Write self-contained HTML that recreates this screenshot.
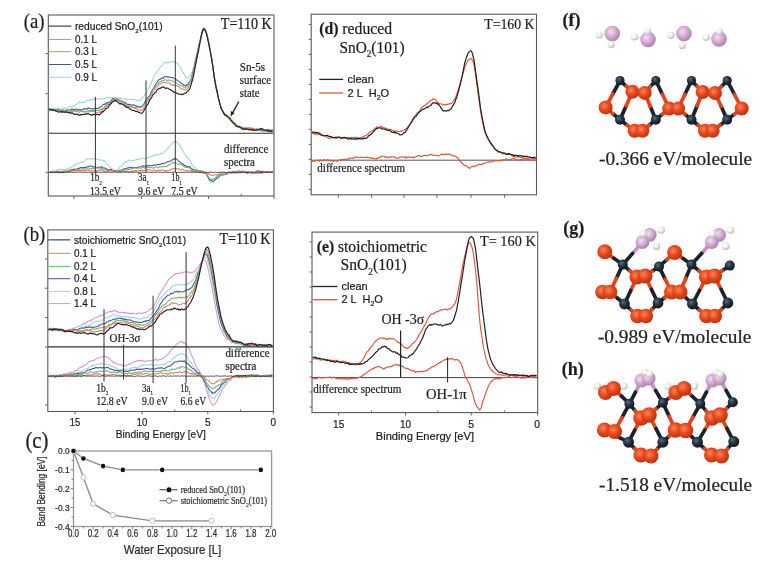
<!DOCTYPE html>
<html><head><meta charset="utf-8"><style>
html,body{margin:0;padding:0;background:#fff;}
svg{display:block;}
text{stroke:#1e1e1e;stroke-width:0.22px;}
</style></head><body>
<svg width="762" height="567" viewBox="0 0 762 567">
<defs>
<radialGradient id="gR" cx="40%" cy="38%" r="65%"><stop offset="0" stop-color="#f7865a"/><stop offset="0.5" stop-color="#e8471c"/><stop offset="1" stop-color="#b8320e"/></radialGradient>
<radialGradient id="gD" cx="38%" cy="35%" r="65%"><stop offset="0" stop-color="#5d6b78"/><stop offset="0.5" stop-color="#243242"/><stop offset="1" stop-color="#131a22"/></radialGradient>
<radialGradient id="gP" cx="40%" cy="38%" r="65%"><stop offset="0" stop-color="#f2e0f0"/><stop offset="0.5" stop-color="#d6aad5"/><stop offset="1" stop-color="#a880a8"/></radialGradient>
<radialGradient id="gH" cx="38%" cy="35%" r="65%"><stop offset="0" stop-color="#ffffff"/><stop offset="0.5" stop-color="#f0f0ea"/><stop offset="1" stop-color="#bdbdb5"/></radialGradient>
<filter id="bl" x="0" y="0" width="100%" height="100%"><feGaussianBlur stdDeviation="0.3"/></filter>
</defs>
<rect width="762" height="567" fill="#fff"/>
<g filter="url(#bl)">
<path d="M48.8,109.0 L49.6,108.8 L50.4,108.5 L51.2,108.8 L52.0,108.9 L52.8,109.0 L53.6,108.5 L54.4,108.9 L55.2,108.6 L56.0,108.0 L56.8,108.7 L57.6,108.4 L58.4,108.6 L59.2,109.1 L60.0,109.2 L60.8,109.3 L61.6,108.8 L62.4,108.7 L63.2,108.5 L64.0,108.2 L64.8,108.0 L65.6,108.0 L66.4,107.7 L67.2,108.3 L68.0,108.0 L68.8,106.9 L69.6,106.2 L70.4,106.6 L71.2,107.1 L72.0,106.8 L72.8,106.7 L73.6,106.1 L74.4,105.7 L75.2,105.3 L76.0,104.0 L76.8,104.4 L77.6,103.7 L78.4,102.4 L79.2,101.9 L80.0,102.6 L80.8,102.2 L81.6,102.7 L82.4,102.3 L83.2,102.6 L84.0,102.3 L84.8,102.3 L85.6,101.8 L86.4,100.9 L87.2,100.6 L88.0,100.4 L88.8,100.3 L89.6,100.4 L90.4,99.6 L91.2,99.6 L92.0,99.6 L92.8,99.7 L93.6,99.2 L94.4,98.7 L95.2,99.8 L96.0,99.3 L96.8,98.6 L97.6,99.2 L98.4,99.0 L99.2,98.9 L100.0,98.6 L100.8,98.7 L101.6,98.7 L102.4,99.3 L103.2,98.5 L104.0,98.3 L104.8,98.4 L105.6,98.5 L106.4,97.3 L107.2,97.3 L108.0,97.6 L108.8,97.3 L109.6,98.2 L110.4,97.8 L111.2,97.8 L112.0,97.9 L112.8,97.5 L113.6,97.1 L114.4,97.4 L115.2,98.0 L116.0,97.8 L116.8,98.1 L117.6,98.3 L118.4,97.7 L119.2,97.5 L120.0,97.7 L120.8,98.2 L121.6,98.5 L122.4,99.1 L123.2,99.0 L124.0,98.8 L124.8,98.7 L125.6,99.0 L126.4,99.4 L127.2,99.4 L128.0,99.2 L128.8,99.7 L129.6,99.8 L130.4,99.3 L131.2,99.4 L132.0,99.3 L132.8,99.5 L133.6,99.1 L134.4,99.3 L135.2,100.0 L136.0,100.1 L136.8,100.5 L137.6,100.7 L138.4,99.8 L139.2,99.9 L140.0,100.4 L140.8,100.1 L141.6,98.9 L142.4,97.9 L143.2,96.8 L144.0,96.2 L144.8,94.7 L145.6,94.4 L146.4,92.6 L147.2,91.7 L148.0,89.2 L148.8,88.2 L149.6,86.4 L150.4,84.5 L151.2,83.3 L152.0,81.5 L152.8,79.5 L153.6,77.4 L154.4,75.1 L155.2,74.0 L156.0,73.2 L156.8,72.3 L157.6,71.1 L158.4,69.7 L159.2,68.6 L160.0,67.6 L160.8,66.3 L161.6,66.2 L162.4,65.5 L163.2,63.9 L164.0,63.3 L164.8,62.3 L165.6,62.4 L166.4,62.5 L167.2,63.0 L168.0,62.8 L168.8,62.5 L169.6,62.2 L170.4,62.4 L171.2,61.9 L172.0,61.5 L172.8,61.6 L173.6,61.6 L174.4,61.9 L175.2,62.5 L176.0,62.7 L176.8,62.9 L177.6,63.8 L178.4,64.3 L179.2,66.0 L180.0,67.0 L180.8,67.7 L181.6,69.9 L182.4,71.5 L183.2,72.7 L184.0,74.0 L184.8,75.7 L185.6,77.1 L186.4,77.4 L187.2,77.2 L188.0,77.6 L188.8,77.3 L189.6,76.2 L190.4,75.6 L191.2,73.3 L192.0,71.9 L192.8,69.5 L193.6,66.8 L194.4,63.7 L195.2,60.3 L196.0,56.9 L196.8,53.3 L197.6,49.8 L198.4,46.1 L199.2,43.2 L200.0,39.7 L200.8,36.8 L201.6,33.4 L202.4,31.0 L203.2,28.6 L204.0,27.4 L204.8,28.3 L205.6,29.1 L206.4,32.1 L207.2,34.5 L208.0,38.5 L208.8,43.2 L209.6,47.5 L210.4,52.9 L211.2,57.5 L212.0,61.9 L212.8,67.7 L213.6,73.4 L214.4,79.5 L215.2,83.9 L216.0,88.2 L216.8,91.1 L217.6,95.3 L218.4,98.2 L219.2,101.7 L220.0,104.6 L220.8,107.4 L221.6,109.6 L222.4,111.3 L223.2,112.8 L224.0,113.7 L224.8,114.4 L225.6,114.6 L226.4,116.0 L227.2,116.7 L228.0,118.2 L228.8,118.7 L229.6,118.9 L230.4,119.3 L231.2,119.8 L232.0,120.8 L232.8,121.1 L233.6,121.9 L234.4,122.6 L235.2,123.8 L236.0,125.3 L236.8,126.4 L237.6,126.4 L238.4,126.2 L239.2,127.1 L240.0,127.0 L240.8,127.5 L241.6,127.3 L242.4,128.2 L243.2,128.1 L244.0,128.4 L244.8,127.6 L245.6,127.6 L246.4,127.9 L247.2,127.8 L248.0,128.0 L248.8,128.4 L249.6,128.0 L250.4,128.9 L251.2,129.2 L252.0,129.1 L252.8,128.9 L253.6,129.2 L254.4,129.0 L255.2,129.7 L256.0,129.9 L256.8,130.3 L257.6,129.3 L258.4,129.6 L259.2,130.8 L260.0,131.2 L260.8,130.8 L261.6,131.4 L262.4,130.8 L263.2,130.7 L264.0,131.0 L264.8,131.6 L265.6,131.3 L266.4,131.3 L267.2,131.8 L268.0,132.2 L268.8,131.5 L269.6,132.4 L270.4,131.5 L271.2,131.6 L272.0,131.5 L272.8,131.0" fill="none" stroke="#9dd6d8" stroke-width="1.05" stroke-linejoin="round" />
<path d="M48.8,109.1 L49.6,109.8 L50.4,110.6 L51.2,110.2 L52.0,110.2 L52.8,110.1 L53.6,110.7 L54.4,110.2 L55.2,109.5 L56.0,109.8 L56.8,109.7 L57.6,109.7 L58.4,109.2 L59.2,109.9 L60.0,109.9 L60.8,110.3 L61.6,110.5 L62.4,110.5 L63.2,110.2 L64.0,110.2 L64.8,110.9 L65.6,110.6 L66.4,110.7 L67.2,109.9 L68.0,109.9 L68.8,109.9 L69.6,110.0 L70.4,109.7 L71.2,109.2 L72.0,108.9 L72.8,109.3 L73.6,110.0 L74.4,109.5 L75.2,109.5 L76.0,109.0 L76.8,109.1 L77.6,109.4 L78.4,110.3 L79.2,109.3 L80.0,110.2 L80.8,109.8 L81.6,109.5 L82.4,109.7 L83.2,109.8 L84.0,108.4 L84.8,108.7 L85.6,108.8 L86.4,109.1 L87.2,108.8 L88.0,107.7 L88.8,108.4 L89.6,108.3 L90.4,108.7 L91.2,108.9 L92.0,109.0 L92.8,108.7 L93.6,108.7 L94.4,108.4 L95.2,108.1 L96.0,108.6 L96.8,108.6 L97.6,108.4 L98.4,107.8 L99.2,108.1 L100.0,107.3 L100.8,106.7 L101.6,106.3 L102.4,105.5 L103.2,104.3 L104.0,104.4 L104.8,104.1 L105.6,104.1 L106.4,102.9 L107.2,103.3 L108.0,102.4 L108.8,102.1 L109.6,102.7 L110.4,101.3 L111.2,100.8 L112.0,99.6 L112.8,98.6 L113.6,98.4 L114.4,99.1 L115.2,99.8 L116.0,99.9 L116.8,100.0 L117.6,98.7 L118.4,99.8 L119.2,100.3 L120.0,100.6 L120.8,100.6 L121.6,101.0 L122.4,101.4 L123.2,102.3 L124.0,102.1 L124.8,102.4 L125.6,103.0 L126.4,103.6 L127.2,104.3 L128.0,104.5 L128.8,104.3 L129.6,104.4 L130.4,104.5 L131.2,105.4 L132.0,105.0 L132.8,105.2 L133.6,104.6 L134.4,105.4 L135.2,105.8 L136.0,105.3 L136.8,106.3 L137.6,107.0 L138.4,106.1 L139.2,106.8 L140.0,107.1 L140.8,106.4 L141.6,106.3 L142.4,106.0 L143.2,104.8 L144.0,103.9 L144.8,102.0 L145.6,100.9 L146.4,99.4 L147.2,98.3 L148.0,97.4 L148.8,96.5 L149.6,95.5 L150.4,94.2 L151.2,91.7 L152.0,90.9 L152.8,89.3 L153.6,88.0 L154.4,86.9 L155.2,85.6 L156.0,83.3 L156.8,82.7 L157.6,81.3 L158.4,80.4 L159.2,79.4 L160.0,79.4 L160.8,79.1 L161.6,77.9 L162.4,78.0 L163.2,78.4 L164.0,76.9 L164.8,76.7 L165.6,76.8 L166.4,76.5 L167.2,76.5 L168.0,77.5 L168.8,76.9 L169.6,77.1 L170.4,77.3 L171.2,77.5 L172.0,77.6 L172.8,77.5 L173.6,78.1 L174.4,78.6 L175.2,79.0 L176.0,79.9 L176.8,79.8 L177.6,80.5 L178.4,81.1 L179.2,81.6 L180.0,82.4 L180.8,82.7 L181.6,83.6 L182.4,83.7 L183.2,84.9 L184.0,84.8 L184.8,85.5 L185.6,86.3 L186.4,85.0 L187.2,84.4 L188.0,84.2 L188.8,82.5 L189.6,82.1 L190.4,79.8 L191.2,78.5 L192.0,75.6 L192.8,73.0 L193.6,69.5 L194.4,66.5 L195.2,62.0 L196.0,58.5 L196.8,55.1 L197.6,50.8 L198.4,48.4 L199.2,44.1 L200.0,41.4 L200.8,37.4 L201.6,34.3 L202.4,31.0 L203.2,28.8 L204.0,28.2 L204.8,28.9 L205.6,30.3 L206.4,33.0 L207.2,36.4 L208.0,40.2 L208.8,43.5 L209.6,48.0 L210.4,52.0 L211.2,56.2 L212.0,61.0 L212.8,66.2 L213.6,72.3 L214.4,78.3 L215.2,82.9 L216.0,87.2 L216.8,90.3 L217.6,93.9 L218.4,97.8 L219.2,101.5 L220.0,104.3 L220.8,107.3 L221.6,109.5 L222.4,111.0 L223.2,112.5 L224.0,114.2 L224.8,115.2 L225.6,115.4 L226.4,116.1 L227.2,116.0 L228.0,116.4 L228.8,117.4 L229.6,117.6 L230.4,119.0 L231.2,119.4 L232.0,120.7 L232.8,121.8 L233.6,122.6 L234.4,123.6 L235.2,124.5 L236.0,125.8 L236.8,125.5 L237.6,125.9 L238.4,126.7 L239.2,127.2 L240.0,128.0 L240.8,128.1 L241.6,129.0 L242.4,129.5 L243.2,129.9 L244.0,129.2 L244.8,128.7 L245.6,129.0 L246.4,129.5 L247.2,128.9 L248.0,128.6 L248.8,128.1 L249.6,127.9 L250.4,128.3 L251.2,128.5 L252.0,128.8 L252.8,129.0 L253.6,128.9 L254.4,129.4 L255.2,129.6 L256.0,129.9 L256.8,130.1 L257.6,129.8 L258.4,130.1 L259.2,129.6 L260.0,130.2 L260.8,130.5 L261.6,130.0 L262.4,130.7 L263.2,130.6 L264.0,130.7 L264.8,130.3 L265.6,130.0 L266.4,131.1 L267.2,130.5 L268.0,131.2 L268.8,131.7 L269.6,131.1 L270.4,131.4 L271.2,131.9 L272.0,131.6 L272.8,131.3" fill="none" stroke="#44549a" stroke-width="1.05" stroke-linejoin="round" />
<path d="M48.8,110.0 L49.6,110.2 L50.4,110.8 L51.2,110.5 L52.0,110.2 L52.8,109.8 L53.6,110.0 L54.4,110.5 L55.2,110.3 L56.0,109.5 L56.8,109.8 L57.6,109.7 L58.4,110.3 L59.2,110.4 L60.0,110.6 L60.8,110.6 L61.6,111.0 L62.4,109.9 L63.2,110.3 L64.0,110.7 L64.8,110.3 L65.6,110.3 L66.4,109.7 L67.2,110.2 L68.0,109.7 L68.8,110.0 L69.6,110.1 L70.4,111.2 L71.2,110.6 L72.0,111.3 L72.8,110.5 L73.6,110.6 L74.4,110.8 L75.2,110.4 L76.0,110.6 L76.8,111.1 L77.6,110.7 L78.4,110.6 L79.2,110.7 L80.0,110.2 L80.8,110.7 L81.6,110.7 L82.4,110.0 L83.2,109.3 L84.0,109.9 L84.8,109.6 L85.6,109.3 L86.4,109.8 L87.2,109.8 L88.0,110.2 L88.8,110.9 L89.6,110.4 L90.4,110.5 L91.2,110.7 L92.0,110.0 L92.8,110.2 L93.6,110.6 L94.4,109.9 L95.2,110.5 L96.0,110.6 L96.8,110.6 L97.6,110.5 L98.4,110.1 L99.2,110.4 L100.0,109.5 L100.8,109.7 L101.6,108.8 L102.4,108.2 L103.2,108.2 L104.0,107.9 L104.8,106.7 L105.6,105.8 L106.4,105.7 L107.2,104.4 L108.0,104.5 L108.8,103.9 L109.6,102.5 L110.4,102.5 L111.2,101.4 L112.0,100.6 L112.8,99.5 L113.6,99.8 L114.4,98.8 L115.2,98.5 L116.0,98.6 L116.8,98.8 L117.6,99.4 L118.4,99.8 L119.2,100.0 L120.0,99.9 L120.8,100.7 L121.6,101.3 L122.4,102.3 L123.2,102.7 L124.0,103.4 L124.8,104.3 L125.6,105.3 L126.4,105.1 L127.2,105.2 L128.0,105.8 L128.8,105.9 L129.6,106.3 L130.4,106.2 L131.2,105.9 L132.0,106.3 L132.8,107.1 L133.6,107.4 L134.4,107.4 L135.2,107.3 L136.0,107.7 L136.8,107.9 L137.6,107.4 L138.4,107.1 L139.2,107.3 L140.0,107.8 L140.8,107.9 L141.6,107.3 L142.4,106.6 L143.2,105.7 L144.0,104.7 L144.8,103.8 L145.6,102.6 L146.4,100.1 L147.2,99.4 L148.0,98.8 L148.8,97.7 L149.6,96.7 L150.4,95.6 L151.2,93.7 L152.0,92.1 L152.8,89.8 L153.6,89.4 L154.4,87.3 L155.2,87.3 L156.0,85.6 L156.8,84.8 L157.6,84.1 L158.4,83.4 L159.2,82.1 L160.0,82.0 L160.8,81.4 L161.6,81.2 L162.4,80.2 L163.2,80.6 L164.0,80.3 L164.8,79.8 L165.6,79.7 L166.4,80.7 L167.2,80.7 L168.0,79.9 L168.8,80.2 L169.6,80.0 L170.4,80.4 L171.2,80.3 L172.0,80.3 L172.8,81.3 L173.6,81.2 L174.4,82.0 L175.2,82.0 L176.0,82.4 L176.8,83.1 L177.6,83.7 L178.4,84.2 L179.2,84.8 L180.0,84.7 L180.8,85.9 L181.6,85.7 L182.4,86.0 L183.2,86.7 L184.0,87.5 L184.8,88.0 L185.6,88.0 L186.4,87.1 L187.2,86.4 L188.0,85.5 L188.8,84.3 L189.6,82.5 L190.4,81.3 L191.2,78.9 L192.0,76.7 L192.8,74.3 L193.6,71.0 L194.4,67.3 L195.2,63.8 L196.0,60.4 L196.8,56.8 L197.6,52.6 L198.4,48.3 L199.2,44.9 L200.0,41.2 L200.8,38.1 L201.6,35.0 L202.4,31.3 L203.2,30.1 L204.0,29.6 L204.8,29.7 L205.6,30.2 L206.4,33.2 L207.2,35.4 L208.0,39.1 L208.8,42.9 L209.6,46.9 L210.4,51.6 L211.2,55.7 L212.0,60.0 L212.8,66.0 L213.6,71.5 L214.4,77.6 L215.2,81.7 L216.0,86.0 L216.8,90.0 L217.6,93.8 L218.4,98.1 L219.2,101.3 L220.0,104.2 L220.8,106.2 L221.6,108.4 L222.4,110.1 L223.2,111.8 L224.0,112.8 L224.8,113.8 L225.6,114.6 L226.4,116.0 L227.2,115.8 L228.0,117.1 L228.8,117.1 L229.6,117.9 L230.4,119.2 L231.2,119.4 L232.0,120.2 L232.8,121.6 L233.6,122.5 L234.4,123.4 L235.2,124.3 L236.0,124.8 L236.8,124.8 L237.6,125.6 L238.4,126.0 L239.2,126.4 L240.0,127.4 L240.8,127.9 L241.6,129.2 L242.4,129.2 L243.2,128.9 L244.0,128.7 L244.8,129.0 L245.6,128.9 L246.4,127.9 L247.2,128.0 L248.0,128.2 L248.8,128.3 L249.6,128.9 L250.4,130.0 L251.2,129.5 L252.0,129.3 L252.8,130.4 L253.6,129.8 L254.4,130.0 L255.2,129.2 L256.0,130.0 L256.8,129.6 L257.6,129.9 L258.4,129.9 L259.2,130.3 L260.0,129.6 L260.8,130.2 L261.6,129.7 L262.4,129.4 L263.2,130.3 L264.0,130.0 L264.8,129.5 L265.6,130.3 L266.4,129.9 L267.2,129.3 L268.0,130.0 L268.8,130.3 L269.6,130.3 L270.4,130.3 L271.2,130.6 L272.0,129.9 L272.8,130.7" fill="none" stroke="#6fb874" stroke-width="1.05" stroke-linejoin="round" />
<path d="M48.8,109.0 L49.6,108.9 L50.4,109.4 L51.2,109.9 L52.0,110.1 L52.8,109.9 L53.6,109.6 L54.4,110.2 L55.2,110.7 L56.0,111.5 L56.8,111.4 L57.6,111.2 L58.4,110.7 L59.2,110.1 L60.0,110.4 L60.8,110.9 L61.6,111.7 L62.4,111.0 L63.2,111.3 L64.0,111.6 L64.8,112.0 L65.6,111.9 L66.4,111.5 L67.2,111.3 L68.0,112.0 L68.8,111.9 L69.6,111.4 L70.4,112.0 L71.2,111.6 L72.0,111.6 L72.8,110.7 L73.6,110.9 L74.4,111.2 L75.2,110.9 L76.0,111.2 L76.8,111.3 L77.6,111.2 L78.4,111.8 L79.2,112.6 L80.0,112.0 L80.8,111.1 L81.6,111.5 L82.4,111.7 L83.2,111.2 L84.0,111.5 L84.8,112.4 L85.6,111.4 L86.4,111.9 L87.2,111.6 L88.0,111.7 L88.8,112.0 L89.6,111.6 L90.4,111.5 L91.2,111.5 L92.0,111.6 L92.8,111.5 L93.6,111.5 L94.4,111.9 L95.2,111.6 L96.0,112.4 L96.8,112.9 L97.6,112.5 L98.4,111.8 L99.2,112.4 L100.0,112.2 L100.8,111.4 L101.6,110.6 L102.4,109.6 L103.2,108.8 L104.0,108.1 L104.8,107.6 L105.6,106.6 L106.4,106.4 L107.2,105.9 L108.0,105.2 L108.8,104.0 L109.6,104.6 L110.4,104.2 L111.2,103.1 L112.0,101.9 L112.8,101.1 L113.6,100.3 L114.4,100.7 L115.2,100.6 L116.0,100.2 L116.8,101.1 L117.6,100.5 L118.4,101.1 L119.2,101.1 L120.0,101.8 L120.8,102.0 L121.6,102.8 L122.4,102.8 L123.2,103.9 L124.0,104.5 L124.8,105.2 L125.6,105.4 L126.4,105.7 L127.2,106.3 L128.0,106.3 L128.8,106.0 L129.6,106.8 L130.4,106.2 L131.2,107.3 L132.0,107.3 L132.8,107.7 L133.6,107.7 L134.4,108.0 L135.2,108.5 L136.0,108.3 L136.8,108.9 L137.6,109.4 L138.4,109.6 L139.2,110.3 L140.0,110.6 L140.8,109.8 L141.6,110.3 L142.4,110.3 L143.2,109.1 L144.0,107.5 L144.8,105.8 L145.6,104.6 L146.4,103.0 L147.2,101.6 L148.0,101.0 L148.8,99.4 L149.6,98.3 L150.4,96.7 L151.2,94.8 L152.0,93.9 L152.8,92.3 L153.6,90.8 L154.4,89.7 L155.2,88.9 L156.0,88.2 L156.8,87.4 L157.6,86.3 L158.4,85.9 L159.2,84.4 L160.0,84.1 L160.8,83.7 L161.6,83.0 L162.4,82.6 L163.2,82.0 L164.0,82.6 L164.8,82.4 L165.6,82.2 L166.4,82.9 L167.2,82.9 L168.0,82.9 L168.8,82.7 L169.6,82.7 L170.4,83.4 L171.2,85.0 L172.0,85.0 L172.8,85.7 L173.6,84.8 L174.4,85.5 L175.2,85.4 L176.0,85.3 L176.8,85.5 L177.6,86.2 L178.4,86.3 L179.2,86.7 L180.0,88.1 L180.8,88.7 L181.6,89.1 L182.4,89.0 L183.2,89.2 L184.0,89.4 L184.8,89.7 L185.6,90.3 L186.4,89.9 L187.2,88.4 L188.0,87.8 L188.8,86.3 L189.6,85.0 L190.4,83.2 L191.2,81.7 L192.0,78.6 L192.8,76.3 L193.6,73.2 L194.4,69.1 L195.2,64.8 L196.0,62.1 L196.8,58.3 L197.6,54.2 L198.4,50.5 L199.2,46.8 L200.0,43.1 L200.8,39.2 L201.6,35.4 L202.4,32.9 L203.2,30.3 L204.0,28.9 L204.8,29.4 L205.6,29.9 L206.4,32.7 L207.2,34.8 L208.0,39.0 L208.8,42.8 L209.6,46.1 L210.4,50.6 L211.2,55.5 L212.0,59.8 L212.8,65.6 L213.6,71.5 L214.4,76.9 L215.2,82.1 L216.0,86.6 L216.8,89.9 L217.6,93.8 L218.4,98.0 L219.2,101.5 L220.0,104.0 L220.8,107.5 L221.6,108.7 L222.4,109.8 L223.2,111.9 L224.0,113.4 L224.8,114.3 L225.6,114.0 L226.4,114.7 L227.2,115.5 L228.0,116.3 L228.8,116.8 L229.6,118.3 L230.4,119.3 L231.2,120.5 L232.0,121.1 L232.8,121.4 L233.6,122.4 L234.4,123.1 L235.2,123.3 L236.0,124.2 L236.8,125.8 L237.6,126.0 L238.4,127.4 L239.2,127.5 L240.0,127.5 L240.8,127.6 L241.6,127.4 L242.4,127.7 L243.2,127.7 L244.0,128.1 L244.8,127.9 L245.6,128.3 L246.4,127.8 L247.2,128.7 L248.0,129.2 L248.8,128.6 L249.6,128.3 L250.4,128.8 L251.2,127.8 L252.0,127.9 L252.8,128.6 L253.6,128.6 L254.4,129.2 L255.2,129.7 L256.0,128.8 L256.8,128.6 L257.6,129.3 L258.4,129.0 L259.2,129.2 L260.0,130.1 L260.8,129.6 L261.6,129.6 L262.4,130.5 L263.2,131.0 L264.0,130.1 L264.8,130.2 L265.6,131.0 L266.4,131.1 L267.2,131.0 L268.0,130.9 L268.8,129.7 L269.6,130.0 L270.4,130.1 L271.2,130.4 L272.0,129.6 L272.8,129.9" fill="none" stroke="#e27d68" stroke-width="1.05" stroke-linejoin="round" />
<path d="M48.8,109.4 L49.6,109.3 L50.4,109.5 L51.2,109.5 L52.0,109.5 L52.8,110.3 L53.6,109.9 L54.4,110.3 L55.2,110.8 L56.0,110.8 L56.8,111.1 L57.6,111.7 L58.4,111.9 L59.2,112.1 L60.0,111.9 L60.8,112.0 L61.6,111.1 L62.4,112.5 L63.2,111.9 L64.0,111.8 L64.8,112.4 L65.6,112.1 L66.4,112.1 L67.2,112.2 L68.0,112.6 L68.8,112.6 L69.6,112.5 L70.4,113.4 L71.2,113.0 L72.0,112.7 L72.8,113.2 L73.6,114.1 L74.4,114.1 L75.2,114.4 L76.0,114.1 L76.8,114.1 L77.6,114.4 L78.4,114.8 L79.2,115.4 L80.0,114.9 L80.8,114.4 L81.6,115.0 L82.4,114.5 L83.2,114.4 L84.0,114.5 L84.8,114.0 L85.6,113.8 L86.4,114.3 L87.2,113.8 L88.0,113.4 L88.8,113.9 L89.6,114.3 L90.4,114.9 L91.2,114.7 L92.0,115.3 L92.8,114.6 L93.6,114.2 L94.4,114.4 L95.2,115.0 L96.0,114.3 L96.8,114.7 L97.6,114.3 L98.4,114.6 L99.2,115.1 L100.0,114.4 L100.8,113.5 L101.6,112.8 L102.4,111.4 L103.2,111.8 L104.0,110.8 L104.8,110.1 L105.6,108.6 L106.4,108.5 L107.2,108.0 L108.0,107.6 L108.8,106.2 L109.6,105.3 L110.4,103.9 L111.2,103.6 L112.0,102.3 L112.8,101.9 L113.6,101.1 L114.4,100.9 L115.2,100.8 L116.0,100.8 L116.8,101.4 L117.6,102.1 L118.4,102.8 L119.2,103.1 L120.0,104.1 L120.8,103.4 L121.6,104.1 L122.4,104.3 L123.2,104.8 L124.0,105.2 L124.8,105.8 L125.6,106.5 L126.4,107.4 L127.2,107.3 L128.0,107.9 L128.8,107.8 L129.6,108.3 L130.4,109.2 L131.2,109.8 L132.0,110.1 L132.8,110.4 L133.6,110.5 L134.4,110.4 L135.2,111.5 L136.0,111.7 L136.8,111.2 L137.6,111.2 L138.4,112.5 L139.2,112.3 L140.0,112.9 L140.8,113.3 L141.6,113.2 L142.4,112.9 L143.2,111.8 L144.0,110.5 L144.8,108.8 L145.6,107.9 L146.4,106.2 L147.2,104.9 L148.0,104.1 L148.8,102.3 L149.6,100.2 L150.4,99.2 L151.2,98.3 L152.0,96.8 L152.8,94.9 L153.6,94.2 L154.4,93.6 L155.2,92.2 L156.0,92.2 L156.8,90.3 L157.6,89.4 L158.4,89.0 L159.2,88.4 L160.0,88.4 L160.8,87.9 L161.6,87.6 L162.4,87.0 L163.2,86.9 L164.0,87.4 L164.8,87.9 L165.6,88.6 L166.4,87.8 L167.2,88.1 L168.0,88.3 L168.8,88.9 L169.6,89.4 L170.4,89.6 L171.2,90.3 L172.0,90.9 L172.8,91.2 L173.6,91.9 L174.4,92.6 L175.2,92.4 L176.0,92.7 L176.8,93.4 L177.6,93.5 L178.4,93.9 L179.2,94.2 L180.0,94.2 L180.8,94.3 L181.6,94.0 L182.4,94.7 L183.2,94.3 L184.0,93.7 L184.8,93.1 L185.6,93.1 L186.4,92.7 L187.2,91.6 L188.0,91.0 L188.8,89.9 L189.6,89.2 L190.4,86.6 L191.2,84.4 L192.0,81.7 L192.8,78.8 L193.6,75.1 L194.4,71.3 L195.2,66.6 L196.0,63.0 L196.8,58.7 L197.6,54.7 L198.4,51.4 L199.2,46.5 L200.0,42.1 L200.8,38.5 L201.6,33.8 L202.4,31.3 L203.2,29.6 L204.0,29.6 L204.8,30.1 L205.6,31.6 L206.4,33.9 L207.2,36.5 L208.0,40.4 L208.8,43.9 L209.6,48.5 L210.4,52.5 L211.2,56.7 L212.0,61.6 L212.8,66.0 L213.6,72.2 L214.4,78.1 L215.2,82.5 L216.0,87.0 L216.8,90.5 L217.6,93.9 L218.4,98.2 L219.2,101.1 L220.0,104.1 L220.8,107.4 L221.6,109.0 L222.4,111.0 L223.2,112.1 L224.0,113.5 L224.8,114.9 L225.6,115.5 L226.4,115.3 L227.2,116.4 L228.0,117.1 L228.8,117.7 L229.6,118.5 L230.4,120.1 L231.2,120.7 L232.0,121.6 L232.8,122.8 L233.6,123.2 L234.4,123.9 L235.2,125.0 L236.0,125.7 L236.8,126.4 L237.6,126.8 L238.4,126.6 L239.2,126.5 L240.0,127.0 L240.8,127.0 L241.6,128.2 L242.4,128.3 L243.2,128.5 L244.0,129.5 L244.8,129.4 L245.6,128.9 L246.4,128.7 L247.2,129.1 L248.0,129.3 L248.8,129.9 L249.6,129.5 L250.4,129.7 L251.2,130.1 L252.0,129.3 L252.8,130.1 L253.6,130.5 L254.4,130.1 L255.2,130.0 L256.0,130.1 L256.8,130.1 L257.6,129.7 L258.4,129.5 L259.2,129.0 L260.0,129.4 L260.8,128.4 L261.6,129.2 L262.4,128.6 L263.2,129.6 L264.0,130.1 L264.8,130.2 L265.6,130.5 L266.4,130.3 L267.2,129.9 L268.0,130.2 L268.8,130.8 L269.6,130.6 L270.4,130.8 L271.2,131.2 L272.0,131.0 L272.8,131.2" fill="none" stroke="#222222" stroke-width="1.15" stroke-linejoin="round" />
<path d="M48.8,172.4 L49.6,171.9 L50.4,171.9 L51.2,172.4 L52.0,171.9 L52.8,171.5 L53.6,171.5 L54.4,171.4 L55.2,170.9 L56.0,171.2 L56.8,170.4 L57.6,170.8 L58.4,169.8 L59.2,169.1 L60.0,169.2 L60.8,169.5 L61.6,169.5 L62.4,170.1 L63.2,169.6 L64.0,169.6 L64.8,169.8 L65.6,169.7 L66.4,168.9 L67.2,169.0 L68.0,169.0 L68.8,168.5 L69.6,167.7 L70.4,167.9 L71.2,167.1 L72.0,166.7 L72.8,166.2 L73.6,165.6 L74.4,165.9 L75.2,164.4 L76.0,164.8 L76.8,164.0 L77.6,163.9 L78.4,163.3 L79.2,163.3 L80.0,163.1 L80.8,162.8 L81.6,161.7 L82.4,162.6 L83.2,162.6 L84.0,162.1 L84.8,161.5 L85.6,160.4 L86.4,159.2 L87.2,159.4 L88.0,158.8 L88.8,158.7 L89.6,158.4 L90.4,159.3 L91.2,159.2 L92.0,159.0 L92.8,158.2 L93.6,158.9 L94.4,159.0 L95.2,159.3 L96.0,159.3 L96.8,159.0 L97.6,159.1 L98.4,160.0 L99.2,159.6 L100.0,160.1 L100.8,160.1 L101.6,160.0 L102.4,160.0 L103.2,161.1 L104.0,160.5 L104.8,161.9 L105.6,162.4 L106.4,163.6 L107.2,164.3 L108.0,165.0 L108.8,165.9 L109.6,166.4 L110.4,167.6 L111.2,168.8 L112.0,168.8 L112.8,169.2 L113.6,170.1 L114.4,170.4 L115.2,170.4 L116.0,170.4 L116.8,169.8 L117.6,169.6 L118.4,169.2 L119.2,168.2 L120.0,166.9 L120.8,166.8 L121.6,166.4 L122.4,165.1 L123.2,164.0 L124.0,163.3 L124.8,162.3 L125.6,162.1 L126.4,162.5 L127.2,161.0 L128.0,161.1 L128.8,160.6 L129.6,159.7 L130.4,161.0 L131.2,160.9 L132.0,160.7 L132.8,160.4 L133.6,160.4 L134.4,160.2 L135.2,159.8 L136.0,159.5 L136.8,159.1 L137.6,159.0 L138.4,159.8 L139.2,158.8 L140.0,158.8 L140.8,159.1 L141.6,158.9 L142.4,158.6 L143.2,158.0 L144.0,158.4 L144.8,158.9 L145.6,159.1 L146.4,157.6 L147.2,157.5 L148.0,157.3 L148.8,157.2 L149.6,157.4 L150.4,157.3 L151.2,156.4 L152.0,155.7 L152.8,156.2 L153.6,155.7 L154.4,155.2 L155.2,155.2 L156.0,154.6 L156.8,154.4 L157.6,154.2 L158.4,154.2 L159.2,154.4 L160.0,154.1 L160.8,153.4 L161.6,153.5 L162.4,153.1 L163.2,152.7 L164.0,152.4 L164.8,151.5 L165.6,150.8 L166.4,150.0 L167.2,149.0 L168.0,148.1 L168.8,147.0 L169.6,146.7 L170.4,145.6 L171.2,144.2 L172.0,143.4 L172.8,142.8 L173.6,141.8 L174.4,141.6 L175.2,141.7 L176.0,141.8 L176.8,142.3 L177.6,142.4 L178.4,143.6 L179.2,144.3 L180.0,145.7 L180.8,147.4 L181.6,149.0 L182.4,150.3 L183.2,151.1 L184.0,152.9 L184.8,154.3 L185.6,155.4 L186.4,156.5 L187.2,157.1 L188.0,158.3 L188.8,159.3 L189.6,160.6 L190.4,161.5 L191.2,162.6 L192.0,164.5 L192.8,165.3 L193.6,166.5 L194.4,167.3 L195.2,167.4 L196.0,168.3 L196.8,169.8 L197.6,169.4 L198.4,170.2 L199.2,170.5 L200.0,170.6 L200.8,170.9 L201.6,171.6 L202.4,171.4 L203.2,172.0 L204.0,172.4 L204.8,172.5 L205.6,173.5 L206.4,174.4 L207.2,176.3 L208.0,177.0 L208.8,179.4 L209.6,181.0 L210.4,181.7 L211.2,182.7 L212.0,182.3 L212.8,182.9 L213.6,182.0 L214.4,181.0 L215.2,179.8 L216.0,179.8 L216.8,178.4 L217.6,178.3 L218.4,178.0 L219.2,176.5 L220.0,176.8 L220.8,175.8 L221.6,175.8 L222.4,175.8 L223.2,175.5 L224.0,175.1 L224.8,174.3 L225.6,174.8 L226.4,173.8 L227.2,174.0 L228.0,172.6 L228.8,172.3 L229.6,172.8 L230.4,173.2 L231.2,173.0 L232.0,173.1 L232.8,172.3 L233.6,173.8 L234.4,172.7 L235.2,172.7 L236.0,172.7 L236.8,172.7 L237.6,172.8 L238.4,171.8 L239.2,171.6 L240.0,172.0 L240.8,172.3 L241.6,172.5 L242.4,172.7 L243.2,171.9 L244.0,172.2 L244.8,172.0 L245.6,172.7 L246.4,172.5 L247.2,172.7 L248.0,172.7 L248.8,172.7 L249.6,171.8 L250.4,171.9 L251.2,172.0 L252.0,172.6 L252.8,172.3 L253.6,172.2 L254.4,172.6 L255.2,173.6 L256.0,173.1 L256.8,172.5 L257.6,172.8 L258.4,172.6 L259.2,172.5 L260.0,172.9 L260.8,172.2 L261.6,172.3 L262.4,172.2 L263.2,172.8 L264.0,171.4 L264.8,172.2 L265.6,171.4 L266.4,171.7 L267.2,171.5 L268.0,172.3 L268.8,172.7 L269.6,172.6 L270.4,172.8 L271.2,172.4 L272.0,172.2 L272.8,171.5" fill="none" stroke="#9dd6d8" stroke-width="1.05" stroke-linejoin="round" />
<path d="M48.8,172.6 L49.6,172.4 L50.4,172.4 L51.2,171.7 L52.0,172.3 L52.8,171.3 L53.6,172.0 L54.4,171.6 L55.2,172.1 L56.0,172.2 L56.8,172.1 L57.6,172.1 L58.4,172.1 L59.2,172.8 L60.0,172.2 L60.8,172.3 L61.6,171.7 L62.4,171.4 L63.2,171.3 L64.0,171.2 L64.8,171.2 L65.6,171.1 L66.4,171.2 L67.2,170.9 L68.0,171.2 L68.8,170.7 L69.6,170.2 L70.4,169.9 L71.2,170.1 L72.0,169.5 L72.8,169.8 L73.6,169.5 L74.4,169.0 L75.2,169.4 L76.0,169.2 L76.8,169.3 L77.6,168.6 L78.4,168.2 L79.2,168.4 L80.0,167.8 L80.8,167.5 L81.6,167.7 L82.4,167.4 L83.2,167.7 L84.0,167.4 L84.8,167.3 L85.6,167.6 L86.4,167.0 L87.2,166.7 L88.0,167.1 L88.8,166.3 L89.6,166.2 L90.4,166.3 L91.2,166.1 L92.0,166.0 L92.8,166.9 L93.6,167.1 L94.4,166.8 L95.2,167.0 L96.0,167.8 L96.8,167.4 L97.6,167.3 L98.4,167.7 L99.2,167.1 L100.0,167.1 L100.8,167.7 L101.6,166.7 L102.4,167.1 L103.2,168.0 L104.0,168.0 L104.8,167.9 L105.6,168.5 L106.4,169.0 L107.2,169.7 L108.0,169.3 L108.8,169.7 L109.6,169.8 L110.4,169.8 L111.2,169.2 L112.0,170.8 L112.8,170.6 L113.6,170.6 L114.4,171.3 L115.2,170.5 L116.0,171.2 L116.8,171.3 L117.6,171.3 L118.4,171.0 L119.2,170.7 L120.0,170.6 L120.8,170.4 L121.6,169.7 L122.4,170.2 L123.2,169.6 L124.0,168.7 L124.8,169.0 L125.6,168.6 L126.4,168.7 L127.2,168.1 L128.0,167.8 L128.8,168.0 L129.6,167.3 L130.4,167.3 L131.2,167.4 L132.0,168.0 L132.8,167.6 L133.6,167.7 L134.4,167.5 L135.2,167.5 L136.0,167.5 L136.8,167.4 L137.6,167.7 L138.4,166.8 L139.2,167.0 L140.0,166.9 L140.8,166.8 L141.6,166.5 L142.4,166.0 L143.2,165.7 L144.0,166.2 L144.8,166.3 L145.6,165.6 L146.4,166.0 L147.2,166.0 L148.0,165.4 L148.8,166.0 L149.6,165.8 L150.4,165.5 L151.2,165.6 L152.0,166.0 L152.8,165.5 L153.6,164.8 L154.4,165.3 L155.2,165.0 L156.0,164.9 L156.8,165.0 L157.6,164.5 L158.4,164.6 L159.2,164.2 L160.0,164.6 L160.8,164.0 L161.6,163.9 L162.4,163.3 L163.2,163.9 L164.0,163.4 L164.8,162.9 L165.6,162.9 L166.4,162.3 L167.2,161.9 L168.0,161.3 L168.8,161.3 L169.6,161.4 L170.4,161.1 L171.2,161.0 L172.0,160.1 L172.8,159.8 L173.6,159.6 L174.4,158.4 L175.2,158.9 L176.0,158.7 L176.8,159.4 L177.6,159.9 L178.4,160.8 L179.2,161.5 L180.0,162.0 L180.8,162.8 L181.6,163.1 L182.4,163.6 L183.2,163.9 L184.0,165.4 L184.8,165.2 L185.6,165.7 L186.4,166.2 L187.2,166.4 L188.0,166.8 L188.8,166.7 L189.6,166.6 L190.4,167.6 L191.2,168.8 L192.0,168.7 L192.8,169.4 L193.6,169.5 L194.4,169.8 L195.2,170.1 L196.0,170.4 L196.8,170.8 L197.6,171.4 L198.4,172.0 L199.2,172.0 L200.0,172.0 L200.8,172.1 L201.6,171.8 L202.4,172.7 L203.2,172.5 L204.0,172.5 L204.8,173.5 L205.6,173.4 L206.4,173.8 L207.2,175.7 L208.0,176.9 L208.8,178.4 L209.6,179.9 L210.4,180.1 L211.2,180.1 L212.0,180.8 L212.8,181.4 L213.6,181.0 L214.4,180.3 L215.2,179.5 L216.0,178.9 L216.8,177.9 L217.6,178.1 L218.4,177.3 L219.2,175.6 L220.0,175.6 L220.8,175.1 L221.6,174.5 L222.4,174.7 L223.2,174.6 L224.0,174.4 L224.8,174.2 L225.6,173.7 L226.4,173.9 L227.2,174.0 L228.0,172.8 L228.8,172.8 L229.6,172.8 L230.4,172.8 L231.2,172.8 L232.0,172.9 L232.8,172.4 L233.6,171.7 L234.4,172.0 L235.2,171.8 L236.0,171.5 L236.8,171.4 L237.6,171.1 L238.4,171.4 L239.2,171.0 L240.0,171.7 L240.8,171.7 L241.6,172.2 L242.4,171.3 L243.2,171.0 L244.0,171.7 L244.8,171.6 L245.6,171.8 L246.4,172.9 L247.2,173.4 L248.0,172.5 L248.8,172.8 L249.6,172.2 L250.4,172.7 L251.2,172.9 L252.0,172.5 L252.8,173.2 L253.6,173.0 L254.4,172.9 L255.2,172.0 L256.0,171.9 L256.8,171.1 L257.6,170.9 L258.4,171.0 L259.2,170.9 L260.0,171.7 L260.8,171.7 L261.6,171.6 L262.4,171.5 L263.2,172.0 L264.0,171.9 L264.8,172.0 L265.6,172.3 L266.4,172.1 L267.2,171.9 L268.0,172.2 L268.8,172.3 L269.6,171.7 L270.4,171.8 L271.2,172.0 L272.0,171.6 L272.8,171.5" fill="none" stroke="#44549a" stroke-width="1.05" stroke-linejoin="round" />
<path d="M48.8,172.8 L49.6,172.7 L50.4,172.0 L51.2,172.0 L52.0,172.1 L52.8,171.0 L53.6,172.0 L54.4,171.1 L55.2,171.5 L56.0,171.3 L56.8,171.8 L57.6,172.7 L58.4,172.4 L59.2,172.9 L60.0,171.5 L60.8,171.3 L61.6,171.8 L62.4,172.4 L63.2,172.0 L64.0,172.1 L64.8,171.1 L65.6,171.4 L66.4,171.9 L67.2,171.7 L68.0,171.3 L68.8,170.9 L69.6,171.0 L70.4,170.1 L71.2,170.8 L72.0,170.4 L72.8,170.8 L73.6,170.8 L74.4,170.8 L75.2,170.6 L76.0,170.7 L76.8,170.1 L77.6,169.4 L78.4,169.8 L79.2,169.7 L80.0,170.2 L80.8,169.9 L81.6,169.0 L82.4,168.4 L83.2,168.7 L84.0,168.5 L84.8,169.3 L85.6,169.2 L86.4,168.6 L87.2,168.9 L88.0,169.0 L88.8,169.0 L89.6,169.1 L90.4,168.4 L91.2,168.7 L92.0,168.1 L92.8,168.7 L93.6,167.9 L94.4,168.5 L95.2,168.0 L96.0,168.1 L96.8,167.5 L97.6,168.3 L98.4,168.1 L99.2,167.8 L100.0,167.5 L100.8,168.4 L101.6,169.1 L102.4,168.2 L103.2,169.2 L104.0,169.1 L104.8,169.2 L105.6,169.4 L106.4,170.2 L107.2,170.1 L108.0,170.0 L108.8,170.2 L109.6,170.5 L110.4,170.9 L111.2,171.1 L112.0,171.0 L112.8,171.0 L113.6,170.6 L114.4,170.9 L115.2,170.9 L116.0,171.2 L116.8,171.2 L117.6,171.4 L118.4,171.3 L119.2,171.1 L120.0,171.3 L120.8,170.7 L121.6,170.7 L122.4,170.1 L123.2,170.2 L124.0,169.7 L124.8,170.2 L125.6,169.8 L126.4,169.6 L127.2,169.2 L128.0,169.2 L128.8,169.4 L129.6,169.6 L130.4,169.2 L131.2,168.8 L132.0,168.6 L132.8,168.4 L133.6,168.2 L134.4,167.6 L135.2,167.9 L136.0,168.6 L136.8,168.0 L137.6,168.1 L138.4,168.3 L139.2,168.1 L140.0,167.9 L140.8,167.8 L141.6,168.3 L142.4,167.3 L143.2,167.3 L144.0,167.9 L144.8,168.1 L145.6,167.3 L146.4,167.7 L147.2,167.5 L148.0,166.9 L148.8,167.4 L149.6,167.9 L150.4,167.3 L151.2,167.8 L152.0,167.7 L152.8,168.1 L153.6,168.0 L154.4,167.9 L155.2,167.0 L156.0,166.8 L156.8,167.4 L157.6,167.8 L158.4,167.6 L159.2,166.8 L160.0,167.1 L160.8,167.0 L161.6,166.4 L162.4,166.9 L163.2,167.0 L164.0,166.4 L164.8,166.6 L165.6,166.4 L166.4,166.6 L167.2,166.4 L168.0,165.6 L168.8,165.4 L169.6,164.4 L170.4,163.9 L171.2,163.8 L172.0,163.3 L172.8,162.8 L173.6,163.2 L174.4,162.8 L175.2,162.5 L176.0,162.9 L176.8,163.6 L177.6,164.2 L178.4,164.5 L179.2,164.1 L180.0,164.2 L180.8,164.7 L181.6,164.4 L182.4,165.6 L183.2,166.0 L184.0,166.6 L184.8,167.2 L185.6,167.6 L186.4,167.5 L187.2,167.4 L188.0,167.3 L188.8,167.7 L189.6,168.5 L190.4,168.5 L191.2,169.4 L192.0,170.0 L192.8,170.3 L193.6,170.2 L194.4,170.3 L195.2,170.7 L196.0,171.2 L196.8,171.3 L197.6,170.9 L198.4,170.6 L199.2,170.5 L200.0,170.3 L200.8,170.8 L201.6,171.5 L202.4,170.9 L203.2,172.0 L204.0,172.0 L204.8,172.4 L205.6,173.3 L206.4,173.9 L207.2,175.2 L208.0,176.0 L208.8,177.7 L209.6,178.4 L210.4,179.2 L211.2,179.3 L212.0,179.5 L212.8,179.4 L213.6,179.0 L214.4,178.3 L215.2,177.8 L216.0,177.2 L216.8,176.2 L217.6,176.1 L218.4,175.6 L219.2,175.5 L220.0,174.6 L220.8,174.5 L221.6,174.1 L222.4,174.4 L223.2,174.7 L224.0,174.4 L224.8,174.2 L225.6,174.1 L226.4,173.7 L227.2,173.3 L228.0,173.1 L228.8,172.2 L229.6,172.5 L230.4,172.5 L231.2,172.8 L232.0,171.8 L232.8,171.5 L233.6,171.4 L234.4,171.3 L235.2,171.9 L236.0,171.5 L236.8,171.3 L237.6,171.5 L238.4,171.6 L239.2,171.8 L240.0,172.2 L240.8,172.2 L241.6,171.5 L242.4,171.9 L243.2,171.7 L244.0,171.7 L244.8,171.4 L245.6,171.6 L246.4,171.6 L247.2,171.4 L248.0,171.7 L248.8,172.2 L249.6,172.1 L250.4,172.4 L251.2,172.0 L252.0,172.0 L252.8,172.3 L253.6,172.4 L254.4,172.4 L255.2,172.4 L256.0,173.2 L256.8,173.0 L257.6,172.9 L258.4,173.5 L259.2,173.4 L260.0,172.8 L260.8,172.8 L261.6,172.9 L262.4,172.7 L263.2,172.8 L264.0,172.0 L264.8,172.2 L265.6,172.3 L266.4,172.6 L267.2,172.9 L268.0,172.7 L268.8,172.1 L269.6,172.2 L270.4,171.8 L271.2,172.3 L272.0,172.4 L272.8,172.6" fill="none" stroke="#6fb874" stroke-width="1.05" stroke-linejoin="round" />
<path d="M48.8,172.6 L49.6,172.4 L50.4,172.5 L51.2,172.6 L52.0,172.2 L52.8,172.7 L53.6,172.3 L54.4,172.4 L55.2,172.0 L56.0,171.2 L56.8,171.7 L57.6,171.3 L58.4,171.3 L59.2,171.5 L60.0,171.8 L60.8,172.8 L61.6,172.8 L62.4,172.7 L63.2,172.8 L64.0,171.8 L64.8,171.9 L65.6,171.4 L66.4,171.7 L67.2,171.4 L68.0,171.9 L68.8,171.7 L69.6,171.9 L70.4,171.6 L71.2,170.9 L72.0,171.1 L72.8,170.5 L73.6,170.8 L74.4,170.7 L75.2,170.2 L76.0,170.3 L76.8,170.4 L77.6,170.6 L78.4,170.4 L79.2,170.7 L80.0,170.5 L80.8,170.8 L81.6,170.2 L82.4,170.8 L83.2,170.5 L84.0,170.2 L84.8,170.6 L85.6,170.4 L86.4,170.1 L87.2,169.7 L88.0,169.9 L88.8,170.4 L89.6,170.5 L90.4,170.6 L91.2,171.4 L92.0,170.7 L92.8,170.6 L93.6,170.5 L94.4,170.1 L95.2,170.6 L96.0,170.8 L96.8,171.7 L97.6,170.7 L98.4,170.4 L99.2,169.8 L100.0,169.6 L100.8,170.6 L101.6,169.9 L102.4,170.6 L103.2,171.1 L104.0,170.7 L104.8,171.5 L105.6,171.4 L106.4,170.5 L107.2,171.1 L108.0,171.1 L108.8,171.3 L109.6,170.4 L110.4,170.4 L111.2,170.5 L112.0,170.5 L112.8,170.7 L113.6,171.3 L114.4,170.9 L115.2,171.4 L116.0,171.3 L116.8,170.8 L117.6,171.0 L118.4,171.4 L119.2,171.5 L120.0,172.0 L120.8,171.4 L121.6,171.2 L122.4,171.4 L123.2,171.0 L124.0,171.4 L124.8,171.3 L125.6,171.5 L126.4,171.9 L127.2,170.9 L128.0,171.3 L128.8,171.7 L129.6,171.6 L130.4,171.4 L131.2,171.5 L132.0,171.1 L132.8,171.6 L133.6,170.6 L134.4,171.3 L135.2,170.8 L136.0,170.5 L136.8,170.9 L137.6,171.2 L138.4,170.5 L139.2,170.7 L140.0,170.4 L140.8,170.6 L141.6,170.6 L142.4,170.6 L143.2,170.4 L144.0,170.5 L144.8,170.4 L145.6,170.6 L146.4,170.2 L147.2,169.5 L148.0,170.2 L148.8,169.8 L149.6,169.5 L150.4,170.2 L151.2,170.6 L152.0,170.7 L152.8,170.7 L153.6,170.7 L154.4,170.0 L155.2,170.7 L156.0,171.0 L156.8,170.5 L157.6,170.4 L158.4,170.3 L159.2,170.0 L160.0,170.6 L160.8,169.9 L161.6,170.1 L162.4,169.8 L163.2,170.3 L164.0,170.6 L164.8,170.6 L165.6,170.9 L166.4,170.7 L167.2,171.0 L168.0,170.4 L168.8,170.5 L169.6,170.3 L170.4,170.1 L171.2,168.9 L172.0,169.5 L172.8,169.2 L173.6,168.6 L174.4,168.4 L175.2,168.4 L176.0,168.0 L176.8,168.7 L177.6,169.4 L178.4,168.5 L179.2,169.4 L180.0,169.9 L180.8,170.2 L181.6,169.7 L182.4,169.6 L183.2,169.3 L184.0,170.3 L184.8,170.3 L185.6,170.5 L186.4,170.4 L187.2,170.2 L188.0,170.5 L188.8,171.0 L189.6,171.0 L190.4,170.8 L191.2,170.5 L192.0,171.6 L192.8,171.2 L193.6,171.5 L194.4,171.0 L195.2,171.6 L196.0,171.2 L196.8,171.9 L197.6,171.5 L198.4,171.3 L199.2,172.3 L200.0,171.8 L200.8,172.1 L201.6,172.4 L202.4,172.0 L203.2,173.0 L204.0,172.8 L204.8,172.3 L205.6,173.0 L206.4,173.4 L207.2,173.0 L208.0,173.2 L208.8,174.2 L209.6,174.2 L210.4,175.1 L211.2,175.2 L212.0,175.4 L212.8,175.0 L213.6,175.3 L214.4,175.0 L215.2,174.7 L216.0,174.7 L216.8,175.2 L217.6,174.5 L218.4,174.4 L219.2,173.9 L220.0,172.8 L220.8,173.1 L221.6,173.4 L222.4,172.7 L223.2,173.6 L224.0,172.9 L224.8,172.7 L225.6,172.8 L226.4,172.6 L227.2,173.2 L228.0,172.8 L228.8,172.7 L229.6,172.4 L230.4,172.3 L231.2,172.3 L232.0,172.0 L232.8,172.3 L233.6,172.5 L234.4,173.2 L235.2,172.5 L236.0,173.1 L236.8,172.6 L237.6,173.1 L238.4,172.8 L239.2,172.6 L240.0,172.8 L240.8,172.8 L241.6,171.8 L242.4,171.8 L243.2,172.1 L244.0,172.2 L244.8,172.5 L245.6,172.6 L246.4,172.7 L247.2,172.6 L248.0,173.0 L248.8,172.8 L249.6,172.2 L250.4,173.0 L251.2,172.8 L252.0,173.0 L252.8,172.6 L253.6,172.6 L254.4,172.6 L255.2,172.7 L256.0,172.2 L256.8,171.7 L257.6,172.3 L258.4,172.5 L259.2,172.2 L260.0,171.7 L260.8,173.2 L261.6,172.8 L262.4,172.5 L263.2,172.7 L264.0,172.5 L264.8,172.4 L265.6,171.5 L266.4,171.3 L267.2,171.7 L268.0,172.2 L268.8,171.7 L269.6,171.6 L270.4,172.3 L271.2,172.1 L272.0,172.6 L272.8,172.8" fill="none" stroke="#e27d68" stroke-width="1.05" stroke-linejoin="round" />
<path d="M48.8,172.5 L49.6,172.3 L50.4,172.2 L51.2,172.6 L52.0,172.2 L52.8,172.4 L53.6,172.0 L54.4,172.5 L55.2,172.6 L56.0,172.1 L56.8,172.4 L57.6,172.2 L58.4,172.1 L59.2,172.2 L60.0,172.4 L60.8,172.6 L61.6,172.6 L62.4,172.6 L63.2,172.4 L64.0,172.4 L64.8,172.1 L65.6,172.4 L66.4,172.3 L67.2,172.2 L68.0,172.5 L68.8,172.2 L69.6,172.1 L70.4,172.1 L71.2,172.1 L72.0,172.4 L72.8,172.5 L73.6,172.1 L74.4,172.3 L75.2,172.3 L76.0,172.3 L76.8,172.2 L77.6,172.3 L78.4,172.0 L79.2,172.0 L80.0,172.3 L80.8,172.1 L81.6,172.5 L82.4,172.1 L83.2,172.5 L84.0,172.1 L84.8,172.1 L85.6,172.3 L86.4,172.2 L87.2,172.2 L88.0,172.5 L88.8,172.1 L89.6,172.4 L90.4,172.5 L91.2,172.3 L92.0,172.3 L92.8,172.6 L93.6,172.4 L94.4,172.1 L95.2,172.0 L96.0,172.0 L96.8,172.2 L97.6,172.1 L98.4,172.4 L99.2,172.3 L100.0,172.2 L100.8,172.3 L101.6,172.6 L102.4,172.1 L103.2,172.1 L104.0,172.2 L104.8,172.2 L105.6,172.5 L106.4,172.4 L107.2,172.3 L108.0,172.1 L108.8,172.0 L109.6,172.1 L110.4,172.5 L111.2,172.4 L112.0,172.1 L112.8,172.4 L113.6,172.0 L114.4,172.3 L115.2,172.2 L116.0,172.1 L116.8,172.4 L117.6,172.4 L118.4,172.3 L119.2,172.1 L120.0,172.4 L120.8,172.3 L121.6,172.4 L122.4,172.1 L123.2,172.5 L124.0,172.0 L124.8,172.1 L125.6,172.2 L126.4,172.1 L127.2,172.1 L128.0,172.4 L128.8,172.6 L129.6,172.2 L130.4,172.2 L131.2,172.4 L132.0,172.1 L132.8,172.2 L133.6,172.4 L134.4,172.3 L135.2,172.1 L136.0,172.0 L136.8,172.3 L137.6,172.6 L138.4,172.6 L139.2,172.1 L140.0,172.3 L140.8,172.3 L141.6,172.1 L142.4,172.4 L143.2,172.3 L144.0,172.5 L144.8,172.2 L145.6,172.6 L146.4,172.5 L147.2,172.3 L148.0,172.1 L148.8,172.3 L149.6,172.1 L150.4,172.4 L151.2,172.4 L152.0,172.3 L152.8,172.6 L153.6,172.0 L154.4,172.4 L155.2,172.5 L156.0,172.1 L156.8,172.2 L157.6,172.0 L158.4,172.3 L159.2,172.4 L160.0,172.2 L160.8,172.4 L161.6,172.2 L162.4,172.4 L163.2,172.2 L164.0,172.6 L164.8,172.3 L165.6,172.0 L166.4,172.1 L167.2,172.4 L168.0,172.5 L168.8,172.4 L169.6,172.1 L170.4,172.5 L171.2,172.4 L172.0,172.1 L172.8,172.2 L173.6,172.4 L174.4,172.0 L175.2,172.0 L176.0,172.2 L176.8,172.5 L177.6,172.6 L178.4,172.2 L179.2,172.5 L180.0,172.5 L180.8,172.5 L181.6,172.4 L182.4,172.6 L183.2,172.4 L184.0,172.6 L184.8,172.3 L185.6,172.1 L186.4,172.3 L187.2,172.3 L188.0,172.2 L188.8,172.2 L189.6,172.3 L190.4,172.4 L191.2,172.1 L192.0,172.2 L192.8,172.3 L193.6,172.3 L194.4,172.3 L195.2,172.4 L196.0,172.1 L196.8,172.3 L197.6,172.2 L198.4,172.5 L199.2,172.4 L200.0,172.5 L200.8,172.3 L201.6,172.1 L202.4,172.6 L203.2,172.3 L204.0,172.2 L204.8,172.2 L205.6,172.2 L206.4,172.4 L207.2,172.5 L208.0,172.3 L208.8,172.4 L209.6,172.1 L210.4,172.3 L211.2,172.2 L212.0,172.2 L212.8,172.2 L213.6,172.5 L214.4,172.4 L215.2,172.1 L216.0,172.1 L216.8,172.5 L217.6,172.4 L218.4,172.4 L219.2,172.4 L220.0,172.4 L220.8,172.2 L221.6,172.0 L222.4,172.2 L223.2,172.0 L224.0,172.6 L224.8,172.3 L225.6,172.4 L226.4,172.6 L227.2,172.5 L228.0,172.1 L228.8,172.2 L229.6,172.1 L230.4,172.5 L231.2,172.4 L232.0,172.3 L232.8,172.2 L233.6,172.2 L234.4,172.3 L235.2,172.4 L236.0,172.5 L236.8,172.5 L237.6,172.5 L238.4,172.3 L239.2,172.3 L240.0,172.2 L240.8,172.6 L241.6,172.1 L242.4,172.1 L243.2,172.2 L244.0,172.6 L244.8,172.5 L245.6,172.2 L246.4,172.5 L247.2,172.5 L248.0,172.3 L248.8,172.1 L249.6,172.5 L250.4,172.2 L251.2,172.1 L252.0,172.5 L252.8,172.3 L253.6,172.2 L254.4,172.4 L255.2,172.2 L256.0,172.0 L256.8,172.2 L257.6,172.2 L258.4,172.0 L259.2,172.2 L260.0,172.5 L260.8,172.2 L261.6,172.4 L262.4,172.4 L263.2,172.1 L264.0,172.0 L264.8,172.4 L265.6,172.4 L266.4,172.2 L267.2,172.1 L268.0,172.5 L268.8,172.5 L269.6,172.1 L270.4,172.4 L271.2,172.3 L272.0,172.2 L272.8,172.0" fill="none" stroke="#222222" stroke-width="0.8" stroke-linejoin="round" />
<line x1="48.30" y1="133.20" x2="274.00" y2="133.20" stroke="#333" stroke-width="1.1" />
<line x1="95.40" y1="97.00" x2="95.40" y2="172.30" stroke="#333" stroke-width="1.0" />
<line x1="146.00" y1="80.50" x2="146.00" y2="172.30" stroke="#333" stroke-width="1.0" />
<line x1="175.30" y1="45.70" x2="175.30" y2="172.30" stroke="#333" stroke-width="1.0" />
<rect x="48.3" y="15.0" width="225.7" height="181.0" fill="none" stroke="#5a5a5a" stroke-width="1.1"/>
<line x1="74.00" y1="196.00" x2="74.00" y2="199.00" stroke="#5a5a5a" stroke-width="0.9" />
<line x1="141.40" y1="196.00" x2="141.40" y2="199.00" stroke="#5a5a5a" stroke-width="0.9" />
<line x1="208.50" y1="196.00" x2="208.50" y2="199.00" stroke="#5a5a5a" stroke-width="0.9" />
<line x1="274.00" y1="196.00" x2="274.00" y2="199.00" stroke="#5a5a5a" stroke-width="0.9" />
<line x1="107.70" y1="196.00" x2="107.70" y2="194.00" stroke="#5a5a5a" stroke-width="0.9" />
<line x1="174.90" y1="196.00" x2="174.90" y2="194.00" stroke="#5a5a5a" stroke-width="0.9" />
<line x1="241.20" y1="196.00" x2="241.20" y2="194.00" stroke="#5a5a5a" stroke-width="0.9" />
<line x1="45.30" y1="53.60" x2="48.30" y2="53.60" stroke="#5a5a5a" stroke-width="0.9" />
<line x1="45.30" y1="93.70" x2="48.30" y2="93.70" stroke="#5a5a5a" stroke-width="0.9" />
<line x1="45.30" y1="172.30" x2="48.30" y2="172.30" stroke="#5a5a5a" stroke-width="0.9" />
<text x="23.8" y="28.3" font-family="Liberation Serif" font-size="21" font-weight="normal" text-anchor="start" fill="#1e1e1e" textLength="20.8" lengthAdjust="spacingAndGlyphs" >(a)</text>
<line x1="48.50" y1="26.10" x2="71.40" y2="26.10" stroke="#222222" stroke-width="1.0" />
<text x="74.9" y="29.700000000000003" font-family="Liberation Sans" font-size="10" font-weight="normal" text-anchor="start" fill="#1e1e1e" textLength="87.8" lengthAdjust="spacingAndGlyphs" >reduced SnO<tspan font-size='6.2' dy='3'>2</tspan><tspan dy='-3'>(101)</tspan></text>
<line x1="48.50" y1="39.40" x2="71.40" y2="39.40" stroke="#e27d68" stroke-width="1.0" />
<text x="74.9" y="43.0" font-family="Liberation Sans" font-size="10" font-weight="normal" text-anchor="start" fill="#1e1e1e" textLength="22" lengthAdjust="spacingAndGlyphs" >0.1 L</text>
<line x1="48.50" y1="51.70" x2="71.40" y2="51.70" stroke="#6fb874" stroke-width="1.0" />
<text x="74.9" y="55.300000000000004" font-family="Liberation Sans" font-size="10" font-weight="normal" text-anchor="start" fill="#1e1e1e" textLength="22" lengthAdjust="spacingAndGlyphs" >0.3 L</text>
<line x1="48.50" y1="64.50" x2="71.40" y2="64.50" stroke="#44549a" stroke-width="1.0" />
<text x="74.9" y="68.1" font-family="Liberation Sans" font-size="10" font-weight="normal" text-anchor="start" fill="#1e1e1e" textLength="22" lengthAdjust="spacingAndGlyphs" >0.5 L</text>
<line x1="48.50" y1="77.30" x2="71.40" y2="77.30" stroke="#9dd6d8" stroke-width="1.0" />
<text x="74.9" y="80.89999999999999" font-family="Liberation Sans" font-size="10" font-weight="normal" text-anchor="start" fill="#1e1e1e" textLength="22" lengthAdjust="spacingAndGlyphs" >0.9 L</text>
<text x="220.8" y="28.8" font-family="Liberation Serif" font-size="16" font-weight="normal" text-anchor="start" fill="#1e1e1e" textLength="50.9" lengthAdjust="spacingAndGlyphs" >T=110 K</text>
<text x="239.8" y="70.8" font-family="Liberation Serif" font-size="12.5" font-weight="normal" text-anchor="start" fill="#1e1e1e" textLength="25.3" lengthAdjust="spacingAndGlyphs" >Sn-5s</text>
<text x="239.8" y="83.6" font-family="Liberation Serif" font-size="12.5" font-weight="normal" text-anchor="start" fill="#1e1e1e" textLength="31.4" lengthAdjust="spacingAndGlyphs" >surface</text>
<text x="239.8" y="96.7" font-family="Liberation Serif" font-size="12.5" font-weight="normal" text-anchor="start" fill="#1e1e1e" textLength="19.7" lengthAdjust="spacingAndGlyphs" >state</text>
<line x1="238.80" y1="101.60" x2="232.20" y2="113.60" stroke="#222" stroke-width="1.2" />
<path d="M230.6,116.6 L230.9,110.9 L234.6,113.0 Z" fill="#222"/>
<text x="224" y="153.3" font-family="Liberation Serif" font-size="12" font-weight="normal" text-anchor="start" fill="#1e1e1e" textLength="44.3" lengthAdjust="spacingAndGlyphs" >difference</text>
<text x="224" y="166.1" font-family="Liberation Serif" font-size="12" font-weight="normal" text-anchor="start" fill="#1e1e1e" textLength="30.9" lengthAdjust="spacingAndGlyphs" >spectra</text>
<text x="90.2" y="181.3" font-family="Liberation Serif" font-size="11.5" font-weight="normal" fill="#1e1e1e" textLength="11.6" lengthAdjust="spacingAndGlyphs"><tspan>1b</tspan><tspan font-size="6.3" dy="3.2">2</tspan></text>
<text x="89.9" y="195.3" font-family="Liberation Serif" font-size="11.6" font-weight="normal" text-anchor="start" fill="#1e1e1e" textLength="31" lengthAdjust="spacingAndGlyphs" >13.5 eV</text>
<text x="138.0" y="181.3" font-family="Liberation Serif" font-size="11.5" font-weight="normal" fill="#1e1e1e" textLength="11.0" lengthAdjust="spacingAndGlyphs"><tspan>3a</tspan><tspan font-size="6.3" dy="3.2">1</tspan></text>
<text x="138.0" y="195.3" font-family="Liberation Serif" font-size="11.6" font-weight="normal" text-anchor="start" fill="#1e1e1e" textLength="26.4" lengthAdjust="spacingAndGlyphs" >9.6 eV</text>
<text x="171.3" y="181.3" font-family="Liberation Serif" font-size="11.5" font-weight="normal" fill="#1e1e1e" textLength="10.4" lengthAdjust="spacingAndGlyphs"><tspan>1b</tspan><tspan font-size="6.3" dy="3.2">1</tspan></text>
<text x="171.3" y="195.3" font-family="Liberation Serif" font-size="11.6" font-weight="normal" text-anchor="start" fill="#1e1e1e" textLength="26.4" lengthAdjust="spacingAndGlyphs" >7.5 eV</text>
<path d="M48.3,329.2 L49.1,329.0 L49.9,328.5 L50.7,328.9 L51.5,329.3 L52.3,330.0 L53.1,329.4 L53.9,329.9 L54.7,329.6 L55.5,330.6 L56.3,330.4 L57.1,330.9 L57.9,329.9 L58.7,330.2 L59.5,330.6 L60.3,330.6 L61.1,330.5 L61.9,330.8 L62.7,330.7 L63.5,330.9 L64.3,330.7 L65.1,330.7 L65.9,330.8 L66.7,330.3 L67.5,330.7 L68.3,329.3 L69.1,329.5 L69.9,329.5 L70.7,329.0 L71.5,329.2 L72.3,329.0 L73.1,328.2 L73.9,328.5 L74.7,328.0 L75.5,327.8 L76.3,327.5 L77.1,327.1 L77.9,326.0 L78.7,326.1 L79.5,326.2 L80.3,325.9 L81.1,325.4 L81.9,324.8 L82.7,324.7 L83.5,323.4 L84.3,323.7 L85.1,324.1 L85.9,322.8 L86.7,322.3 L87.5,321.6 L88.3,321.0 L89.1,320.7 L89.9,320.9 L90.7,320.0 L91.5,320.2 L92.3,319.4 L93.1,319.1 L93.9,318.3 L94.7,317.7 L95.5,317.7 L96.3,317.5 L97.1,317.0 L97.9,316.7 L98.7,315.9 L99.5,315.4 L100.3,316.1 L101.1,315.6 L101.9,314.6 L102.7,315.3 L103.5,314.7 L104.3,313.8 L105.1,313.6 L105.9,312.9 L106.7,312.4 L107.5,312.4 L108.3,311.9 L109.1,312.0 L109.9,311.5 L110.7,311.3 L111.5,312.0 L112.3,311.5 L113.1,310.3 L113.9,311.0 L114.7,310.8 L115.5,310.3 L116.3,311.4 L117.1,311.6 L117.9,311.9 L118.7,312.7 L119.5,312.7 L120.3,312.4 L121.1,312.4 L121.9,312.2 L122.7,311.9 L123.5,312.8 L124.3,312.4 L125.1,312.5 L125.9,313.3 L126.7,312.5 L127.5,313.1 L128.3,313.5 L129.1,312.9 L129.9,313.9 L130.7,313.5 L131.5,313.3 L132.3,313.8 L133.1,313.1 L133.9,313.4 L134.7,313.9 L135.5,313.8 L136.3,313.4 L137.1,314.1 L137.9,313.7 L138.7,313.0 L139.5,313.3 L140.3,313.1 L141.1,313.7 L141.9,313.6 L142.7,313.2 L143.5,312.6 L144.3,312.5 L145.1,312.6 L145.9,312.1 L146.7,311.9 L147.5,311.3 L148.3,310.5 L149.1,310.1 L149.9,309.8 L150.7,308.5 L151.5,308.6 L152.3,307.7 L153.1,306.4 L153.9,305.9 L154.7,304.3 L155.5,302.8 L156.3,301.0 L157.1,299.3 L157.9,297.8 L158.7,296.0 L159.5,294.6 L160.3,292.6 L161.1,291.4 L161.9,290.5 L162.7,289.1 L163.5,288.0 L164.3,286.6 L165.1,284.9 L165.9,283.9 L166.7,283.2 L167.5,281.9 L168.3,279.6 L169.1,279.4 L169.9,277.9 L170.7,277.6 L171.5,276.8 L172.3,276.1 L173.1,275.8 L173.9,274.8 L174.7,274.8 L175.5,273.8 L176.3,273.7 L177.1,273.3 L177.9,273.2 L178.7,273.3 L179.5,273.3 L180.3,273.3 L181.1,273.2 L181.9,272.3 L182.7,272.5 L183.5,272.3 L184.3,272.1 L185.1,271.9 L185.9,271.9 L186.7,271.6 L187.5,272.0 L188.3,271.8 L189.1,272.8 L189.9,273.0 L190.7,272.3 L191.5,272.7 L192.3,272.2 L193.1,272.1 L193.9,271.8 L194.7,271.2 L195.5,271.0 L196.3,269.2 L197.1,268.8 L197.9,267.4 L198.7,266.5 L199.5,265.2 L200.3,263.7 L201.1,261.9 L201.9,261.3 L202.7,260.4 L203.5,260.1 L204.3,259.6 L205.1,260.3 L205.9,261.4 L206.7,263.7 L207.5,266.8 L208.3,269.9 L209.1,273.5 L209.9,277.3 L210.7,281.0 L211.5,284.9 L212.3,289.4 L213.1,294.0 L213.9,298.5 L214.7,302.8 L215.5,307.0 L216.3,311.2 L217.1,314.7 L217.9,319.2 L218.7,322.7 L219.5,325.9 L220.3,327.7 L221.1,330.0 L221.9,331.0 L222.7,332.6 L223.5,334.1 L224.3,336.0 L225.1,337.0 L225.9,337.8 L226.7,338.9 L227.5,339.2 L228.3,340.0 L229.1,340.4 L229.9,340.3 L230.7,341.7 L231.5,342.9 L232.3,341.9 L233.1,342.3 L233.9,342.7 L234.7,342.3 L235.5,341.8 L236.3,342.4 L237.1,342.8 L237.9,343.3 L238.7,343.4 L239.5,343.6 L240.3,343.8 L241.1,343.5 L241.9,344.1 L242.7,343.5 L243.5,344.2 L244.3,344.0 L245.1,343.8 L245.9,344.0 L246.7,344.2 L247.5,344.2 L248.3,343.5 L249.1,343.8 L249.9,344.7 L250.7,344.7 L251.5,344.5 L252.3,344.0 L253.1,344.6 L253.9,345.0 L254.7,344.1 L255.5,344.6 L256.3,345.1 L257.1,345.5 L257.9,345.3 L258.7,345.9 L259.5,345.2 L260.3,344.9 L261.1,345.6 L261.9,345.8 L262.7,345.4 L263.5,346.1 L264.3,346.0 L265.1,346.3 L265.9,346.1 L266.7,345.5 L267.5,345.9 L268.3,345.1 L269.1,345.4 L269.9,345.8 L270.7,345.8 L271.5,345.6 L272.3,344.7" fill="none" stroke="#d896cd" stroke-width="1.05" stroke-linejoin="round" />
<path d="M48.3,328.5 L49.1,328.5 L49.9,328.9 L50.7,328.6 L51.5,328.3 L52.3,328.1 L53.1,327.9 L53.9,328.8 L54.7,329.4 L55.5,329.8 L56.3,329.6 L57.1,328.9 L57.9,328.6 L58.7,328.9 L59.5,328.9 L60.3,329.1 L61.1,329.2 L61.9,329.6 L62.7,329.8 L63.5,330.4 L64.3,330.4 L65.1,330.5 L65.9,330.3 L66.7,330.2 L67.5,330.6 L68.3,330.3 L69.1,330.8 L69.9,330.0 L70.7,329.9 L71.5,330.4 L72.3,330.0 L73.1,330.1 L73.9,329.4 L74.7,329.5 L75.5,330.1 L76.3,329.8 L77.1,330.0 L77.9,329.4 L78.7,329.1 L79.5,328.9 L80.3,328.7 L81.1,328.5 L81.9,328.1 L82.7,327.8 L83.5,327.1 L84.3,326.9 L85.1,326.6 L85.9,326.8 L86.7,326.3 L87.5,325.7 L88.3,325.5 L89.1,324.9 L89.9,324.7 L90.7,324.8 L91.5,323.9 L92.3,323.7 L93.1,322.0 L93.9,321.9 L94.7,321.8 L95.5,321.4 L96.3,321.0 L97.1,321.2 L97.9,321.0 L98.7,321.3 L99.5,321.1 L100.3,321.5 L101.1,321.1 L101.9,320.4 L102.7,320.2 L103.5,319.3 L104.3,318.7 L105.1,318.2 L105.9,317.7 L106.7,317.8 L107.5,317.7 L108.3,317.3 L109.1,316.6 L109.9,316.5 L110.7,316.6 L111.5,315.9 L112.3,314.8 L113.1,314.7 L113.9,314.9 L114.7,315.4 L115.5,315.3 L116.3,315.2 L117.1,315.9 L117.9,316.0 L118.7,316.6 L119.5,316.1 L120.3,316.6 L121.1,316.5 L121.9,316.6 L122.7,316.4 L123.5,316.2 L124.3,316.5 L125.1,316.8 L125.9,316.3 L126.7,316.5 L127.5,316.7 L128.3,317.4 L129.1,317.3 L129.9,317.5 L130.7,317.5 L131.5,317.4 L132.3,318.1 L133.1,317.2 L133.9,317.6 L134.7,317.4 L135.5,318.2 L136.3,318.7 L137.1,318.2 L137.9,318.9 L138.7,319.2 L139.5,319.0 L140.3,318.9 L141.1,319.3 L141.9,318.5 L142.7,318.2 L143.5,317.8 L144.3,317.5 L145.1,317.9 L145.9,317.7 L146.7,317.8 L147.5,317.1 L148.3,316.8 L149.1,315.5 L149.9,314.6 L150.7,314.7 L151.5,313.8 L152.3,312.2 L153.1,311.7 L153.9,310.9 L154.7,308.8 L155.5,307.7 L156.3,305.7 L157.1,304.0 L157.9,303.2 L158.7,301.5 L159.5,300.5 L160.3,298.1 L161.1,297.9 L161.9,296.3 L162.7,295.3 L163.5,295.1 L164.3,294.0 L165.1,293.5 L165.9,292.1 L166.7,291.3 L167.5,290.6 L168.3,290.2 L169.1,290.0 L169.9,289.0 L170.7,288.6 L171.5,287.1 L172.3,286.3 L173.1,285.7 L173.9,285.8 L174.7,284.9 L175.5,284.8 L176.3,285.3 L177.1,284.8 L177.9,284.7 L178.7,284.9 L179.5,285.0 L180.3,284.6 L181.1,285.0 L181.9,285.1 L182.7,284.6 L183.5,285.0 L184.3,284.3 L185.1,284.5 L185.9,284.4 L186.7,283.8 L187.5,283.4 L188.3,283.4 L189.1,283.0 L189.9,282.3 L190.7,282.0 L191.5,281.1 L192.3,280.3 L193.1,280.2 L193.9,278.4 L194.7,277.8 L195.5,275.8 L196.3,274.1 L197.1,273.0 L197.9,272.0 L198.7,269.8 L199.5,267.8 L200.3,266.0 L201.1,264.3 L201.9,262.0 L202.7,259.6 L203.5,258.6 L204.3,257.1 L205.1,257.1 L205.9,257.3 L206.7,257.2 L207.5,260.5 L208.3,263.1 L209.1,266.4 L209.9,269.7 L210.7,273.4 L211.5,277.2 L212.3,281.8 L213.1,285.9 L213.9,290.9 L214.7,295.3 L215.5,299.1 L216.3,303.4 L217.1,307.5 L217.9,310.9 L218.7,314.5 L219.5,318.0 L220.3,321.6 L221.1,324.2 L221.9,326.2 L222.7,328.4 L223.5,330.2 L224.3,332.2 L225.1,333.8 L225.9,334.9 L226.7,336.6 L227.5,337.9 L228.3,339.0 L229.1,339.6 L229.9,340.6 L230.7,341.4 L231.5,341.3 L232.3,342.3 L233.1,342.5 L233.9,342.8 L234.7,343.1 L235.5,343.4 L236.3,343.7 L237.1,343.5 L237.9,343.2 L238.7,344.0 L239.5,343.7 L240.3,344.0 L241.1,344.0 L241.9,344.9 L242.7,344.7 L243.5,344.9 L244.3,344.8 L245.1,344.4 L245.9,344.5 L246.7,344.8 L247.5,344.0 L248.3,344.2 L249.1,344.1 L249.9,344.4 L250.7,345.3 L251.5,345.7 L252.3,345.3 L253.1,345.6 L253.9,346.3 L254.7,346.0 L255.5,345.7 L256.3,346.2 L257.1,346.1 L257.9,346.3 L258.7,346.0 L259.5,345.4 L260.3,345.5 L261.1,345.8 L261.9,345.8 L262.7,345.9 L263.5,345.0 L264.3,345.8 L265.1,345.4 L265.9,345.6 L266.7,344.9 L267.5,345.4 L268.3,345.3 L269.1,344.8 L269.9,345.4 L270.7,345.7 L271.5,345.9 L272.3,346.4" fill="none" stroke="#9dd6d8" stroke-width="1.05" stroke-linejoin="round" />
<path d="M48.3,329.0 L49.1,328.8 L49.9,329.2 L50.7,328.8 L51.5,329.6 L52.3,329.1 L53.1,329.5 L53.9,328.9 L54.7,328.9 L55.5,329.2 L56.3,329.1 L57.1,330.1 L57.9,330.1 L58.7,330.1 L59.5,330.0 L60.3,330.0 L61.1,330.3 L61.9,330.6 L62.7,331.0 L63.5,331.3 L64.3,331.5 L65.1,331.7 L65.9,331.6 L66.7,331.1 L67.5,331.1 L68.3,331.0 L69.1,331.8 L69.9,330.8 L70.7,330.9 L71.5,330.8 L72.3,330.1 L73.1,330.1 L73.9,329.5 L74.7,329.7 L75.5,330.3 L76.3,329.8 L77.1,330.2 L77.9,330.1 L78.7,329.2 L79.5,328.6 L80.3,328.3 L81.1,328.1 L81.9,327.8 L82.7,328.0 L83.5,328.3 L84.3,327.9 L85.1,327.7 L85.9,326.8 L86.7,327.5 L87.5,327.6 L88.3,327.3 L89.1,326.6 L89.9,327.4 L90.7,327.2 L91.5,326.8 L92.3,327.7 L93.1,327.2 L93.9,327.3 L94.7,327.2 L95.5,326.9 L96.3,326.8 L97.1,326.4 L97.9,326.3 L98.7,325.3 L99.5,324.7 L100.3,325.0 L101.1,324.6 L101.9,323.9 L102.7,323.7 L103.5,323.7 L104.3,323.6 L105.1,323.5 L105.9,322.8 L106.7,322.1 L107.5,322.0 L108.3,321.7 L109.1,320.7 L109.9,321.0 L110.7,320.3 L111.5,320.2 L112.3,320.0 L113.1,319.2 L113.9,319.3 L114.7,319.2 L115.5,319.4 L116.3,318.7 L117.1,318.3 L117.9,318.3 L118.7,318.2 L119.5,318.2 L120.3,318.1 L121.1,318.4 L121.9,319.0 L122.7,318.4 L123.5,319.0 L124.3,319.5 L125.1,318.9 L125.9,319.8 L126.7,319.5 L127.5,320.0 L128.3,319.9 L129.1,320.0 L129.9,319.6 L130.7,320.4 L131.5,320.7 L132.3,321.3 L133.1,321.1 L133.9,321.7 L134.7,321.9 L135.5,321.6 L136.3,321.9 L137.1,321.9 L137.9,322.5 L138.7,322.4 L139.5,322.0 L140.3,322.5 L141.1,322.8 L141.9,322.0 L142.7,322.2 L143.5,321.4 L144.3,321.6 L145.1,320.8 L145.9,321.6 L146.7,320.5 L147.5,320.6 L148.3,320.8 L149.1,320.5 L149.9,319.4 L150.7,318.2 L151.5,317.9 L152.3,316.8 L153.1,316.3 L153.9,315.0 L154.7,314.1 L155.5,312.9 L156.3,311.3 L157.1,310.4 L157.9,309.0 L158.7,307.9 L159.5,306.2 L160.3,303.9 L161.1,303.2 L161.9,302.0 L162.7,300.6 L163.5,299.5 L164.3,299.0 L165.1,298.2 L165.9,297.2 L166.7,296.5 L167.5,295.5 L168.3,295.2 L169.1,295.0 L169.9,294.6 L170.7,293.2 L171.5,293.3 L172.3,293.9 L173.1,293.1 L173.9,292.1 L174.7,291.6 L175.5,292.0 L176.3,291.8 L177.1,291.2 L177.9,291.9 L178.7,292.2 L179.5,291.2 L180.3,291.8 L181.1,292.0 L181.9,292.0 L182.7,291.7 L183.5,291.6 L184.3,291.3 L185.1,291.0 L185.9,290.4 L186.7,289.8 L187.5,289.9 L188.3,289.6 L189.1,289.3 L189.9,288.3 L190.7,288.3 L191.5,287.7 L192.3,286.8 L193.1,285.2 L193.9,283.5 L194.7,282.2 L195.5,280.7 L196.3,278.3 L197.1,275.9 L197.9,273.3 L198.7,271.6 L199.5,269.6 L200.3,267.1 L201.1,264.3 L201.9,261.5 L202.7,259.4 L203.5,257.5 L204.3,255.8 L205.1,254.4 L205.9,254.6 L206.7,254.8 L207.5,255.9 L208.3,258.1 L209.1,261.3 L209.9,264.6 L210.7,267.3 L211.5,271.8 L212.3,276.2 L213.1,280.7 L213.9,284.8 L214.7,289.5 L215.5,294.3 L216.3,299.3 L217.1,304.8 L217.9,309.1 L218.7,312.6 L219.5,316.1 L220.3,320.4 L221.1,323.1 L221.9,325.4 L222.7,327.5 L223.5,329.0 L224.3,331.4 L225.1,332.4 L225.9,334.2 L226.7,335.8 L227.5,337.3 L228.3,337.5 L229.1,338.5 L229.9,338.9 L230.7,339.2 L231.5,339.9 L232.3,340.7 L233.1,341.6 L233.9,342.5 L234.7,342.4 L235.5,342.3 L236.3,342.3 L237.1,341.5 L237.9,342.1 L238.7,342.4 L239.5,343.4 L240.3,342.9 L241.1,343.5 L241.9,343.7 L242.7,343.9 L243.5,344.0 L244.3,344.5 L245.1,344.6 L245.9,345.4 L246.7,344.8 L247.5,345.5 L248.3,345.7 L249.1,345.5 L249.9,345.8 L250.7,345.8 L251.5,344.9 L252.3,344.3 L253.1,344.9 L253.9,345.0 L254.7,344.9 L255.5,345.1 L256.3,346.0 L257.1,345.3 L257.9,346.0 L258.7,345.9 L259.5,345.6 L260.3,345.5 L261.1,345.4 L261.9,346.0 L262.7,346.0 L263.5,345.6 L264.3,345.3 L265.1,345.6 L265.9,345.5 L266.7,345.9 L267.5,346.2 L268.3,345.8 L269.1,345.6 L269.9,346.0 L270.7,346.2 L271.5,346.7 L272.3,345.4" fill="none" stroke="#44549a" stroke-width="1.05" stroke-linejoin="round" />
<path d="M48.3,329.5 L49.1,329.3 L49.9,329.6 L50.7,329.8 L51.5,329.6 L52.3,330.0 L53.1,330.0 L53.9,330.5 L54.7,330.0 L55.5,330.0 L56.3,329.7 L57.1,330.4 L57.9,330.4 L58.7,330.5 L59.5,330.8 L60.3,330.7 L61.1,330.5 L61.9,330.8 L62.7,330.5 L63.5,330.6 L64.3,330.4 L65.1,330.7 L65.9,331.6 L66.7,330.7 L67.5,331.1 L68.3,331.3 L69.1,330.8 L69.9,330.1 L70.7,329.9 L71.5,329.9 L72.3,329.4 L73.1,330.6 L73.9,330.3 L74.7,330.7 L75.5,330.2 L76.3,330.2 L77.1,330.5 L77.9,330.6 L78.7,330.6 L79.5,331.6 L80.3,330.8 L81.1,330.9 L81.9,330.7 L82.7,330.6 L83.5,330.5 L84.3,330.3 L85.1,329.6 L85.9,329.7 L86.7,329.1 L87.5,329.5 L88.3,330.6 L89.1,330.2 L89.9,329.5 L90.7,329.8 L91.5,329.1 L92.3,328.7 L93.1,328.9 L93.9,328.8 L94.7,329.2 L95.5,329.2 L96.3,328.8 L97.1,328.4 L97.9,328.7 L98.7,328.0 L99.5,327.6 L100.3,328.1 L101.1,327.8 L101.9,327.8 L102.7,327.2 L103.5,327.9 L104.3,326.9 L105.1,326.7 L105.9,327.1 L106.7,326.5 L107.5,325.8 L108.3,325.4 L109.1,323.9 L109.9,324.4 L110.7,324.6 L111.5,324.8 L112.3,323.2 L113.1,322.6 L113.9,322.5 L114.7,321.1 L115.5,321.4 L116.3,320.6 L117.1,320.1 L117.9,320.2 L118.7,320.5 L119.5,320.6 L120.3,320.4 L121.1,320.4 L121.9,320.1 L122.7,320.0 L123.5,320.6 L124.3,320.8 L125.1,320.9 L125.9,321.2 L126.7,321.6 L127.5,321.8 L128.3,322.5 L129.1,322.3 L129.9,322.2 L130.7,322.8 L131.5,322.5 L132.3,322.6 L133.1,322.7 L133.9,323.2 L134.7,323.6 L135.5,323.7 L136.3,324.2 L137.1,324.4 L137.9,324.3 L138.7,324.4 L139.5,325.2 L140.3,324.4 L141.1,324.9 L141.9,325.5 L142.7,325.6 L143.5,325.0 L144.3,324.5 L145.1,324.5 L145.9,324.1 L146.7,323.2 L147.5,323.4 L148.3,323.1 L149.1,322.7 L149.9,321.6 L150.7,321.4 L151.5,320.9 L152.3,320.4 L153.1,318.7 L153.9,317.2 L154.7,316.0 L155.5,315.2 L156.3,314.2 L157.1,313.1 L157.9,312.1 L158.7,310.9 L159.5,309.5 L160.3,308.3 L161.1,307.5 L161.9,306.5 L162.7,305.9 L163.5,305.4 L164.3,304.6 L165.1,304.4 L165.9,303.4 L166.7,302.9 L167.5,301.8 L168.3,300.6 L169.1,300.8 L169.9,300.0 L170.7,299.2 L171.5,298.3 L172.3,298.3 L173.1,298.2 L173.9,298.3 L174.7,298.1 L175.5,297.8 L176.3,297.9 L177.1,297.8 L177.9,298.0 L178.7,297.1 L179.5,297.1 L180.3,298.2 L181.1,297.3 L181.9,297.8 L182.7,297.2 L183.5,297.5 L184.3,297.6 L185.1,297.5 L185.9,296.9 L186.7,296.4 L187.5,297.0 L188.3,295.9 L189.1,295.3 L189.9,294.5 L190.7,293.2 L191.5,292.1 L192.3,290.8 L193.1,290.1 L193.9,288.1 L194.7,286.3 L195.5,283.5 L196.3,280.7 L197.1,279.1 L197.9,275.9 L198.7,273.6 L199.5,270.3 L200.3,267.9 L201.1,265.3 L201.9,262.1 L202.7,259.9 L203.5,257.3 L204.3,254.7 L205.1,252.9 L205.9,252.5 L206.7,252.7 L207.5,254.2 L208.3,254.8 L209.1,257.4 L209.9,260.7 L210.7,264.7 L211.5,269.5 L212.3,272.8 L213.1,276.8 L213.9,281.6 L214.7,287.1 L215.5,291.9 L216.3,297.3 L217.1,300.9 L217.9,305.5 L218.7,309.2 L219.5,312.9 L220.3,316.4 L221.1,320.1 L221.9,323.1 L222.7,326.3 L223.5,327.7 L224.3,329.6 L225.1,331.3 L225.9,332.7 L226.7,333.6 L227.5,335.7 L228.3,336.4 L229.1,337.5 L229.9,338.1 L230.7,338.6 L231.5,340.7 L232.3,341.4 L233.1,342.4 L233.9,342.2 L234.7,342.9 L235.5,343.2 L236.3,343.7 L237.1,342.8 L237.9,343.6 L238.7,343.6 L239.5,343.5 L240.3,343.5 L241.1,343.8 L241.9,344.0 L242.7,344.4 L243.5,345.5 L244.3,344.6 L245.1,345.0 L245.9,344.7 L246.7,344.1 L247.5,344.0 L248.3,344.3 L249.1,343.5 L249.9,344.8 L250.7,344.8 L251.5,345.3 L252.3,345.2 L253.1,344.2 L253.9,344.6 L254.7,344.2 L255.5,343.7 L256.3,344.0 L257.1,344.7 L257.9,345.1 L258.7,345.6 L259.5,345.8 L260.3,345.8 L261.1,345.8 L261.9,345.6 L262.7,345.7 L263.5,345.9 L264.3,345.7 L265.1,345.5 L265.9,345.5 L266.7,345.7 L267.5,344.8 L268.3,345.0 L269.1,344.6 L269.9,345.1 L270.7,344.5 L271.5,345.1 L272.3,345.4" fill="none" stroke="#6fb874" stroke-width="1.05" stroke-linejoin="round" />
<path d="M48.3,328.1 L49.1,328.8 L49.9,328.8 L50.7,328.8 L51.5,328.9 L52.3,329.0 L53.1,329.6 L53.9,329.6 L54.7,329.6 L55.5,330.0 L56.3,329.5 L57.1,330.0 L57.9,329.7 L58.7,329.2 L59.5,329.3 L60.3,329.8 L61.1,330.1 L61.9,329.7 L62.7,329.6 L63.5,330.6 L64.3,330.9 L65.1,330.7 L65.9,331.1 L66.7,330.5 L67.5,331.1 L68.3,330.9 L69.1,331.1 L69.9,331.5 L70.7,330.6 L71.5,330.3 L72.3,330.5 L73.1,330.9 L73.9,330.6 L74.7,330.4 L75.5,330.6 L76.3,330.7 L77.1,331.2 L77.9,331.3 L78.7,332.0 L79.5,331.6 L80.3,330.6 L81.1,331.6 L81.9,331.1 L82.7,331.4 L83.5,332.2 L84.3,331.1 L85.1,330.9 L85.9,330.9 L86.7,330.4 L87.5,330.1 L88.3,330.6 L89.1,330.1 L89.9,330.5 L90.7,331.3 L91.5,331.0 L92.3,331.7 L93.1,331.8 L93.9,332.1 L94.7,332.0 L95.5,331.4 L96.3,331.3 L97.1,331.6 L97.9,331.5 L98.7,330.8 L99.5,330.6 L100.3,330.5 L101.1,330.2 L101.9,331.3 L102.7,330.6 L103.5,330.9 L104.3,330.2 L105.1,329.0 L105.9,328.7 L106.7,327.7 L107.5,326.7 L108.3,325.9 L109.1,326.2 L109.9,325.4 L110.7,324.9 L111.5,324.7 L112.3,324.4 L113.1,323.5 L113.9,323.6 L114.7,323.0 L115.5,323.5 L116.3,322.5 L117.1,322.9 L117.9,323.4 L118.7,323.1 L119.5,322.8 L120.3,322.3 L121.1,322.5 L121.9,322.5 L122.7,322.0 L123.5,322.0 L124.3,321.8 L125.1,321.6 L125.9,322.8 L126.7,323.0 L127.5,323.5 L128.3,323.4 L129.1,322.7 L129.9,323.6 L130.7,324.4 L131.5,324.5 L132.3,325.3 L133.1,324.6 L133.9,325.4 L134.7,325.7 L135.5,326.1 L136.3,325.5 L137.1,326.1 L137.9,326.6 L138.7,326.1 L139.5,327.4 L140.3,328.0 L141.1,327.8 L141.9,327.4 L142.7,327.9 L143.5,327.7 L144.3,327.2 L145.1,326.5 L145.9,326.3 L146.7,325.6 L147.5,325.1 L148.3,325.6 L149.1,324.5 L149.9,324.1 L150.7,323.5 L151.5,322.9 L152.3,321.8 L153.1,321.2 L153.9,319.7 L154.7,319.1 L155.5,318.5 L156.3,317.4 L157.1,316.6 L157.9,314.7 L158.7,314.0 L159.5,312.6 L160.3,312.3 L161.1,311.2 L161.9,310.7 L162.7,309.2 L163.5,308.1 L164.3,307.6 L165.1,307.4 L165.9,306.1 L166.7,306.1 L167.5,305.9 L168.3,305.4 L169.1,304.9 L169.9,304.8 L170.7,303.9 L171.5,303.0 L172.3,302.5 L173.1,303.2 L173.9,303.8 L174.7,303.6 L175.5,303.1 L176.3,303.4 L177.1,303.9 L177.9,304.6 L178.7,305.1 L179.5,304.7 L180.3,304.8 L181.1,304.6 L181.9,303.7 L182.7,303.2 L183.5,303.3 L184.3,303.3 L185.1,303.8 L185.9,302.6 L186.7,302.2 L187.5,301.0 L188.3,300.1 L189.1,298.7 L189.9,298.0 L190.7,296.6 L191.5,296.0 L192.3,294.5 L193.1,292.7 L193.9,291.3 L194.7,289.0 L195.5,287.1 L196.3,283.8 L197.1,281.4 L197.9,279.1 L198.7,275.8 L199.5,273.0 L200.3,269.9 L201.1,266.0 L201.9,262.7 L202.7,259.8 L203.5,257.0 L204.3,254.0 L205.1,252.1 L205.9,249.9 L206.7,248.8 L207.5,250.2 L208.3,252.0 L209.1,254.9 L209.9,257.9 L210.7,261.6 L211.5,265.4 L212.3,269.9 L213.1,274.0 L213.9,278.2 L214.7,282.7 L215.5,287.7 L216.3,293.5 L217.1,298.4 L217.9,302.8 L218.7,307.3 L219.5,311.1 L220.3,315.0 L221.1,317.8 L221.9,321.1 L222.7,323.5 L223.5,325.7 L224.3,327.6 L225.1,330.1 L225.9,331.3 L226.7,333.6 L227.5,335.1 L228.3,336.3 L229.1,336.8 L229.9,337.4 L230.7,338.4 L231.5,339.8 L232.3,340.6 L233.1,340.3 L233.9,340.7 L234.7,341.0 L235.5,340.8 L236.3,341.5 L237.1,341.5 L237.9,341.9 L238.7,342.7 L239.5,342.8 L240.3,342.8 L241.1,342.9 L241.9,343.5 L242.7,343.2 L243.5,343.5 L244.3,344.3 L245.1,344.6 L245.9,344.2 L246.7,344.3 L247.5,344.5 L248.3,344.3 L249.1,344.2 L249.9,344.7 L250.7,344.4 L251.5,344.2 L252.3,343.8 L253.1,344.3 L253.9,344.3 L254.7,345.2 L255.5,344.6 L256.3,344.9 L257.1,344.8 L257.9,344.7 L258.7,344.3 L259.5,344.8 L260.3,344.9 L261.1,344.5 L261.9,344.5 L262.7,344.4 L263.5,344.7 L264.3,345.1 L265.1,345.6 L265.9,344.9 L266.7,345.1 L267.5,345.6 L268.3,345.3 L269.1,345.8 L269.9,345.8 L270.7,345.8 L271.5,346.1 L272.3,345.6" fill="none" stroke="#e27d68" stroke-width="1.05" stroke-linejoin="round" />
<path d="M48.3,329.5 L49.1,329.9 L49.9,329.5 L50.7,329.3 L51.5,329.6 L52.3,330.3 L53.1,329.2 L53.9,329.5 L54.7,328.8 L55.5,329.3 L56.3,329.0 L57.1,329.2 L57.9,329.1 L58.7,330.3 L59.5,329.6 L60.3,329.8 L61.1,329.1 L61.9,329.8 L62.7,329.8 L63.5,330.4 L64.3,330.7 L65.1,331.8 L65.9,331.5 L66.7,330.8 L67.5,331.4 L68.3,331.5 L69.1,330.8 L69.9,331.5 L70.7,331.4 L71.5,331.6 L72.3,331.5 L73.1,332.2 L73.9,332.4 L74.7,333.0 L75.5,332.9 L76.3,332.5 L77.1,333.3 L77.9,333.3 L78.7,332.9 L79.5,332.7 L80.3,333.1 L81.1,333.4 L81.9,333.0 L82.7,332.7 L83.5,332.7 L84.3,333.2 L85.1,332.8 L85.9,333.4 L86.7,333.8 L87.5,333.8 L88.3,334.1 L89.1,333.5 L89.9,332.9 L90.7,333.4 L91.5,333.3 L92.3,333.3 L93.1,334.1 L93.9,333.7 L94.7,333.7 L95.5,334.4 L96.3,335.0 L97.1,335.0 L97.9,334.4 L98.7,334.1 L99.5,333.8 L100.3,333.4 L101.1,333.2 L101.9,333.5 L102.7,333.6 L103.5,334.3 L104.3,333.7 L105.1,333.3 L105.9,332.5 L106.7,331.1 L107.5,330.9 L108.3,330.0 L109.1,329.2 L109.9,327.7 L110.7,328.1 L111.5,327.8 L112.3,327.7 L113.1,327.4 L113.9,326.6 L114.7,325.8 L115.5,325.2 L116.3,324.7 L117.1,323.7 L117.9,323.2 L118.7,323.6 L119.5,323.8 L120.3,324.1 L121.1,324.3 L121.9,324.9 L122.7,324.4 L123.5,324.4 L124.3,325.0 L125.1,324.4 L125.9,324.6 L126.7,324.7 L127.5,325.0 L128.3,325.4 L129.1,325.5 L129.9,325.8 L130.7,326.1 L131.5,326.7 L132.3,326.6 L133.1,327.3 L133.9,327.3 L134.7,328.0 L135.5,328.1 L136.3,328.2 L137.1,329.3 L137.9,329.0 L138.7,328.5 L139.5,329.6 L140.3,329.5 L141.1,329.2 L141.9,329.3 L142.7,329.1 L143.5,329.6 L144.3,329.7 L145.1,329.4 L145.9,328.9 L146.7,328.5 L147.5,328.1 L148.3,327.4 L149.1,326.8 L149.9,326.3 L150.7,325.7 L151.5,326.0 L152.3,325.2 L153.1,324.2 L153.9,323.6 L154.7,322.6 L155.5,321.7 L156.3,319.9 L157.1,319.0 L157.9,317.6 L158.7,316.8 L159.5,315.1 L160.3,314.0 L161.1,313.9 L161.9,313.3 L162.7,312.6 L163.5,311.9 L164.3,311.4 L165.1,311.0 L165.9,310.6 L166.7,310.0 L167.5,309.7 L168.3,309.8 L169.1,310.0 L169.9,309.7 L170.7,309.7 L171.5,308.9 L172.3,309.6 L173.1,309.2 L173.9,308.0 L174.7,308.4 L175.5,308.3 L176.3,309.1 L177.1,309.3 L177.9,308.8 L178.7,309.8 L179.5,309.3 L180.3,310.2 L181.1,309.3 L181.9,308.9 L182.7,309.6 L183.5,309.9 L184.3,309.3 L185.1,309.6 L185.9,308.9 L186.7,307.6 L187.5,307.0 L188.3,306.1 L189.1,304.4 L189.9,303.4 L190.7,302.2 L191.5,300.8 L192.3,298.7 L193.1,297.4 L193.9,295.1 L194.7,292.4 L195.5,290.2 L196.3,287.3 L197.1,283.8 L197.9,280.9 L198.7,277.7 L199.5,273.3 L200.3,269.8 L201.1,265.9 L201.9,262.8 L202.7,259.7 L203.5,255.8 L204.3,252.7 L205.1,250.6 L205.9,248.1 L206.7,247.5 L207.5,247.0 L208.3,247.7 L209.1,250.4 L209.9,253.2 L210.7,256.6 L211.5,261.1 L212.3,264.4 L213.1,269.4 L213.9,274.1 L214.7,279.8 L215.5,285.6 L216.3,291.4 L217.1,296.1 L217.9,301.3 L218.7,304.8 L219.5,309.2 L220.3,313.5 L221.1,317.5 L221.9,319.9 L222.7,322.6 L223.5,324.6 L224.3,327.2 L225.1,329.6 L225.9,330.7 L226.7,332.2 L227.5,333.5 L228.3,334.8 L229.1,334.8 L229.9,337.1 L230.7,338.9 L231.5,339.7 L232.3,340.3 L233.1,341.5 L233.9,341.1 L234.7,341.2 L235.5,341.3 L236.3,341.3 L237.1,341.0 L237.9,342.0 L238.7,342.5 L239.5,341.9 L240.3,342.5 L241.1,342.2 L241.9,342.9 L242.7,343.6 L243.5,344.0 L244.3,344.8 L245.1,345.2 L245.9,345.0 L246.7,343.8 L247.5,344.6 L248.3,343.9 L249.1,343.5 L249.9,343.7 L250.7,343.6 L251.5,343.1 L252.3,343.5 L253.1,344.0 L253.9,344.1 L254.7,343.9 L255.5,344.2 L256.3,344.8 L257.1,345.9 L257.9,345.2 L258.7,344.8 L259.5,344.6 L260.3,344.7 L261.1,345.0 L261.9,344.8 L262.7,345.0 L263.5,345.3 L264.3,344.9 L265.1,345.4 L265.9,345.4 L266.7,345.1 L267.5,345.3 L268.3,344.6 L269.1,344.5 L269.9,344.3 L270.7,345.1 L271.5,345.8 L272.3,345.9" fill="none" stroke="#222222" stroke-width="1.15" stroke-linejoin="round" />
<path d="M48.3,375.9 L49.1,376.5 L49.9,376.3 L50.7,376.4 L51.5,375.9 L52.3,376.3 L53.1,376.1 L53.9,376.8 L54.7,376.6 L55.5,376.4 L56.3,376.1 L57.1,375.7 L57.9,376.1 L58.7,375.4 L59.5,375.3 L60.3,375.3 L61.1,375.0 L61.9,374.9 L62.7,375.4 L63.5,373.9 L64.3,374.1 L65.1,374.5 L65.9,373.4 L66.7,373.9 L67.5,373.5 L68.3,373.6 L69.1,372.6 L69.9,372.5 L70.7,372.4 L71.5,372.5 L72.3,372.4 L73.1,372.6 L73.9,372.2 L74.7,371.1 L75.5,370.5 L76.3,370.4 L77.1,370.3 L77.9,369.3 L78.7,368.7 L79.5,367.8 L80.3,367.0 L81.1,367.1 L81.9,367.5 L82.7,366.4 L83.5,365.3 L84.3,365.4 L85.1,364.7 L85.9,364.9 L86.7,364.4 L87.5,363.3 L88.3,362.3 L89.1,361.4 L89.9,361.5 L90.7,361.0 L91.5,360.6 L92.3,360.5 L93.1,361.0 L93.9,360.5 L94.7,359.7 L95.5,359.2 L96.3,358.9 L97.1,358.3 L97.9,358.2 L98.7,358.1 L99.5,357.4 L100.3,357.1 L101.1,357.0 L101.9,357.2 L102.7,357.0 L103.5,356.5 L104.3,356.4 L105.1,356.8 L105.9,356.6 L106.7,356.9 L107.5,357.3 L108.3,357.6 L109.1,358.3 L109.9,359.3 L110.7,359.9 L111.5,360.6 L112.3,361.4 L113.1,362.4 L113.9,362.2 L114.7,362.9 L115.5,362.8 L116.3,364.1 L117.1,364.0 L117.9,364.0 L118.7,364.2 L119.5,364.7 L120.3,364.7 L121.1,364.7 L121.9,365.0 L122.7,365.6 L123.5,365.6 L124.3,365.8 L125.1,365.7 L125.9,366.0 L126.7,365.4 L127.5,364.8 L128.3,364.5 L129.1,364.6 L129.9,364.0 L130.7,363.4 L131.5,363.2 L132.3,362.9 L133.1,362.3 L133.9,361.8 L134.7,361.6 L135.5,361.4 L136.3,361.1 L137.1,361.0 L137.9,360.5 L138.7,360.1 L139.5,361.2 L140.3,360.6 L141.1,360.6 L141.9,360.9 L142.7,360.9 L143.5,360.8 L144.3,361.5 L145.1,361.4 L145.9,361.2 L146.7,360.6 L147.5,360.9 L148.3,360.9 L149.1,360.7 L149.9,360.9 L150.7,360.6 L151.5,360.5 L152.3,360.7 L153.1,360.7 L153.9,360.1 L154.7,359.9 L155.5,358.9 L156.3,359.7 L157.1,360.3 L157.9,359.9 L158.7,360.4 L159.5,359.6 L160.3,359.5 L161.1,359.5 L161.9,359.0 L162.7,359.0 L163.5,357.6 L164.3,357.8 L165.1,357.2 L165.9,356.6 L166.7,355.3 L167.5,354.5 L168.3,354.2 L169.1,353.3 L169.9,351.9 L170.7,351.1 L171.5,349.8 L172.3,348.7 L173.1,348.6 L173.9,346.7 L174.7,346.7 L175.5,345.9 L176.3,344.1 L177.1,344.0 L177.9,343.4 L178.7,342.3 L179.5,341.9 L180.3,341.5 L181.1,341.6 L181.9,342.2 L182.7,341.9 L183.5,343.2 L184.3,342.7 L185.1,343.4 L185.9,344.4 L186.7,344.9 L187.5,346.9 L188.3,347.5 L189.1,349.0 L189.9,350.7 L190.7,353.0 L191.5,355.0 L192.3,356.8 L193.1,358.5 L193.9,360.5 L194.7,363.3 L195.5,365.0 L196.3,366.5 L197.1,368.7 L197.9,369.2 L198.7,370.5 L199.5,371.2 L200.3,373.1 L201.1,374.3 L201.9,376.5 L202.7,377.9 L203.5,380.3 L204.3,381.8 L205.1,385.6 L205.9,388.4 L206.7,390.8 L207.5,393.5 L208.3,395.4 L209.1,398.5 L209.9,400.4 L210.7,402.1 L211.5,403.8 L212.3,404.4 L213.1,405.3 L213.9,404.8 L214.7,403.6 L215.5,403.3 L216.3,401.8 L217.1,400.2 L217.9,399.1 L218.7,397.3 L219.5,395.5 L220.3,394.2 L221.1,392.2 L221.9,390.6 L222.7,388.2 L223.5,387.8 L224.3,386.9 L225.1,385.6 L225.9,384.7 L226.7,383.5 L227.5,382.3 L228.3,381.7 L229.1,380.5 L229.9,380.2 L230.7,379.7 L231.5,377.5 L232.3,377.4 L233.1,376.4 L233.9,376.5 L234.7,375.9 L235.5,375.5 L236.3,376.1 L237.1,375.8 L237.9,375.6 L238.7,375.9 L239.5,376.0 L240.3,376.4 L241.1,375.9 L241.9,375.6 L242.7,375.5 L243.5,375.2 L244.3,375.4 L245.1,375.4 L245.9,375.0 L246.7,375.4 L247.5,375.6 L248.3,375.3 L249.1,374.7 L249.9,374.9 L250.7,375.4 L251.5,375.6 L252.3,375.7 L253.1,376.4 L253.9,376.4 L254.7,375.9 L255.5,376.4 L256.3,376.1 L257.1,376.4 L257.9,376.1 L258.7,376.2 L259.5,376.1 L260.3,376.4 L261.1,375.5 L261.9,375.4 L262.7,376.5 L263.5,376.0 L264.3,375.4 L265.1,375.0 L265.9,374.9 L266.7,375.5 L267.5,375.0 L268.3,375.8 L269.1,375.9 L269.9,375.9 L270.7,375.7 L271.5,375.8 L272.3,375.6" fill="none" stroke="#d896cd" stroke-width="1.05" stroke-linejoin="round" />
<path d="M48.3,376.3 L49.1,376.0 L49.9,376.4 L50.7,377.1 L51.5,377.0 L52.3,375.8 L53.1,376.1 L53.9,376.0 L54.7,376.1 L55.5,376.3 L56.3,375.5 L57.1,376.0 L57.9,375.6 L58.7,375.7 L59.5,375.7 L60.3,375.5 L61.1,375.4 L61.9,374.5 L62.7,375.0 L63.5,375.1 L64.3,373.9 L65.1,374.4 L65.9,375.1 L66.7,374.3 L67.5,373.5 L68.3,373.4 L69.1,373.6 L69.9,374.1 L70.7,373.9 L71.5,373.9 L72.3,373.3 L73.1,373.2 L73.9,373.8 L74.7,372.9 L75.5,373.2 L76.3,373.5 L77.1,372.9 L77.9,372.1 L78.7,372.6 L79.5,372.1 L80.3,371.2 L81.1,371.2 L81.9,371.4 L82.7,370.6 L83.5,370.5 L84.3,369.7 L85.1,370.1 L85.9,369.2 L86.7,368.4 L87.5,368.3 L88.3,368.2 L89.1,367.0 L89.9,366.9 L90.7,366.4 L91.5,366.5 L92.3,365.3 L93.1,365.7 L93.9,365.3 L94.7,365.4 L95.5,364.6 L96.3,364.5 L97.1,364.0 L97.9,364.5 L98.7,364.2 L99.5,364.2 L100.3,363.3 L101.1,363.4 L101.9,364.2 L102.7,364.0 L103.5,364.3 L104.3,364.0 L105.1,364.1 L105.9,364.0 L106.7,364.5 L107.5,364.8 L108.3,364.7 L109.1,365.0 L109.9,365.3 L110.7,366.2 L111.5,366.4 L112.3,366.2 L113.1,366.5 L113.9,367.2 L114.7,367.4 L115.5,367.6 L116.3,368.3 L117.1,368.7 L117.9,369.6 L118.7,369.8 L119.5,369.8 L120.3,369.8 L121.1,369.3 L121.9,369.1 L122.7,369.1 L123.5,368.8 L124.3,369.8 L125.1,369.1 L125.9,369.1 L126.7,369.4 L127.5,369.0 L128.3,369.2 L129.1,369.0 L129.9,368.4 L130.7,368.5 L131.5,367.8 L132.3,367.8 L133.1,367.4 L133.9,367.2 L134.7,367.5 L135.5,366.6 L136.3,367.7 L137.1,367.9 L137.9,367.3 L138.7,366.9 L139.5,367.0 L140.3,365.9 L141.1,365.1 L141.9,365.6 L142.7,364.6 L143.5,364.6 L144.3,364.6 L145.1,364.5 L145.9,364.9 L146.7,364.9 L147.5,365.0 L148.3,365.3 L149.1,365.0 L149.9,364.5 L150.7,364.5 L151.5,364.6 L152.3,364.3 L153.1,365.6 L153.9,365.6 L154.7,365.2 L155.5,364.7 L156.3,364.8 L157.1,364.5 L157.9,364.9 L158.7,365.1 L159.5,365.2 L160.3,364.6 L161.1,365.0 L161.9,364.6 L162.7,364.6 L163.5,364.8 L164.3,364.2 L165.1,363.8 L165.9,363.0 L166.7,363.1 L167.5,362.5 L168.3,361.8 L169.1,361.8 L169.9,361.5 L170.7,361.1 L171.5,359.9 L172.3,359.6 L173.1,358.6 L173.9,357.5 L174.7,357.6 L175.5,357.3 L176.3,355.6 L177.1,355.4 L177.9,354.5 L178.7,354.2 L179.5,354.4 L180.3,354.0 L181.1,353.5 L181.9,354.1 L182.7,354.0 L183.5,354.4 L184.3,354.3 L185.1,354.9 L185.9,355.7 L186.7,356.7 L187.5,357.6 L188.3,359.8 L189.1,360.8 L189.9,361.8 L190.7,362.2 L191.5,362.6 L192.3,364.4 L193.1,366.3 L193.9,367.1 L194.7,368.3 L195.5,369.3 L196.3,370.4 L197.1,371.7 L197.9,371.7 L198.7,372.7 L199.5,372.4 L200.3,373.8 L201.1,375.1 L201.9,376.2 L202.7,378.0 L203.5,379.5 L204.3,382.0 L205.1,384.4 L205.9,386.3 L206.7,388.8 L207.5,390.5 L208.3,392.1 L209.1,393.3 L209.9,395.2 L210.7,396.2 L211.5,397.1 L212.3,398.1 L213.1,398.1 L213.9,398.3 L214.7,397.7 L215.5,397.1 L216.3,395.3 L217.1,394.7 L217.9,393.4 L218.7,392.2 L219.5,391.3 L220.3,388.9 L221.1,387.4 L221.9,386.7 L222.7,385.9 L223.5,385.0 L224.3,384.5 L225.1,383.5 L225.9,382.6 L226.7,381.7 L227.5,380.8 L228.3,381.1 L229.1,379.7 L229.9,379.8 L230.7,378.1 L231.5,377.3 L232.3,376.7 L233.1,377.6 L233.9,376.8 L234.7,376.7 L235.5,376.2 L236.3,375.6 L237.1,376.0 L237.9,376.5 L238.7,376.1 L239.5,376.5 L240.3,377.1 L241.1,377.0 L241.9,376.8 L242.7,376.3 L243.5,375.8 L244.3,375.2 L245.1,376.1 L245.9,375.6 L246.7,375.6 L247.5,375.5 L248.3,375.5 L249.1,375.6 L249.9,375.0 L250.7,375.8 L251.5,374.9 L252.3,375.2 L253.1,375.9 L253.9,376.1 L254.7,375.5 L255.5,375.9 L256.3,375.0 L257.1,374.5 L257.9,374.9 L258.7,375.1 L259.5,375.8 L260.3,375.7 L261.1,375.7 L261.9,375.9 L262.7,375.3 L263.5,375.4 L264.3,375.1 L265.1,375.2 L265.9,375.8 L266.7,376.2 L267.5,376.6 L268.3,376.1 L269.1,375.9 L269.9,375.8 L270.7,376.2 L271.5,376.5 L272.3,375.6" fill="none" stroke="#9dd6d8" stroke-width="1.05" stroke-linejoin="round" />
<path d="M48.3,376.4 L49.1,375.8 L49.9,375.5 L50.7,375.3 L51.5,375.6 L52.3,376.1 L53.1,376.1 L53.9,376.3 L54.7,377.2 L55.5,376.9 L56.3,376.6 L57.1,376.6 L57.9,376.5 L58.7,375.8 L59.5,376.0 L60.3,376.3 L61.1,376.7 L61.9,376.6 L62.7,375.7 L63.5,375.7 L64.3,375.7 L65.1,375.2 L65.9,375.1 L66.7,375.0 L67.5,375.0 L68.3,375.5 L69.1,374.5 L69.9,374.2 L70.7,374.4 L71.5,374.0 L72.3,374.8 L73.1,375.0 L73.9,374.2 L74.7,373.7 L75.5,374.1 L76.3,374.2 L77.1,373.5 L77.9,373.1 L78.7,373.4 L79.5,373.2 L80.3,372.9 L81.1,373.2 L81.9,372.7 L82.7,372.9 L83.5,372.7 L84.3,372.3 L85.1,372.5 L85.9,371.8 L86.7,371.2 L87.5,370.0 L88.3,370.3 L89.1,370.0 L89.9,369.4 L90.7,369.8 L91.5,369.1 L92.3,368.6 L93.1,368.4 L93.9,368.6 L94.7,368.4 L95.5,367.4 L96.3,367.5 L97.1,368.0 L97.9,367.6 L98.7,368.1 L99.5,367.7 L100.3,367.2 L101.1,367.6 L101.9,368.0 L102.7,368.0 L103.5,367.3 L104.3,367.7 L105.1,368.0 L105.9,367.7 L106.7,367.2 L107.5,367.5 L108.3,367.5 L109.1,368.6 L109.9,368.9 L110.7,368.9 L111.5,369.1 L112.3,369.8 L113.1,369.6 L113.9,370.2 L114.7,370.0 L115.5,370.2 L116.3,370.4 L117.1,370.5 L117.9,370.4 L118.7,371.6 L119.5,370.8 L120.3,370.5 L121.1,370.8 L121.9,370.8 L122.7,370.7 L123.5,371.0 L124.3,371.5 L125.1,371.4 L125.9,370.8 L126.7,371.2 L127.5,371.5 L128.3,371.0 L129.1,371.1 L129.9,370.4 L130.7,369.9 L131.5,370.4 L132.3,370.2 L133.1,369.9 L133.9,369.7 L134.7,369.9 L135.5,370.1 L136.3,369.0 L137.1,369.5 L137.9,369.4 L138.7,368.8 L139.5,369.5 L140.3,369.4 L141.1,369.1 L141.9,369.4 L142.7,368.8 L143.5,369.1 L144.3,369.0 L145.1,368.7 L145.9,368.5 L146.7,368.6 L147.5,368.8 L148.3,368.5 L149.1,369.0 L149.9,369.3 L150.7,369.0 L151.5,369.0 L152.3,368.4 L153.1,368.5 L153.9,369.6 L154.7,369.3 L155.5,368.7 L156.3,368.6 L157.1,368.2 L157.9,367.9 L158.7,367.9 L159.5,368.1 L160.3,368.1 L161.1,367.8 L161.9,367.7 L162.7,368.2 L163.5,368.2 L164.3,368.4 L165.1,368.3 L165.9,367.7 L166.7,367.3 L167.5,366.8 L168.3,366.5 L169.1,366.3 L169.9,366.2 L170.7,365.5 L171.5,364.6 L172.3,364.4 L173.1,363.9 L173.9,362.7 L174.7,361.9 L175.5,362.0 L176.3,362.0 L177.1,362.0 L177.9,361.0 L178.7,361.3 L179.5,361.3 L180.3,361.2 L181.1,360.9 L181.9,361.2 L182.7,361.1 L183.5,361.5 L184.3,360.8 L185.1,361.8 L185.9,362.5 L186.7,362.8 L187.5,363.6 L188.3,363.9 L189.1,365.3 L189.9,365.7 L190.7,366.7 L191.5,367.6 L192.3,368.1 L193.1,368.8 L193.9,368.9 L194.7,369.8 L195.5,370.6 L196.3,371.7 L197.1,372.5 L197.9,373.0 L198.7,374.0 L199.5,373.0 L200.3,375.2 L201.1,376.3 L201.9,377.1 L202.7,378.5 L203.5,379.5 L204.3,380.9 L205.1,382.5 L205.9,383.8 L206.7,386.0 L207.5,386.5 L208.3,388.0 L209.1,389.8 L209.9,390.7 L210.7,391.0 L211.5,391.9 L212.3,393.5 L213.1,392.6 L213.9,393.1 L214.7,393.0 L215.5,392.2 L216.3,390.9 L217.1,390.3 L217.9,390.0 L218.7,389.2 L219.5,387.9 L220.3,386.8 L221.1,385.2 L221.9,384.4 L222.7,383.7 L223.5,383.0 L224.3,382.4 L225.1,382.1 L225.9,380.4 L226.7,379.9 L227.5,379.0 L228.3,379.0 L229.1,379.2 L229.9,378.3 L230.7,378.1 L231.5,377.1 L232.3,377.2 L233.1,376.8 L233.9,377.1 L234.7,376.5 L235.5,376.3 L236.3,375.8 L237.1,375.6 L237.9,375.1 L238.7,375.7 L239.5,375.7 L240.3,376.0 L241.1,375.3 L241.9,375.9 L242.7,375.8 L243.5,375.9 L244.3,375.3 L245.1,375.4 L245.9,375.6 L246.7,376.0 L247.5,376.1 L248.3,375.8 L249.1,375.8 L249.9,375.5 L250.7,375.7 L251.5,376.3 L252.3,375.6 L253.1,376.5 L253.9,376.6 L254.7,376.1 L255.5,376.1 L256.3,376.4 L257.1,376.1 L257.9,376.1 L258.7,376.6 L259.5,376.7 L260.3,376.8 L261.1,376.7 L261.9,376.1 L262.7,376.2 L263.5,376.2 L264.3,376.4 L265.1,376.3 L265.9,376.4 L266.7,376.2 L267.5,375.6 L268.3,375.8 L269.1,375.4 L269.9,375.1 L270.7,375.1 L271.5,375.4 L272.3,374.7" fill="none" stroke="#44549a" stroke-width="1.05" stroke-linejoin="round" />
<path d="M48.3,375.4 L49.1,375.5 L49.9,375.4 L50.7,375.7 L51.5,375.6 L52.3,375.9 L53.1,376.4 L53.9,376.3 L54.7,376.4 L55.5,376.6 L56.3,376.1 L57.1,375.9 L57.9,376.8 L58.7,376.7 L59.5,375.9 L60.3,376.3 L61.1,375.8 L61.9,375.5 L62.7,375.4 L63.5,375.3 L64.3,374.8 L65.1,375.4 L65.9,375.0 L66.7,375.0 L67.5,375.3 L68.3,375.1 L69.1,375.1 L69.9,375.4 L70.7,375.2 L71.5,374.4 L72.3,374.7 L73.1,374.7 L73.9,375.0 L74.7,374.9 L75.5,374.9 L76.3,374.6 L77.1,374.8 L77.9,374.5 L78.7,374.5 L79.5,374.1 L80.3,373.9 L81.1,374.5 L81.9,374.4 L82.7,374.1 L83.5,373.2 L84.3,373.1 L85.1,372.6 L85.9,373.0 L86.7,373.3 L87.5,373.4 L88.3,373.2 L89.1,372.6 L89.9,371.7 L90.7,371.9 L91.5,371.9 L92.3,371.9 L93.1,372.2 L93.9,372.8 L94.7,372.3 L95.5,372.1 L96.3,371.8 L97.1,371.5 L97.9,371.7 L98.7,371.5 L99.5,370.9 L100.3,370.9 L101.1,371.6 L101.9,371.5 L102.7,371.7 L103.5,371.0 L104.3,371.3 L105.1,370.9 L105.9,370.8 L106.7,370.7 L107.5,371.2 L108.3,371.6 L109.1,371.8 L109.9,372.2 L110.7,372.6 L111.5,372.2 L112.3,372.6 L113.1,372.1 L113.9,371.7 L114.7,371.9 L115.5,372.2 L116.3,373.1 L117.1,372.6 L117.9,372.6 L118.7,372.3 L119.5,371.7 L120.3,372.3 L121.1,372.5 L121.9,372.7 L122.7,373.2 L123.5,373.1 L124.3,373.7 L125.1,373.5 L125.9,373.3 L126.7,373.5 L127.5,373.7 L128.3,373.2 L129.1,372.5 L129.9,373.0 L130.7,373.7 L131.5,373.2 L132.3,373.7 L133.1,372.9 L133.9,372.4 L134.7,372.5 L135.5,372.7 L136.3,372.9 L137.1,372.6 L137.9,372.0 L138.7,372.3 L139.5,371.8 L140.3,372.2 L141.1,372.0 L141.9,371.7 L142.7,371.8 L143.5,371.7 L144.3,371.0 L145.1,371.4 L145.9,371.0 L146.7,371.3 L147.5,371.4 L148.3,371.4 L149.1,371.4 L149.9,371.6 L150.7,371.0 L151.5,371.5 L152.3,371.5 L153.1,371.9 L153.9,371.5 L154.7,371.3 L155.5,371.3 L156.3,371.6 L157.1,371.4 L157.9,371.0 L158.7,371.5 L159.5,371.7 L160.3,371.1 L161.1,371.4 L161.9,370.5 L162.7,370.5 L163.5,370.5 L164.3,370.3 L165.1,370.6 L165.9,369.9 L166.7,370.8 L167.5,370.9 L168.3,371.0 L169.1,370.8 L169.9,369.8 L170.7,369.7 L171.5,369.2 L172.3,369.7 L173.1,369.0 L173.9,368.9 L174.7,369.2 L175.5,369.3 L176.3,368.4 L177.1,368.1 L177.9,367.7 L178.7,368.1 L179.5,368.1 L180.3,366.8 L181.1,367.2 L181.9,366.7 L182.7,366.4 L183.5,366.9 L184.3,366.9 L185.1,367.2 L185.9,367.2 L186.7,368.0 L187.5,368.1 L188.3,369.1 L189.1,369.5 L189.9,369.2 L190.7,370.4 L191.5,370.7 L192.3,371.8 L193.1,372.2 L193.9,372.8 L194.7,373.4 L195.5,373.5 L196.3,373.5 L197.1,374.0 L197.9,373.8 L198.7,374.8 L199.5,374.1 L200.3,374.7 L201.1,375.5 L201.9,376.5 L202.7,376.5 L203.5,377.4 L204.3,379.1 L205.1,380.3 L205.9,381.8 L206.7,382.7 L207.5,384.1 L208.3,384.7 L209.1,386.0 L209.9,386.9 L210.7,387.2 L211.5,388.6 L212.3,388.4 L213.1,387.9 L213.9,387.9 L214.7,387.9 L215.5,386.9 L216.3,386.6 L217.1,386.0 L217.9,385.8 L218.7,384.8 L219.5,384.7 L220.3,384.5 L221.1,383.3 L221.9,381.7 L222.7,381.3 L223.5,380.9 L224.3,380.5 L225.1,380.4 L225.9,379.5 L226.7,379.0 L227.5,378.7 L228.3,379.1 L229.1,379.4 L229.9,378.6 L230.7,378.9 L231.5,378.1 L232.3,377.7 L233.1,377.2 L233.9,376.9 L234.7,376.8 L235.5,376.6 L236.3,376.7 L237.1,376.9 L237.9,376.6 L238.7,377.0 L239.5,377.3 L240.3,376.9 L241.1,376.8 L241.9,377.4 L242.7,377.4 L243.5,376.5 L244.3,376.5 L245.1,377.2 L245.9,376.3 L246.7,376.8 L247.5,376.1 L248.3,375.8 L249.1,376.2 L249.9,374.9 L250.7,375.3 L251.5,374.7 L252.3,374.6 L253.1,374.9 L253.9,375.2 L254.7,374.6 L255.5,375.0 L256.3,374.8 L257.1,375.0 L257.9,376.0 L258.7,375.4 L259.5,376.0 L260.3,375.6 L261.1,375.7 L261.9,375.9 L262.7,376.3 L263.5,375.9 L264.3,376.0 L265.1,376.1 L265.9,375.9 L266.7,376.0 L267.5,376.6 L268.3,376.6 L269.1,376.4 L269.9,376.7 L270.7,377.0 L271.5,376.8 L272.3,377.1" fill="none" stroke="#6fb874" stroke-width="1.05" stroke-linejoin="round" />
<path d="M48.3,376.7 L49.1,376.7 L49.9,376.0 L50.7,376.1 L51.5,376.0 L52.3,375.9 L53.1,376.4 L53.9,375.9 L54.7,375.3 L55.5,375.0 L56.3,375.5 L57.1,375.9 L57.9,375.6 L58.7,375.1 L59.5,374.7 L60.3,375.2 L61.1,374.9 L61.9,375.0 L62.7,375.0 L63.5,375.0 L64.3,375.4 L65.1,374.7 L65.9,375.1 L66.7,374.9 L67.5,374.4 L68.3,375.1 L69.1,374.4 L69.9,375.7 L70.7,375.5 L71.5,375.9 L72.3,376.1 L73.1,375.8 L73.9,376.2 L74.7,375.8 L75.5,376.2 L76.3,376.3 L77.1,375.6 L77.9,375.2 L78.7,375.3 L79.5,376.0 L80.3,376.1 L81.1,376.3 L81.9,375.5 L82.7,374.9 L83.5,375.1 L84.3,375.2 L85.1,375.5 L85.9,375.4 L86.7,375.0 L87.5,375.3 L88.3,375.0 L89.1,375.1 L89.9,374.9 L90.7,375.1 L91.5,374.5 L92.3,374.1 L93.1,374.3 L93.9,373.9 L94.7,373.8 L95.5,374.2 L96.3,373.5 L97.1,373.0 L97.9,374.1 L98.7,373.6 L99.5,374.5 L100.3,374.0 L101.1,375.0 L101.9,375.5 L102.7,375.5 L103.5,375.0 L104.3,374.4 L105.1,374.7 L105.9,375.0 L106.7,374.9 L107.5,375.0 L108.3,375.3 L109.1,374.9 L109.9,375.3 L110.7,375.1 L111.5,374.3 L112.3,374.4 L113.1,374.4 L113.9,374.1 L114.7,374.3 L115.5,375.2 L116.3,375.3 L117.1,375.2 L117.9,375.2 L118.7,375.2 L119.5,375.3 L120.3,374.8 L121.1,375.8 L121.9,375.5 L122.7,376.0 L123.5,375.1 L124.3,375.1 L125.1,375.6 L125.9,375.8 L126.7,376.2 L127.5,375.4 L128.3,375.5 L129.1,375.4 L129.9,375.2 L130.7,375.5 L131.5,374.9 L132.3,374.8 L133.1,374.6 L133.9,374.2 L134.7,374.0 L135.5,374.4 L136.3,374.0 L137.1,373.5 L137.9,374.2 L138.7,374.3 L139.5,373.7 L140.3,373.3 L141.1,373.9 L141.9,373.5 L142.7,374.0 L143.5,374.4 L144.3,373.8 L145.1,373.9 L145.9,373.3 L146.7,373.3 L147.5,373.6 L148.3,373.7 L149.1,374.2 L149.9,374.1 L150.7,374.4 L151.5,374.0 L152.3,373.9 L153.1,373.7 L153.9,374.3 L154.7,374.2 L155.5,373.6 L156.3,374.0 L157.1,374.0 L157.9,373.3 L158.7,373.3 L159.5,373.1 L160.3,372.6 L161.1,372.7 L161.9,372.9 L162.7,373.0 L163.5,373.5 L164.3,373.8 L165.1,373.9 L165.9,373.5 L166.7,374.3 L167.5,373.6 L168.3,374.1 L169.1,373.3 L169.9,373.1 L170.7,372.4 L171.5,372.5 L172.3,373.4 L173.1,373.8 L173.9,372.7 L174.7,373.0 L175.5,372.4 L176.3,372.5 L177.1,372.4 L177.9,372.5 L178.7,371.9 L179.5,371.8 L180.3,371.7 L181.1,372.5 L181.9,372.4 L182.7,372.5 L183.5,371.9 L184.3,371.6 L185.1,372.1 L185.9,371.7 L186.7,372.2 L187.5,371.9 L188.3,372.6 L189.1,373.2 L189.9,373.6 L190.7,373.1 L191.5,373.4 L192.3,374.4 L193.1,373.6 L193.9,374.3 L194.7,374.1 L195.5,374.9 L196.3,375.3 L197.1,375.9 L197.9,375.6 L198.7,375.6 L199.5,374.8 L200.3,375.2 L201.1,376.3 L201.9,377.0 L202.7,376.7 L203.5,377.4 L204.3,377.3 L205.1,378.0 L205.9,379.4 L206.7,379.6 L207.5,380.1 L208.3,380.5 L209.1,380.8 L209.9,382.1 L210.7,382.6 L211.5,383.8 L212.3,383.8 L213.1,383.8 L213.9,383.7 L214.7,383.3 L215.5,382.6 L216.3,381.4 L217.1,382.1 L217.9,381.1 L218.7,380.0 L219.5,380.2 L220.3,380.1 L221.1,379.9 L221.9,379.4 L222.7,379.2 L223.5,379.6 L224.3,379.2 L225.1,379.3 L225.9,378.4 L226.7,379.0 L227.5,378.4 L228.3,378.6 L229.1,378.5 L229.9,378.4 L230.7,378.3 L231.5,377.8 L232.3,377.0 L233.1,376.9 L233.9,376.6 L234.7,376.6 L235.5,376.5 L236.3,377.0 L237.1,376.5 L237.9,377.2 L238.7,377.8 L239.5,376.6 L240.3,376.0 L241.1,376.5 L241.9,376.4 L242.7,376.3 L243.5,376.6 L244.3,376.3 L245.1,377.1 L245.9,377.6 L246.7,377.3 L247.5,377.0 L248.3,377.0 L249.1,376.9 L249.9,376.5 L250.7,376.3 L251.5,376.5 L252.3,376.8 L253.1,376.2 L253.9,375.8 L254.7,375.8 L255.5,375.5 L256.3,375.6 L257.1,375.9 L257.9,376.1 L258.7,376.3 L259.5,376.7 L260.3,376.6 L261.1,376.2 L261.9,375.5 L262.7,376.1 L263.5,375.5 L264.3,375.8 L265.1,376.6 L265.9,376.3 L266.7,376.3 L267.5,376.1 L268.3,375.6 L269.1,375.2 L269.9,376.4 L270.7,376.1 L271.5,375.6 L272.3,376.4" fill="none" stroke="#e27d68" stroke-width="1.05" stroke-linejoin="round" />
<path d="M48.3,376.1 L49.1,376.3 L49.9,376.4 L50.7,375.9 L51.5,376.4 L52.3,376.0 L53.1,375.9 L53.9,376.0 L54.7,376.4 L55.5,376.4 L56.3,376.0 L57.1,376.1 L57.9,376.3 L58.7,376.3 L59.5,376.3 L60.3,376.0 L61.1,375.9 L61.9,376.1 L62.7,376.4 L63.5,376.2 L64.3,376.3 L65.1,375.9 L65.9,376.1 L66.7,376.4 L67.5,376.1 L68.3,376.3 L69.1,376.3 L69.9,376.1 L70.7,376.2 L71.5,376.2 L72.3,376.1 L73.1,376.1 L73.9,376.3 L74.7,376.3 L75.5,376.4 L76.3,376.0 L77.1,376.2 L77.9,376.1 L78.7,376.3 L79.5,375.9 L80.3,376.1 L81.1,376.0 L81.9,376.3 L82.7,376.2 L83.5,375.8 L84.3,375.9 L85.1,375.9 L85.9,376.2 L86.7,376.3 L87.5,376.0 L88.3,375.8 L89.1,376.2 L89.9,376.2 L90.7,376.1 L91.5,376.0 L92.3,376.0 L93.1,375.9 L93.9,376.3 L94.7,376.0 L95.5,376.2 L96.3,376.1 L97.1,375.9 L97.9,376.0 L98.7,376.2 L99.5,376.3 L100.3,376.4 L101.1,375.9 L101.9,376.0 L102.7,375.9 L103.5,375.9 L104.3,376.0 L105.1,376.2 L105.9,376.3 L106.7,376.2 L107.5,375.9 L108.3,376.0 L109.1,375.9 L109.9,376.0 L110.7,376.1 L111.5,376.1 L112.3,375.9 L113.1,376.0 L113.9,376.3 L114.7,376.2 L115.5,376.2 L116.3,376.0 L117.1,376.0 L117.9,376.3 L118.7,375.8 L119.5,376.2 L120.3,376.4 L121.1,376.2 L121.9,375.8 L122.7,375.8 L123.5,376.3 L124.3,375.9 L125.1,376.1 L125.9,376.2 L126.7,376.2 L127.5,376.0 L128.3,376.2 L129.1,376.3 L129.9,376.1 L130.7,376.0 L131.5,376.2 L132.3,376.3 L133.1,376.2 L133.9,376.4 L134.7,376.3 L135.5,376.4 L136.3,376.0 L137.1,376.2 L137.9,375.9 L138.7,375.9 L139.5,376.0 L140.3,376.4 L141.1,376.0 L141.9,376.0 L142.7,376.4 L143.5,376.4 L144.3,376.3 L145.1,376.0 L145.9,376.3 L146.7,375.8 L147.5,375.8 L148.3,375.8 L149.1,376.0 L149.9,375.9 L150.7,376.3 L151.5,376.1 L152.3,376.3 L153.1,376.1 L153.9,376.0 L154.7,376.0 L155.5,375.8 L156.3,376.1 L157.1,376.4 L157.9,376.4 L158.7,376.4 L159.5,375.9 L160.3,376.1 L161.1,376.3 L161.9,375.9 L162.7,375.8 L163.5,375.9 L164.3,375.9 L165.1,376.2 L165.9,376.2 L166.7,376.4 L167.5,375.8 L168.3,376.2 L169.1,376.3 L169.9,375.9 L170.7,375.8 L171.5,376.4 L172.3,376.3 L173.1,375.8 L173.9,375.9 L174.7,376.2 L175.5,375.9 L176.3,376.1 L177.1,375.9 L177.9,375.9 L178.7,376.1 L179.5,376.1 L180.3,376.3 L181.1,375.8 L181.9,376.0 L182.7,375.8 L183.5,376.1 L184.3,375.9 L185.1,376.0 L185.9,376.4 L186.7,376.2 L187.5,376.2 L188.3,376.2 L189.1,375.9 L189.9,376.2 L190.7,376.4 L191.5,375.9 L192.3,376.3 L193.1,376.0 L193.9,375.9 L194.7,376.2 L195.5,376.3 L196.3,375.9 L197.1,375.9 L197.9,376.1 L198.7,375.9 L199.5,376.1 L200.3,376.4 L201.1,375.8 L201.9,376.1 L202.7,375.9 L203.5,375.9 L204.3,376.2 L205.1,376.4 L205.9,376.1 L206.7,376.1 L207.5,376.2 L208.3,376.3 L209.1,376.4 L209.9,376.0 L210.7,375.9 L211.5,376.3 L212.3,376.2 L213.1,376.3 L213.9,375.9 L214.7,376.3 L215.5,375.9 L216.3,375.9 L217.1,375.9 L217.9,376.0 L218.7,376.0 L219.5,376.2 L220.3,376.4 L221.1,376.1 L221.9,376.1 L222.7,376.0 L223.5,376.0 L224.3,376.0 L225.1,375.8 L225.9,376.0 L226.7,376.2 L227.5,376.3 L228.3,376.2 L229.1,376.1 L229.9,376.0 L230.7,375.9 L231.5,375.9 L232.3,376.4 L233.1,376.2 L233.9,376.0 L234.7,376.1 L235.5,376.1 L236.3,376.0 L237.1,376.1 L237.9,376.1 L238.7,376.3 L239.5,376.3 L240.3,376.0 L241.1,376.1 L241.9,375.9 L242.7,376.4 L243.5,375.9 L244.3,376.1 L245.1,375.8 L245.9,376.1 L246.7,376.1 L247.5,375.8 L248.3,375.9 L249.1,376.1 L249.9,376.1 L250.7,376.0 L251.5,375.8 L252.3,376.0 L253.1,376.0 L253.9,375.9 L254.7,376.2 L255.5,375.9 L256.3,376.1 L257.1,376.2 L257.9,375.8 L258.7,376.1 L259.5,376.2 L260.3,376.3 L261.1,376.2 L261.9,376.3 L262.7,376.2 L263.5,375.9 L264.3,376.3 L265.1,376.3 L265.9,376.1 L266.7,376.4 L267.5,375.8 L268.3,376.3 L269.1,376.0 L269.9,376.1 L270.7,376.3 L271.5,375.9 L272.3,376.1" fill="none" stroke="#222222" stroke-width="0.8" stroke-linejoin="round" />
<line x1="47.80" y1="346.90" x2="273.40" y2="346.90" stroke="#333" stroke-width="1.1" />
<line x1="104.00" y1="309.10" x2="104.00" y2="381.60" stroke="#333" stroke-width="1.0" />
<line x1="123.60" y1="344.60" x2="123.60" y2="379.50" stroke="#333" stroke-width="1.0" />
<line x1="153.10" y1="295.70" x2="153.10" y2="383.00" stroke="#333" stroke-width="1.0" />
<line x1="186.10" y1="252.20" x2="186.10" y2="383.00" stroke="#333" stroke-width="1.0" />
<rect x="47.8" y="229.9" width="225.59999999999997" height="181.6" fill="none" stroke="#5a5a5a" stroke-width="1.1"/>
<line x1="75.10" y1="411.50" x2="75.10" y2="414.50" stroke="#5a5a5a" stroke-width="0.9" />
<line x1="142.10" y1="411.50" x2="142.10" y2="414.50" stroke="#5a5a5a" stroke-width="0.9" />
<line x1="207.80" y1="411.50" x2="207.80" y2="414.50" stroke="#5a5a5a" stroke-width="0.9" />
<line x1="273.40" y1="411.50" x2="273.40" y2="414.50" stroke="#5a5a5a" stroke-width="0.9" />
<line x1="107.50" y1="411.50" x2="107.50" y2="409.50" stroke="#5a5a5a" stroke-width="0.9" />
<line x1="174.80" y1="411.50" x2="174.80" y2="409.50" stroke="#5a5a5a" stroke-width="0.9" />
<line x1="240.50" y1="411.50" x2="240.50" y2="409.50" stroke="#5a5a5a" stroke-width="0.9" />
<line x1="44.80" y1="258.90" x2="47.80" y2="258.90" stroke="#5a5a5a" stroke-width="0.9" />
<line x1="44.80" y1="288.20" x2="47.80" y2="288.20" stroke="#5a5a5a" stroke-width="0.9" />
<line x1="44.80" y1="317.50" x2="47.80" y2="317.50" stroke="#5a5a5a" stroke-width="0.9" />
<line x1="44.80" y1="346.90" x2="47.80" y2="346.90" stroke="#5a5a5a" stroke-width="0.9" />
<line x1="44.80" y1="405.00" x2="47.80" y2="405.00" stroke="#5a5a5a" stroke-width="0.9" />
<text x="23.4" y="241.2" font-family="Liberation Serif" font-size="21" font-weight="normal" text-anchor="start" fill="#1e1e1e" textLength="21.9" lengthAdjust="spacingAndGlyphs" >(b)</text>
<line x1="48.20" y1="239.90" x2="70.40" y2="239.90" stroke="#222222" stroke-width="1.0" />
<text x="73.9" y="243.5" font-family="Liberation Sans" font-size="10" font-weight="normal" text-anchor="start" fill="#1e1e1e" textLength="112.2" lengthAdjust="spacingAndGlyphs" >stoichiometric SnO<tspan font-size='6.2' dy='3'>2</tspan><tspan dy='-3'>(101)</tspan></text>
<line x1="48.20" y1="253.30" x2="70.40" y2="253.30" stroke="#e27d68" stroke-width="1.0" />
<text x="73.9" y="256.90000000000003" font-family="Liberation Sans" font-size="10" font-weight="normal" text-anchor="start" fill="#1e1e1e" textLength="22" lengthAdjust="spacingAndGlyphs" >0.1 L</text>
<line x1="48.20" y1="266.40" x2="70.40" y2="266.40" stroke="#6fb874" stroke-width="1.0" />
<text x="73.9" y="270.0" font-family="Liberation Sans" font-size="10" font-weight="normal" text-anchor="start" fill="#1e1e1e" textLength="22" lengthAdjust="spacingAndGlyphs" >0.2 L</text>
<line x1="48.20" y1="278.70" x2="70.40" y2="278.70" stroke="#44549a" stroke-width="1.0" />
<text x="73.9" y="282.3" font-family="Liberation Sans" font-size="10" font-weight="normal" text-anchor="start" fill="#1e1e1e" textLength="22" lengthAdjust="spacingAndGlyphs" >0.4 L</text>
<line x1="48.20" y1="291.40" x2="70.40" y2="291.40" stroke="#9dd6d8" stroke-width="1.0" />
<text x="73.9" y="295.0" font-family="Liberation Sans" font-size="10" font-weight="normal" text-anchor="start" fill="#1e1e1e" textLength="22" lengthAdjust="spacingAndGlyphs" >0.8 L</text>
<line x1="48.20" y1="303.60" x2="70.40" y2="303.60" stroke="#d896cd" stroke-width="1.0" />
<text x="73.9" y="307.20000000000005" font-family="Liberation Sans" font-size="10" font-weight="normal" text-anchor="start" fill="#1e1e1e" textLength="22" lengthAdjust="spacingAndGlyphs" >1.4 L</text>
<text x="219.4" y="243.9" font-family="Liberation Serif" font-size="16" font-weight="normal" text-anchor="start" fill="#1e1e1e" textLength="51.2" lengthAdjust="spacingAndGlyphs" >T=110 K</text>
<text x="109.6" y="342.2" font-family="Liberation Serif" font-size="12.5" font-weight="normal" text-anchor="start" fill="#1e1e1e" textLength="30.7" lengthAdjust="spacingAndGlyphs" >OH-3σ</text>
<text x="225.4" y="357.0" font-family="Liberation Serif" font-size="12" font-weight="normal" text-anchor="start" fill="#1e1e1e" textLength="44.1" lengthAdjust="spacingAndGlyphs" >difference</text>
<text x="225.4" y="369.6" font-family="Liberation Serif" font-size="12" font-weight="normal" text-anchor="start" fill="#1e1e1e" textLength="30.9" lengthAdjust="spacingAndGlyphs" >spectra</text>
<text x="96.3" y="391.8" font-family="Liberation Serif" font-size="11.5" font-weight="normal" fill="#1e1e1e" textLength="12.2" lengthAdjust="spacingAndGlyphs"><tspan>1b</tspan><tspan font-size="6.3" dy="3.2">2</tspan></text>
<text x="96.3" y="405.2" font-family="Liberation Serif" font-size="11.8" font-weight="normal" text-anchor="start" fill="#1e1e1e" textLength="31.5" lengthAdjust="spacingAndGlyphs" >12.8 eV</text>
<text x="142.0" y="391.8" font-family="Liberation Serif" font-size="11.5" font-weight="normal" fill="#1e1e1e" textLength="11.0" lengthAdjust="spacingAndGlyphs"><tspan>3a</tspan><tspan font-size="6.3" dy="3.2">1</tspan></text>
<text x="142.0" y="405.2" font-family="Liberation Serif" font-size="11.8" font-weight="normal" text-anchor="start" fill="#1e1e1e" textLength="26.0" lengthAdjust="spacingAndGlyphs" >9.0 eV</text>
<text x="180.6" y="391.8" font-family="Liberation Serif" font-size="11.5" font-weight="normal" fill="#1e1e1e" textLength="10.2" lengthAdjust="spacingAndGlyphs"><tspan>1b</tspan><tspan font-size="6.3" dy="3.2">1</tspan></text>
<text x="180.6" y="405.2" font-family="Liberation Serif" font-size="11.8" font-weight="normal" text-anchor="start" fill="#1e1e1e" textLength="25.6" lengthAdjust="spacingAndGlyphs" >6.6 eV</text>
<text x="75.1" y="425.5" font-family="Liberation Sans" font-size="11" font-weight="normal" text-anchor="middle" fill="#1e1e1e" textLength="10.5" lengthAdjust="spacingAndGlyphs" >15</text>
<text x="142.1" y="425.5" font-family="Liberation Sans" font-size="11" font-weight="normal" text-anchor="middle" fill="#1e1e1e" textLength="10.5" lengthAdjust="spacingAndGlyphs" >10</text>
<text x="207.8" y="425.5" font-family="Liberation Sans" font-size="11" font-weight="normal" text-anchor="middle" fill="#1e1e1e" textLength="5.6" lengthAdjust="spacingAndGlyphs" >5</text>
<text x="273.4" y="425.5" font-family="Liberation Sans" font-size="11" font-weight="normal" text-anchor="middle" fill="#1e1e1e" textLength="5.6" lengthAdjust="spacingAndGlyphs" >0</text>
<text x="115.8" y="437.6" font-family="Liberation Sans" font-size="11" font-weight="normal" text-anchor="start" fill="#1e1e1e" textLength="90" lengthAdjust="spacingAndGlyphs" >Binding Energy [eV]</text>
<polyline points="73.5,451.0 83.4,458.5 103.1,466.1 122.8,469.9 162.2,469.9 260.8,469.9" fill="none" stroke="#888" stroke-width="1.4"/>
<polyline points="73.5,451.0 83.4,477.4 93.2,503.8 112.9,515.1 152.4,520.8 211.5,520.8" fill="none" stroke="#8a8a8a" stroke-width="1.3"/>
<rect x="73.5" y="451.0" width="198.10000000000002" height="75.5" fill="none" stroke="#999" stroke-width="1.3"/>
<line x1="73.50" y1="526.50" x2="73.50" y2="529.50" stroke="#777" stroke-width="0.9" />
<line x1="83.36" y1="526.50" x2="83.36" y2="528.50" stroke="#777" stroke-width="0.9" />
<line x1="93.22" y1="526.50" x2="93.22" y2="529.50" stroke="#777" stroke-width="0.9" />
<line x1="103.08" y1="526.50" x2="103.08" y2="528.50" stroke="#777" stroke-width="0.9" />
<line x1="112.94" y1="526.50" x2="112.94" y2="529.50" stroke="#777" stroke-width="0.9" />
<line x1="122.80" y1="526.50" x2="122.80" y2="528.50" stroke="#777" stroke-width="0.9" />
<line x1="132.66" y1="526.50" x2="132.66" y2="529.50" stroke="#777" stroke-width="0.9" />
<line x1="142.52" y1="526.50" x2="142.52" y2="528.50" stroke="#777" stroke-width="0.9" />
<line x1="152.38" y1="526.50" x2="152.38" y2="529.50" stroke="#777" stroke-width="0.9" />
<line x1="162.24" y1="526.50" x2="162.24" y2="528.50" stroke="#777" stroke-width="0.9" />
<line x1="172.10" y1="526.50" x2="172.10" y2="529.50" stroke="#777" stroke-width="0.9" />
<line x1="181.96" y1="526.50" x2="181.96" y2="528.50" stroke="#777" stroke-width="0.9" />
<line x1="191.82" y1="526.50" x2="191.82" y2="529.50" stroke="#777" stroke-width="0.9" />
<line x1="201.68" y1="526.50" x2="201.68" y2="528.50" stroke="#777" stroke-width="0.9" />
<line x1="211.54" y1="526.50" x2="211.54" y2="529.50" stroke="#777" stroke-width="0.9" />
<line x1="221.40" y1="526.50" x2="221.40" y2="528.50" stroke="#777" stroke-width="0.9" />
<line x1="231.26" y1="526.50" x2="231.26" y2="529.50" stroke="#777" stroke-width="0.9" />
<line x1="241.12" y1="526.50" x2="241.12" y2="528.50" stroke="#777" stroke-width="0.9" />
<line x1="250.98" y1="526.50" x2="250.98" y2="529.50" stroke="#777" stroke-width="0.9" />
<line x1="260.84" y1="526.50" x2="260.84" y2="528.50" stroke="#777" stroke-width="0.9" />
<line x1="270.70" y1="526.50" x2="270.70" y2="529.50" stroke="#777" stroke-width="0.9" />
<line x1="70.50" y1="451.00" x2="73.50" y2="451.00" stroke="#777" stroke-width="0.9" />
<line x1="71.50" y1="460.43" x2="73.50" y2="460.43" stroke="#777" stroke-width="0.9" />
<line x1="70.50" y1="469.86" x2="73.50" y2="469.86" stroke="#777" stroke-width="0.9" />
<line x1="71.50" y1="479.29" x2="73.50" y2="479.29" stroke="#777" stroke-width="0.9" />
<line x1="70.50" y1="488.72" x2="73.50" y2="488.72" stroke="#777" stroke-width="0.9" />
<line x1="71.50" y1="498.15" x2="73.50" y2="498.15" stroke="#777" stroke-width="0.9" />
<line x1="70.50" y1="507.58" x2="73.50" y2="507.58" stroke="#777" stroke-width="0.9" />
<line x1="71.50" y1="517.01" x2="73.50" y2="517.01" stroke="#777" stroke-width="0.9" />
<line x1="70.50" y1="526.44" x2="73.50" y2="526.44" stroke="#777" stroke-width="0.9" />
<circle cx="73.5" cy="451.0" r="2.6" fill="#fff" stroke="#bbb" stroke-width="1"/>
<circle cx="83.4" cy="477.4" r="2.6" fill="#fff" stroke="#bbb" stroke-width="1"/>
<circle cx="93.2" cy="503.8" r="2.6" fill="#fff" stroke="#bbb" stroke-width="1"/>
<circle cx="112.9" cy="515.1" r="2.6" fill="#fff" stroke="#bbb" stroke-width="1"/>
<circle cx="152.4" cy="520.8" r="2.6" fill="#fff" stroke="#bbb" stroke-width="1"/>
<circle cx="211.5" cy="520.8" r="2.6" fill="#fff" stroke="#bbb" stroke-width="1"/>
<circle cx="73.5" cy="451.0" r="2.3" fill="#111" stroke="#fff" stroke-width="1.0" paint-order="stroke"/>
<circle cx="83.4" cy="458.5" r="2.3" fill="#111" stroke="#fff" stroke-width="1.0" paint-order="stroke"/>
<circle cx="103.1" cy="466.1" r="2.3" fill="#111" stroke="#fff" stroke-width="1.0" paint-order="stroke"/>
<circle cx="122.8" cy="469.9" r="2.3" fill="#111" stroke="#fff" stroke-width="1.0" paint-order="stroke"/>
<circle cx="162.2" cy="469.9" r="2.3" fill="#111" stroke="#fff" stroke-width="1.0" paint-order="stroke"/>
<circle cx="260.8" cy="469.9" r="2.3" fill="#111" stroke="#fff" stroke-width="1.0" paint-order="stroke"/>
<text x="69.6" y="454.4" font-family="Liberation Sans" font-size="9.8" font-weight="normal" text-anchor="end" fill="#2a2a2a" textLength="11.5" lengthAdjust="spacingAndGlyphs" >0.0</text>
<text x="69.6" y="473.26" font-family="Liberation Sans" font-size="9.8" font-weight="normal" text-anchor="end" fill="#2a2a2a" textLength="14.5" lengthAdjust="spacingAndGlyphs" >-0.1</text>
<text x="69.6" y="492.12" font-family="Liberation Sans" font-size="9.8" font-weight="normal" text-anchor="end" fill="#2a2a2a" textLength="14.5" lengthAdjust="spacingAndGlyphs" >-0.2</text>
<text x="69.6" y="510.97999999999996" font-family="Liberation Sans" font-size="9.8" font-weight="normal" text-anchor="end" fill="#2a2a2a" textLength="14.5" lengthAdjust="spacingAndGlyphs" >-0.3</text>
<text x="69.6" y="529.84" font-family="Liberation Sans" font-size="9.8" font-weight="normal" text-anchor="end" fill="#2a2a2a" textLength="14.5" lengthAdjust="spacingAndGlyphs" >-0.4</text>
<text x="73.5" y="537.3" font-family="Liberation Sans" font-size="10.4" font-weight="normal" text-anchor="middle" fill="#2a2a2a" textLength="11.0" lengthAdjust="spacingAndGlyphs" >0.0</text>
<text x="93.22" y="537.3" font-family="Liberation Sans" font-size="10.4" font-weight="normal" text-anchor="middle" fill="#2a2a2a" textLength="11.0" lengthAdjust="spacingAndGlyphs" >0.2</text>
<text x="112.94" y="537.3" font-family="Liberation Sans" font-size="10.4" font-weight="normal" text-anchor="middle" fill="#2a2a2a" textLength="11.0" lengthAdjust="spacingAndGlyphs" >0.4</text>
<text x="132.66" y="537.3" font-family="Liberation Sans" font-size="10.4" font-weight="normal" text-anchor="middle" fill="#2a2a2a" textLength="11.0" lengthAdjust="spacingAndGlyphs" >0.6</text>
<text x="152.38" y="537.3" font-family="Liberation Sans" font-size="10.4" font-weight="normal" text-anchor="middle" fill="#2a2a2a" textLength="11.0" lengthAdjust="spacingAndGlyphs" >0.8</text>
<text x="172.1" y="537.3" font-family="Liberation Sans" font-size="10.4" font-weight="normal" text-anchor="middle" fill="#2a2a2a" textLength="11.0" lengthAdjust="spacingAndGlyphs" >1.0</text>
<text x="191.82" y="537.3" font-family="Liberation Sans" font-size="10.4" font-weight="normal" text-anchor="middle" fill="#2a2a2a" textLength="11.0" lengthAdjust="spacingAndGlyphs" >1.2</text>
<text x="211.54" y="537.3" font-family="Liberation Sans" font-size="10.4" font-weight="normal" text-anchor="middle" fill="#2a2a2a" textLength="11.0" lengthAdjust="spacingAndGlyphs" >1.4</text>
<text x="231.26" y="537.3" font-family="Liberation Sans" font-size="10.4" font-weight="normal" text-anchor="middle" fill="#2a2a2a" textLength="11.0" lengthAdjust="spacingAndGlyphs" >1.6</text>
<text x="250.98" y="537.3" font-family="Liberation Sans" font-size="10.4" font-weight="normal" text-anchor="middle" fill="#2a2a2a" textLength="11.0" lengthAdjust="spacingAndGlyphs" >1.8</text>
<text x="270.7" y="537.3" font-family="Liberation Sans" font-size="10.4" font-weight="normal" text-anchor="middle" fill="#2a2a2a" textLength="11.0" lengthAdjust="spacingAndGlyphs" >2.0</text>
<text transform="translate(45.4,526.5) rotate(-90)" font-family="Liberation Sans" font-size="10" fill="#333" textLength="70" lengthAdjust="spacingAndGlyphs">Band Bending [eV]</text>
<text x="123.8" y="553.9" font-family="Liberation Sans" font-size="13" font-weight="normal" text-anchor="start" fill="#333" textLength="97.5" lengthAdjust="spacingAndGlyphs" >Water Exposure [L]</text>
<text x="25.4" y="448.0" font-family="Liberation Serif" font-size="23" font-weight="normal" text-anchor="start" fill="#1e1e1e" textLength="23.1" lengthAdjust="spacingAndGlyphs" >(c)</text>
<line x1="159.50" y1="489.70" x2="177.50" y2="489.70" stroke="#555" stroke-width="1.2" />
<circle cx="169" cy="489.7" r="2.5" fill="#111" stroke="#fff" stroke-width="1.0" paint-order="stroke"/>
<line x1="159.50" y1="500.70" x2="177.50" y2="500.70" stroke="#777" stroke-width="1.2" />
<circle cx="169" cy="500.7" r="2.7" fill="#fff" stroke="#777" stroke-width="1"/>
<text x="180.7" y="493.0" font-family="Liberation Serif" font-size="10" font-weight="normal" fill="#333" textLength="64.3" lengthAdjust="spacingAndGlyphs"><tspan>reduced SnO</tspan><tspan font-size="6.8" dy="2.8">2</tspan><tspan dy="-2.8">(101)</tspan></text>
<text x="180.7" y="504.0" font-family="Liberation Serif" font-size="10" font-weight="normal" fill="#333" textLength="86.3" lengthAdjust="spacingAndGlyphs"><tspan>stoichiometric SnO</tspan><tspan font-size="6.8" dy="2.8">2</tspan><tspan dy="-2.8">(101)</tspan></text>
<line x1="311.20" y1="160.20" x2="536.50" y2="160.20" stroke="#555" stroke-width="1.0" />
<path d="M311.7,161.4 L312.5,160.9 L313.3,161.2 L314.1,161.0 L314.9,161.2 L315.7,160.8 L316.5,160.6 L317.3,160.4 L318.1,159.9 L318.9,160.9 L319.7,160.9 L320.5,159.8 L321.3,160.6 L322.1,160.6 L322.9,160.4 L323.7,159.7 L324.5,160.4 L325.3,160.0 L326.1,160.5 L326.9,160.2 L327.7,159.3 L328.5,160.6 L329.3,160.4 L330.1,160.1 L330.9,160.7 L331.7,160.6 L332.5,161.1 L333.3,161.5 L334.1,161.0 L334.9,160.7 L335.7,160.8 L336.5,161.2 L337.3,160.9 L338.1,160.9 L338.9,160.1 L339.7,160.2 L340.5,159.5 L341.3,159.8 L342.1,159.4 L342.9,159.6 L343.7,159.3 L344.5,159.1 L345.3,159.4 L346.1,159.7 L346.9,159.2 L347.7,158.9 L348.5,159.2 L349.3,158.8 L350.1,157.9 L350.9,158.1 L351.7,158.2 L352.5,158.5 L353.3,157.7 L354.1,157.9 L354.9,157.0 L355.7,157.3 L356.5,156.9 L357.3,157.3 L358.1,157.2 L358.9,157.4 L359.7,157.7 L360.5,157.4 L361.3,157.2 L362.1,157.5 L362.9,157.5 L363.7,157.3 L364.5,157.5 L365.3,157.6 L366.1,157.2 L366.9,157.5 L367.7,156.9 L368.5,157.6 L369.3,157.7 L370.1,157.7 L370.9,158.5 L371.7,158.1 L372.5,157.9 L373.3,158.3 L374.1,158.7 L374.9,158.9 L375.7,158.7 L376.5,158.3 L377.3,159.0 L378.1,157.9 L378.9,157.4 L379.7,157.4 L380.5,156.9 L381.3,156.5 L382.1,156.0 L382.9,156.2 L383.7,156.3 L384.5,156.4 L385.3,157.3 L386.1,156.9 L386.9,157.1 L387.7,158.0 L388.5,157.4 L389.3,157.1 L390.1,156.8 L390.9,157.2 L391.7,156.7 L392.5,156.7 L393.3,156.8 L394.1,156.7 L394.9,157.7 L395.7,157.7 L396.5,157.6 L397.3,158.3 L398.1,158.4 L398.9,157.8 L399.7,157.0 L400.5,157.0 L401.3,156.6 L402.1,156.8 L402.9,157.3 L403.7,157.0 L404.5,157.4 L405.3,156.8 L406.1,158.1 L406.9,157.1 L407.7,157.5 L408.5,157.1 L409.3,156.9 L410.1,157.0 L410.9,157.5 L411.7,157.4 L412.5,157.4 L413.3,157.0 L414.1,157.9 L414.9,157.1 L415.7,156.7 L416.5,156.7 L417.3,155.9 L418.1,155.6 L418.9,155.7 L419.7,155.5 L420.5,156.6 L421.3,156.3 L422.1,156.3 L422.9,155.6 L423.7,155.5 L424.5,155.3 L425.3,155.4 L426.1,155.6 L426.9,155.6 L427.7,155.4 L428.5,155.2 L429.3,154.7 L430.1,155.0 L430.9,154.5 L431.7,154.3 L432.5,154.9 L433.3,155.4 L434.1,155.5 L434.9,155.4 L435.7,155.3 L436.5,155.2 L437.3,155.6 L438.1,155.9 L438.9,155.6 L439.7,155.2 L440.5,154.7 L441.3,154.1 L442.1,154.4 L442.9,154.3 L443.7,154.7 L444.5,154.3 L445.3,154.5 L446.1,154.1 L446.9,154.4 L447.7,154.0 L448.5,154.1 L449.3,154.0 L450.1,154.1 L450.9,154.8 L451.7,155.2 L452.5,155.8 L453.3,155.6 L454.1,156.2 L454.9,156.1 L455.7,156.1 L456.5,157.3 L457.3,157.8 L458.1,158.3 L458.9,159.3 L459.7,161.0 L460.5,161.3 L461.3,162.1 L462.1,163.4 L462.9,163.7 L463.7,165.0 L464.5,166.0 L465.3,165.3 L466.1,165.6 L466.9,166.6 L467.7,167.4 L468.5,167.4 L469.3,168.5 L470.1,168.0 L470.9,166.9 L471.7,166.5 L472.5,166.7 L473.3,165.9 L474.1,166.6 L474.9,166.3 L475.7,165.7 L476.5,165.9 L477.3,165.0 L478.1,164.9 L478.9,164.6 L479.7,164.1 L480.5,164.8 L481.3,164.2 L482.1,164.3 L482.9,163.4 L483.7,163.6 L484.5,163.5 L485.3,162.8 L486.1,162.4 L486.9,162.2 L487.7,162.0 L488.5,161.7 L489.3,162.2 L490.1,162.0 L490.9,161.8 L491.7,161.8 L492.5,161.5 L493.3,161.1 L494.1,161.2 L494.9,160.9 L495.7,160.4 L496.5,160.7 L497.3,160.5 L498.1,160.6 L498.9,160.6 L499.7,160.4 L500.5,161.1 L501.3,160.3 L502.1,160.0 L502.9,159.7 L503.7,159.6 L504.5,159.9 L505.3,159.4 L506.1,158.6 L506.9,159.3 L507.7,159.7 L508.5,159.9 L509.3,159.3 L510.1,159.6 L510.9,159.7 L511.7,159.0 L512.5,158.9 L513.3,158.4 L514.1,158.8 L514.9,159.3 L515.7,159.2 L516.5,159.2 L517.3,159.7 L518.1,160.1 L518.9,160.1 L519.7,159.7 L520.5,159.3 L521.3,159.7 L522.1,160.6 L522.9,159.4 L523.7,159.6 L524.5,158.4 L525.3,158.5 L526.1,159.2 L526.9,159.9 L527.7,159.5 L528.5,159.3 L529.3,159.2 L530.1,160.0 L530.9,160.1 L531.7,160.0 L532.5,160.4 L533.3,160.2 L534.1,160.3 L534.9,159.8 L535.7,160.3" fill="none" stroke="#e0563c" stroke-width="1.15" stroke-linejoin="round" />
<path d="M311.7,133.3 L312.5,133.5 L313.3,133.6 L314.1,133.9 L314.9,134.2 L315.7,133.5 L316.5,134.4 L317.3,133.8 L318.1,133.8 L318.9,134.5 L319.7,134.4 L320.5,135.2 L321.3,135.0 L322.1,135.8 L322.9,135.2 L323.7,135.5 L324.5,135.6 L325.3,135.7 L326.1,137.0 L326.9,136.9 L327.7,137.7 L328.5,137.7 L329.3,138.4 L330.1,138.4 L330.9,137.4 L331.7,137.5 L332.5,136.9 L333.3,137.6 L334.1,137.7 L334.9,137.7 L335.7,136.9 L336.5,137.1 L337.3,137.7 L338.1,137.7 L338.9,137.4 L339.7,137.3 L340.5,137.4 L341.3,138.2 L342.1,137.2 L342.9,137.8 L343.7,138.2 L344.5,138.1 L345.3,138.0 L346.1,138.1 L346.9,138.0 L347.7,137.6 L348.5,137.5 L349.3,138.1 L350.1,137.6 L350.9,137.5 L351.7,137.4 L352.5,137.7 L353.3,137.4 L354.1,137.7 L354.9,137.6 L355.7,137.3 L356.5,137.2 L357.3,137.5 L358.1,137.6 L358.9,138.4 L359.7,137.8 L360.5,137.6 L361.3,137.5 L362.1,137.0 L362.9,136.9 L363.7,137.2 L364.5,135.9 L365.3,135.8 L366.1,135.7 L366.9,134.6 L367.7,134.3 L368.5,133.4 L369.3,132.8 L370.1,131.8 L370.9,131.4 L371.7,131.3 L372.5,131.0 L373.3,130.1 L374.1,129.2 L374.9,128.4 L375.7,127.9 L376.5,127.1 L377.3,126.9 L378.1,127.3 L378.9,127.3 L379.7,127.0 L380.5,126.2 L381.3,126.2 L382.1,127.3 L382.9,127.3 L383.7,127.7 L384.5,128.1 L385.3,127.9 L386.1,128.8 L386.9,128.9 L387.7,129.1 L388.5,129.4 L389.3,129.7 L390.1,129.4 L390.9,129.5 L391.7,129.9 L392.5,130.6 L393.3,130.7 L394.1,130.7 L394.9,131.1 L395.7,130.9 L396.5,131.4 L397.3,131.2 L398.1,131.0 L398.9,131.5 L399.7,131.8 L400.5,131.4 L401.3,131.1 L402.1,130.8 L402.9,130.8 L403.7,130.5 L404.5,129.5 L405.3,129.5 L406.1,128.8 L406.9,128.3 L407.7,126.9 L408.5,125.9 L409.3,125.3 L410.1,124.1 L410.9,123.5 L411.7,121.9 L412.5,120.6 L413.3,119.1 L414.1,117.2 L414.9,116.3 L415.7,115.0 L416.5,113.9 L417.3,113.0 L418.1,112.8 L418.9,111.8 L419.7,111.1 L420.5,109.5 L421.3,108.3 L422.1,107.1 L422.9,106.5 L423.7,105.9 L424.5,105.6 L425.3,105.4 L426.1,104.5 L426.9,103.4 L427.7,103.2 L428.5,102.6 L429.3,101.4 L430.1,101.1 L430.9,100.5 L431.7,100.2 L432.5,98.9 L433.3,99.1 L434.1,99.0 L434.9,99.3 L435.7,99.9 L436.5,101.0 L437.3,102.2 L438.1,102.7 L438.9,103.5 L439.7,103.4 L440.5,103.8 L441.3,104.0 L442.1,104.3 L442.9,104.8 L443.7,104.8 L444.5,104.4 L445.3,104.4 L446.1,104.8 L446.9,104.3 L447.7,104.4 L448.5,104.0 L449.3,104.0 L450.1,103.5 L450.9,103.6 L451.7,103.5 L452.5,102.2 L453.3,101.3 L454.1,99.8 L454.9,99.0 L455.7,96.7 L456.5,95.0 L457.3,92.4 L458.1,90.6 L458.9,87.7 L459.7,84.8 L460.5,82.0 L461.3,79.4 L462.1,76.3 L462.9,73.6 L463.7,71.1 L464.5,68.5 L465.3,66.1 L466.1,64.5 L466.9,62.4 L467.7,60.8 L468.5,60.1 L469.3,59.2 L470.1,58.8 L470.9,58.5 L471.7,59.1 L472.5,60.5 L473.3,62.1 L474.1,65.6 L474.9,70.3 L475.7,75.7 L476.5,81.7 L477.3,87.5 L478.1,93.2 L478.9,98.9 L479.7,104.5 L480.5,110.5 L481.3,115.5 L482.1,119.8 L482.9,123.7 L483.7,127.6 L484.5,130.6 L485.3,133.1 L486.1,135.0 L486.9,137.0 L487.7,138.2 L488.5,139.8 L489.3,141.3 L490.1,142.4 L490.9,144.2 L491.7,145.3 L492.5,145.7 L493.3,146.5 L494.1,147.2 L494.9,148.9 L495.7,149.7 L496.5,150.2 L497.3,150.6 L498.1,152.0 L498.9,152.0 L499.7,152.2 L500.5,152.2 L501.3,152.9 L502.1,153.6 L502.9,153.7 L503.7,153.6 L504.5,153.6 L505.3,153.8 L506.1,154.1 L506.9,153.8 L507.7,153.8 L508.5,154.2 L509.3,154.7 L510.1,154.5 L510.9,154.8 L511.7,155.4 L512.5,155.8 L513.3,156.9 L514.1,156.2 L514.9,156.7 L515.7,157.1 L516.5,156.8 L517.3,156.5 L518.1,156.6 L518.9,157.0 L519.7,157.1 L520.5,157.3 L521.3,157.9 L522.1,157.7 L522.9,157.9 L523.7,158.4 L524.5,158.3 L525.3,158.2 L526.1,158.2 L526.9,158.1 L527.7,158.4 L528.5,158.2 L529.3,158.2 L530.1,157.6 L530.9,158.1 L531.7,158.0 L532.5,158.5 L533.3,159.2 L534.1,158.9 L534.9,158.4 L535.7,158.4" fill="none" stroke="#e0563c" stroke-width="1.15" stroke-linejoin="round" />
<path d="M311.7,132.4 L312.5,132.2 L313.3,132.0 L314.1,132.6 L314.9,132.6 L315.7,132.2 L316.5,132.9 L317.3,132.5 L318.1,133.2 L318.9,132.9 L319.7,133.9 L320.5,133.9 L321.3,134.7 L322.1,135.1 L322.9,135.5 L323.7,135.7 L324.5,136.0 L325.3,135.5 L326.1,135.5 L326.9,135.7 L327.7,135.4 L328.5,136.2 L329.3,136.5 L330.1,136.4 L330.9,136.7 L331.7,137.1 L332.5,137.7 L333.3,137.7 L334.1,137.7 L334.9,137.6 L335.7,138.1 L336.5,137.9 L337.3,137.3 L338.1,137.0 L338.9,137.0 L339.7,137.4 L340.5,138.3 L341.3,138.0 L342.1,138.2 L342.9,137.7 L343.7,137.7 L344.5,137.4 L345.3,137.7 L346.1,137.7 L346.9,138.2 L347.7,138.9 L348.5,139.2 L349.3,139.1 L350.1,138.5 L350.9,138.6 L351.7,139.2 L352.5,138.8 L353.3,139.0 L354.1,139.2 L354.9,138.6 L355.7,139.3 L356.5,138.6 L357.3,138.9 L358.1,138.7 L358.9,138.9 L359.7,138.5 L360.5,138.9 L361.3,138.8 L362.1,138.7 L362.9,138.9 L363.7,138.7 L364.5,138.2 L365.3,138.3 L366.1,138.3 L366.9,137.7 L367.7,137.3 L368.5,135.9 L369.3,135.2 L370.1,135.1 L370.9,134.5 L371.7,133.4 L372.5,132.9 L373.3,131.9 L374.1,130.8 L374.9,129.9 L375.7,129.4 L376.5,128.4 L377.3,128.6 L378.1,128.1 L378.9,128.0 L379.7,127.8 L380.5,128.0 L381.3,128.4 L382.1,129.1 L382.9,128.8 L383.7,129.0 L384.5,129.0 L385.3,129.5 L386.1,129.4 L386.9,130.0 L387.7,130.5 L388.5,130.4 L389.3,130.3 L390.1,130.5 L390.9,131.7 L391.7,131.9 L392.5,132.5 L393.3,132.3 L394.1,131.7 L394.9,132.8 L395.7,132.6 L396.5,132.8 L397.3,133.3 L398.1,133.6 L398.9,133.9 L399.7,134.8 L400.5,134.9 L401.3,134.8 L402.1,134.4 L402.9,134.0 L403.7,132.9 L404.5,132.7 L405.3,132.5 L406.1,130.7 L406.9,129.6 L407.7,128.3 L408.5,127.1 L409.3,125.5 L410.1,124.4 L410.9,122.7 L411.7,121.9 L412.5,120.4 L413.3,118.6 L414.1,118.2 L414.9,117.1 L415.7,116.5 L416.5,115.9 L417.3,114.6 L418.1,112.9 L418.9,112.3 L419.7,111.9 L420.5,111.0 L421.3,110.2 L422.1,109.8 L422.9,109.1 L423.7,109.2 L424.5,108.8 L425.3,108.2 L426.1,107.7 L426.9,107.1 L427.7,107.6 L428.5,106.8 L429.3,106.0 L430.1,105.7 L430.9,105.3 L431.7,104.1 L432.5,103.1 L433.3,102.7 L434.1,102.8 L434.9,102.9 L435.7,103.3 L436.5,103.2 L437.3,103.3 L438.1,104.8 L438.9,104.5 L439.7,105.8 L440.5,106.7 L441.3,108.5 L442.1,109.3 L442.9,110.8 L443.7,110.9 L444.5,110.4 L445.3,111.0 L446.1,111.1 L446.9,110.7 L447.7,110.4 L448.5,110.8 L449.3,110.2 L450.1,109.3 L450.9,108.9 L451.7,107.7 L452.5,106.4 L453.3,104.9 L454.1,103.7 L454.9,102.3 L455.7,99.5 L456.5,98.0 L457.3,95.4 L458.1,92.7 L458.9,89.7 L459.7,86.6 L460.5,83.4 L461.3,79.7 L462.1,76.6 L462.9,72.3 L463.7,68.3 L464.5,64.0 L465.3,61.1 L466.1,58.6 L466.9,56.2 L467.7,54.2 L468.5,52.4 L469.3,52.0 L470.1,51.0 L470.9,50.5 L471.7,51.5 L472.5,54.2 L473.3,57.2 L474.1,60.4 L474.9,66.5 L475.7,72.0 L476.5,77.9 L477.3,83.9 L478.1,89.3 L478.9,95.6 L479.7,101.8 L480.5,108.0 L481.3,112.7 L482.1,117.0 L482.9,121.3 L483.7,125.1 L484.5,128.8 L485.3,132.2 L486.1,134.0 L486.9,136.2 L487.7,137.2 L488.5,139.6 L489.3,140.4 L490.1,142.2 L490.9,143.2 L491.7,144.2 L492.5,145.3 L493.3,146.6 L494.1,147.9 L494.9,148.9 L495.7,149.5 L496.5,150.7 L497.3,150.4 L498.1,151.7 L498.9,151.7 L499.7,151.8 L500.5,152.0 L501.3,152.3 L502.1,152.8 L502.9,153.3 L503.7,152.8 L504.5,153.0 L505.3,153.4 L506.1,154.3 L506.9,154.2 L507.7,154.4 L508.5,153.5 L509.3,153.6 L510.1,154.3 L510.9,154.4 L511.7,154.8 L512.5,154.7 L513.3,155.3 L514.1,155.7 L514.9,155.1 L515.7,155.4 L516.5,155.5 L517.3,155.7 L518.1,156.3 L518.9,155.6 L519.7,155.8 L520.5,155.7 L521.3,155.5 L522.1,156.4 L522.9,156.3 L523.7,156.1 L524.5,156.7 L525.3,156.3 L526.1,156.6 L526.9,156.2 L527.7,156.8 L528.5,156.9 L529.3,157.0 L530.1,157.1 L530.9,157.4 L531.7,157.6 L532.5,157.7 L533.3,157.9 L534.1,157.2 L534.9,157.3 L535.7,158.4" fill="none" stroke="#222222" stroke-width="1.2" stroke-linejoin="round" />
<rect x="311.2" y="14.2" width="225.3" height="180.60000000000002" fill="none" stroke="#5a5a5a" stroke-width="1.1"/>
<line x1="308.70" y1="24.40" x2="311.20" y2="24.40" stroke="#5a5a5a" stroke-width="0.9" />
<line x1="308.70" y1="39.40" x2="311.20" y2="39.40" stroke="#5a5a5a" stroke-width="0.9" />
<line x1="308.70" y1="54.40" x2="311.20" y2="54.40" stroke="#5a5a5a" stroke-width="0.9" />
<line x1="308.70" y1="69.40" x2="311.20" y2="69.40" stroke="#5a5a5a" stroke-width="0.9" />
<line x1="308.70" y1="84.40" x2="311.20" y2="84.40" stroke="#5a5a5a" stroke-width="0.9" />
<line x1="308.70" y1="99.40" x2="311.20" y2="99.40" stroke="#5a5a5a" stroke-width="0.9" />
<line x1="308.70" y1="114.40" x2="311.20" y2="114.40" stroke="#5a5a5a" stroke-width="0.9" />
<line x1="308.70" y1="129.40" x2="311.20" y2="129.40" stroke="#5a5a5a" stroke-width="0.9" />
<line x1="308.70" y1="144.40" x2="311.20" y2="144.40" stroke="#5a5a5a" stroke-width="0.9" />
<line x1="308.70" y1="159.40" x2="311.20" y2="159.40" stroke="#5a5a5a" stroke-width="0.9" />
<line x1="308.70" y1="174.40" x2="311.20" y2="174.40" stroke="#5a5a5a" stroke-width="0.9" />
<line x1="308.70" y1="189.40" x2="311.20" y2="189.40" stroke="#5a5a5a" stroke-width="0.9" />
<line x1="338.30" y1="194.80" x2="338.30" y2="197.80" stroke="#5a5a5a" stroke-width="0.9" />
<line x1="371.60" y1="194.80" x2="371.60" y2="197.80" stroke="#5a5a5a" stroke-width="0.9" />
<line x1="404.20" y1="194.80" x2="404.20" y2="197.80" stroke="#5a5a5a" stroke-width="0.9" />
<line x1="437.00" y1="194.80" x2="437.00" y2="197.80" stroke="#5a5a5a" stroke-width="0.9" />
<line x1="471.00" y1="194.80" x2="471.00" y2="197.80" stroke="#5a5a5a" stroke-width="0.9" />
<line x1="504.60" y1="194.80" x2="504.60" y2="197.80" stroke="#5a5a5a" stroke-width="0.9" />
<text x="319.2" y="33.5" font-family="Liberation Serif" font-size="16.5" fill="#1e1e1e" textLength="72.9" lengthAdjust="spacingAndGlyphs"><tspan font-weight="bold">(d)</tspan> reduced</text>
<text x="339.4" y="52.8" font-family="Liberation Serif" font-size="16.5" font-weight="normal" fill="#1e1e1e" textLength="65.3" lengthAdjust="spacingAndGlyphs"><tspan>SnO</tspan><tspan font-size="9.9" dy="4.6">2</tspan><tspan dy="-4.6">(101)</tspan></text>
<text x="484.2" y="28.9" font-family="Liberation Serif" font-size="15.5" font-weight="normal" text-anchor="start" fill="#1e1e1e" textLength="50.4" lengthAdjust="spacingAndGlyphs" >T=160 K</text>
<line x1="319.20" y1="79.40" x2="343.10" y2="79.40" stroke="#222222" stroke-width="1.3" />
<line x1="319.20" y1="93.00" x2="343.10" y2="93.00" stroke="#e0563c" stroke-width="1.3" />
<text x="347.6" y="83.1" font-family="Liberation Sans" font-size="11" font-weight="normal" text-anchor="start" fill="#1e1e1e" textLength="26.2" lengthAdjust="spacingAndGlyphs" >clean</text>
<text x="347.6" y="96.7" font-family="Liberation Sans" font-size="11" fill="#1e1e1e" textLength="41.5" lengthAdjust="spacing">2 L&#160;&#160;H<tspan font-size="7" dy="3">2</tspan><tspan dy="-3">O</tspan></text>
<text x="317.3" y="172.3" font-family="Liberation Serif" font-size="12" font-weight="normal" text-anchor="start" fill="#1e1e1e" textLength="87.7" lengthAdjust="spacingAndGlyphs" >difference spectrum</text>
<line x1="312.00" y1="377.60" x2="537.70" y2="377.60" stroke="#444" stroke-width="1.0" />
<path d="M312.5,378.6 L313.3,378.9 L314.1,378.8 L314.9,378.4 L315.7,378.4 L316.5,378.6 L317.3,378.3 L318.1,378.0 L318.9,377.1 L319.7,377.2 L320.5,377.9 L321.3,377.5 L322.1,378.0 L322.9,377.8 L323.7,377.8 L324.5,377.7 L325.3,377.2 L326.1,377.5 L326.9,377.6 L327.7,377.3 L328.5,377.5 L329.3,376.9 L330.1,377.4 L330.9,377.2 L331.7,378.2 L332.5,377.7 L333.3,377.1 L334.1,377.2 L334.9,378.0 L335.7,377.9 L336.5,378.5 L337.3,378.3 L338.1,378.7 L338.9,378.7 L339.7,379.0 L340.5,378.4 L341.3,378.5 L342.1,379.0 L342.9,379.1 L343.7,378.2 L344.5,378.5 L345.3,379.4 L346.1,378.7 L346.9,378.9 L347.7,379.1 L348.5,379.4 L349.3,378.3 L350.1,378.5 L350.9,378.5 L351.7,378.9 L352.5,378.3 L353.3,378.4 L354.1,378.6 L354.9,378.1 L355.7,378.0 L356.5,378.4 L357.3,378.1 L358.1,377.5 L358.9,377.3 L359.7,377.5 L360.5,376.8 L361.3,376.7 L362.1,376.0 L362.9,375.3 L363.7,374.9 L364.5,373.9 L365.3,374.0 L366.1,373.0 L366.9,372.9 L367.7,372.0 L368.5,371.0 L369.3,370.6 L370.1,369.9 L370.9,369.7 L371.7,369.5 L372.5,368.8 L373.3,368.2 L374.1,368.4 L374.9,367.4 L375.7,367.4 L376.5,367.2 L377.3,366.6 L378.1,366.2 L378.9,367.0 L379.7,367.0 L380.5,367.0 L381.3,367.7 L382.1,368.1 L382.9,368.6 L383.7,369.2 L384.5,368.1 L385.3,368.2 L386.1,367.5 L386.9,367.5 L387.7,366.9 L388.5,366.9 L389.3,366.8 L390.1,366.4 L390.9,366.7 L391.7,366.1 L392.5,365.9 L393.3,364.9 L394.1,365.3 L394.9,365.0 L395.7,364.8 L396.5,364.6 L397.3,364.8 L398.1,365.1 L398.9,364.5 L399.7,365.7 L400.5,366.2 L401.3,366.3 L402.1,366.3 L402.9,366.2 L403.7,367.2 L404.5,367.8 L405.3,368.2 L406.1,368.4 L406.9,368.4 L407.7,368.6 L408.5,369.1 L409.3,369.6 L410.1,369.6 L410.9,370.3 L411.7,370.9 L412.5,370.8 L413.3,370.9 L414.1,370.8 L414.9,371.1 L415.7,372.7 L416.5,371.7 L417.3,371.6 L418.1,371.4 L418.9,371.6 L419.7,371.9 L420.5,371.3 L421.3,371.4 L422.1,371.9 L422.9,371.2 L423.7,371.4 L424.5,371.3 L425.3,370.8 L426.1,370.8 L426.9,370.8 L427.7,370.2 L428.5,369.1 L429.3,368.6 L430.1,368.1 L430.9,368.0 L431.7,367.1 L432.5,366.5 L433.3,366.6 L434.1,366.3 L434.9,365.6 L435.7,365.3 L436.5,364.6 L437.3,364.2 L438.1,363.6 L438.9,363.3 L439.7,362.2 L440.5,362.4 L441.3,361.5 L442.1,361.2 L442.9,360.8 L443.7,360.1 L444.5,360.2 L445.3,359.3 L446.1,359.5 L446.9,358.9 L447.7,359.3 L448.5,358.7 L449.3,358.9 L450.1,359.2 L450.9,359.2 L451.7,358.4 L452.5,358.6 L453.3,359.0 L454.1,359.8 L454.9,360.1 L455.7,359.5 L456.5,359.4 L457.3,359.9 L458.1,360.1 L458.9,360.4 L459.7,361.9 L460.5,362.6 L461.3,364.3 L462.1,366.0 L462.9,369.0 L463.7,371.1 L464.5,374.6 L465.3,377.0 L466.1,378.1 L466.9,379.2 L467.7,381.0 L468.5,382.5 L469.3,384.0 L470.1,385.7 L470.9,388.1 L471.7,390.6 L472.5,393.4 L473.3,396.1 L474.1,399.8 L474.9,402.3 L475.7,403.8 L476.5,406.1 L477.3,407.3 L478.1,407.9 L478.9,409.2 L479.7,410.0 L480.5,408.9 L481.3,407.5 L482.1,404.0 L482.9,401.3 L483.7,399.1 L484.5,396.9 L485.3,394.4 L486.1,392.1 L486.9,389.9 L487.7,388.0 L488.5,385.8 L489.3,384.5 L490.1,382.8 L490.9,381.9 L491.7,381.2 L492.5,380.5 L493.3,379.5 L494.1,379.0 L494.9,378.6 L495.7,379.2 L496.5,378.6 L497.3,378.7 L498.1,379.1 L498.9,378.6 L499.7,378.8 L500.5,378.9 L501.3,377.8 L502.1,377.8 L502.9,377.7 L503.7,377.7 L504.5,377.4 L505.3,377.0 L506.1,377.1 L506.9,377.2 L507.7,377.5 L508.5,376.7 L509.3,376.4 L510.1,377.2 L510.9,377.7 L511.7,377.5 L512.5,377.1 L513.3,377.4 L514.1,377.4 L514.9,376.4 L515.7,376.8 L516.5,377.2 L517.3,376.9 L518.1,377.2 L518.9,377.5 L519.7,377.3 L520.5,377.9 L521.3,378.0 L522.1,378.0 L522.9,377.9 L523.7,378.2 L524.5,377.1 L525.3,377.8 L526.1,377.8 L526.9,377.3 L527.7,377.4 L528.5,377.4 L529.3,377.4 L530.1,377.5 L530.9,377.2 L531.7,376.9 L532.5,377.3 L533.3,377.3 L534.1,376.8 L534.9,377.4 L535.7,377.4 L536.5,378.3" fill="none" stroke="#e0563c" stroke-width="1.15" stroke-linejoin="round" />
<path d="M312.5,358.9 L313.3,358.9 L314.1,358.9 L314.9,358.7 L315.7,358.5 L316.5,359.2 L317.3,359.0 L318.1,359.0 L318.9,359.1 L319.7,359.9 L320.5,359.8 L321.3,359.8 L322.1,360.0 L322.9,359.9 L323.7,359.1 L324.5,359.6 L325.3,359.5 L326.1,359.5 L326.9,359.6 L327.7,359.6 L328.5,360.1 L329.3,360.2 L330.1,360.3 L330.9,359.9 L331.7,360.5 L332.5,360.5 L333.3,360.8 L334.1,360.6 L334.9,360.4 L335.7,360.5 L336.5,360.5 L337.3,360.4 L338.1,361.2 L338.9,361.2 L339.7,361.8 L340.5,361.8 L341.3,361.1 L342.1,361.2 L342.9,361.5 L343.7,361.1 L344.5,361.7 L345.3,361.6 L346.1,362.1 L346.9,363.2 L347.7,362.7 L348.5,363.3 L349.3,362.8 L350.1,363.4 L350.9,363.6 L351.7,364.1 L352.5,364.5 L353.3,364.4 L354.1,365.0 L354.9,365.0 L355.7,364.8 L356.5,364.3 L357.3,364.6 L358.1,364.5 L358.9,363.6 L359.7,363.1 L360.5,362.6 L361.3,361.7 L362.1,360.5 L362.9,359.4 L363.7,358.0 L364.5,356.9 L365.3,354.9 L366.1,353.3 L366.9,352.1 L367.7,351.2 L368.5,350.8 L369.3,349.1 L370.1,348.1 L370.9,346.9 L371.7,346.3 L372.5,345.8 L373.3,344.0 L374.1,343.0 L374.9,341.9 L375.7,341.3 L376.5,340.2 L377.3,339.8 L378.1,339.4 L378.9,338.7 L379.7,338.2 L380.5,338.0 L381.3,337.9 L382.1,338.3 L382.9,338.5 L383.7,337.8 L384.5,338.0 L385.3,339.2 L386.1,338.7 L386.9,339.5 L387.7,339.3 L388.5,338.6 L389.3,338.9 L390.1,338.3 L390.9,338.6 L391.7,338.9 L392.5,339.0 L393.3,338.4 L394.1,339.1 L394.9,339.8 L395.7,340.0 L396.5,341.0 L397.3,341.2 L398.1,342.6 L398.9,343.1 L399.7,342.6 L400.5,343.3 L401.3,344.0 L402.1,345.4 L402.9,346.3 L403.7,346.9 L404.5,347.5 L405.3,347.5 L406.1,348.6 L406.9,347.9 L407.7,348.4 L408.5,348.0 L409.3,347.0 L410.1,346.2 L410.9,345.3 L411.7,344.6 L412.5,343.6 L413.3,343.2 L414.1,342.3 L414.9,341.5 L415.7,340.5 L416.5,339.5 L417.3,338.1 L418.1,336.7 L418.9,334.8 L419.7,334.0 L420.5,332.7 L421.3,331.9 L422.1,329.9 L422.9,328.4 L423.7,326.9 L424.5,325.3 L425.3,324.4 L426.1,322.7 L426.9,320.7 L427.7,319.1 L428.5,317.6 L429.3,316.5 L430.1,315.1 L430.9,314.6 L431.7,313.7 L432.5,313.8 L433.3,314.1 L434.1,313.2 L434.9,312.5 L435.7,312.2 L436.5,311.5 L437.3,311.7 L438.1,311.7 L438.9,310.7 L439.7,310.6 L440.5,309.9 L441.3,310.2 L442.1,309.7 L442.9,309.4 L443.7,309.6 L444.5,309.5 L445.3,309.3 L446.1,308.9 L446.9,309.9 L447.7,309.6 L448.5,309.0 L449.3,309.0 L450.1,308.6 L450.9,308.2 L451.7,307.3 L452.5,306.4 L453.3,305.6 L454.1,304.5 L454.9,303.6 L455.7,301.5 L456.5,299.3 L457.3,295.3 L458.1,291.0 L458.9,286.9 L459.7,282.6 L460.5,278.4 L461.3,273.7 L462.1,268.5 L462.9,264.7 L463.7,260.9 L464.5,257.5 L465.3,253.8 L466.1,250.5 L466.9,247.6 L467.7,245.5 L468.5,243.6 L469.3,242.4 L470.1,242.9 L470.9,244.3 L471.7,246.5 L472.5,249.1 L473.3,252.9 L474.1,258.7 L474.9,264.8 L475.7,272.4 L476.5,280.1 L477.3,289.2 L478.1,300.5 L478.9,310.3 L479.7,320.2 L480.5,327.7 L481.3,333.0 L482.1,338.7 L482.9,343.8 L483.7,348.4 L484.5,352.0 L485.3,355.8 L486.1,358.7 L486.9,360.6 L487.7,363.6 L488.5,365.4 L489.3,367.1 L490.1,368.6 L490.9,369.8 L491.7,370.3 L492.5,371.0 L493.3,371.8 L494.1,372.3 L494.9,373.1 L495.7,373.8 L496.5,374.0 L497.3,374.3 L498.1,374.8 L498.9,374.7 L499.7,374.6 L500.5,374.7 L501.3,374.9 L502.1,375.1 L502.9,374.9 L503.7,375.3 L504.5,374.9 L505.3,375.0 L506.1,375.3 L506.9,374.3 L507.7,374.5 L508.5,375.0 L509.3,374.8 L510.1,375.2 L510.9,374.5 L511.7,374.7 L512.5,375.3 L513.3,375.6 L514.1,375.5 L514.9,375.0 L515.7,374.9 L516.5,375.7 L517.3,376.2 L518.1,375.1 L518.9,375.6 L519.7,375.7 L520.5,375.8 L521.3,375.5 L522.1,376.2 L522.9,376.3 L523.7,375.5 L524.5,376.1 L525.3,376.0 L526.1,375.9 L526.9,375.7 L527.7,375.9 L528.5,375.7 L529.3,376.0 L530.1,376.1 L530.9,376.2 L531.7,376.6 L532.5,376.8 L533.3,376.8 L534.1,376.4 L534.9,376.3 L535.7,376.1 L536.5,376.1" fill="none" stroke="#e0563c" stroke-width="1.15" stroke-linejoin="round" />
<path d="M312.5,356.9 L313.3,357.4 L314.1,357.5 L314.9,357.0 L315.7,357.6 L316.5,357.5 L317.3,358.3 L318.1,358.3 L318.9,358.1 L319.7,358.4 L320.5,358.6 L321.3,358.9 L322.1,359.0 L322.9,359.0 L323.7,359.1 L324.5,359.8 L325.3,359.6 L326.1,360.2 L326.9,360.3 L327.7,360.1 L328.5,360.4 L329.3,360.5 L330.1,361.1 L330.9,361.7 L331.7,361.5 L332.5,361.1 L333.3,361.6 L334.1,361.7 L334.9,362.5 L335.7,362.0 L336.5,361.4 L337.3,361.5 L338.1,361.9 L338.9,362.1 L339.7,362.0 L340.5,362.6 L341.3,362.6 L342.1,362.3 L342.9,362.5 L343.7,362.5 L344.5,362.8 L345.3,363.6 L346.1,363.2 L346.9,363.1 L347.7,363.0 L348.5,363.1 L349.3,364.6 L350.1,363.9 L350.9,364.4 L351.7,363.9 L352.5,364.5 L353.3,363.8 L354.1,363.7 L354.9,364.1 L355.7,364.0 L356.5,363.9 L357.3,363.7 L358.1,363.9 L358.9,364.4 L359.7,364.2 L360.5,364.3 L361.3,363.5 L362.1,363.8 L362.9,363.8 L363.7,363.5 L364.5,362.8 L365.3,362.0 L366.1,361.4 L366.9,361.4 L367.7,360.7 L368.5,359.3 L369.3,359.0 L370.1,358.5 L370.9,357.4 L371.7,357.0 L372.5,356.1 L373.3,355.2 L374.1,354.6 L374.9,353.2 L375.7,352.6 L376.5,351.7 L377.3,351.2 L378.1,349.9 L378.9,348.8 L379.7,349.0 L380.5,348.5 L381.3,347.8 L382.1,346.6 L382.9,347.0 L383.7,346.6 L384.5,346.1 L385.3,346.8 L386.1,346.6 L386.9,347.9 L387.7,348.4 L388.5,348.7 L389.3,348.8 L390.1,350.0 L390.9,350.7 L391.7,351.2 L392.5,351.8 L393.3,351.9 L394.1,352.0 L394.9,351.6 L395.7,352.7 L396.5,353.3 L397.3,352.9 L398.1,354.1 L398.9,354.3 L399.7,354.9 L400.5,355.3 L401.3,355.6 L402.1,357.2 L402.9,357.0 L403.7,357.3 L404.5,357.6 L405.3,357.6 L406.1,358.0 L406.9,358.0 L407.7,357.7 L408.5,357.2 L409.3,355.8 L410.1,355.6 L410.9,354.9 L411.7,354.4 L412.5,354.4 L413.3,353.5 L414.1,352.1 L414.9,351.2 L415.7,350.1 L416.5,348.9 L417.3,347.5 L418.1,346.2 L418.9,344.9 L419.7,343.7 L420.5,342.3 L421.3,340.3 L422.1,339.0 L422.9,337.2 L423.7,335.0 L424.5,332.9 L425.3,330.5 L426.1,328.8 L426.9,327.8 L427.7,326.6 L428.5,325.7 L429.3,324.9 L430.1,324.5 L430.9,325.4 L431.7,324.5 L432.5,324.8 L433.3,324.4 L434.1,324.1 L434.9,324.0 L435.7,324.0 L436.5,324.2 L437.3,324.6 L438.1,325.2 L438.9,325.2 L439.7,324.8 L440.5,324.4 L441.3,325.2 L442.1,326.1 L442.9,325.8 L443.7,325.3 L444.5,325.1 L445.3,324.8 L446.1,325.0 L446.9,324.2 L447.7,324.3 L448.5,324.3 L449.3,323.7 L450.1,323.5 L450.9,323.6 L451.7,322.4 L452.5,321.6 L453.3,320.7 L454.1,318.2 L454.9,315.8 L455.7,313.0 L456.5,310.6 L457.3,306.2 L458.1,302.5 L458.9,297.5 L459.7,292.3 L460.5,287.4 L461.3,281.9 L462.1,277.3 L462.9,272.5 L463.7,267.1 L464.5,262.0 L465.3,257.4 L466.1,253.3 L466.9,248.6 L467.7,244.5 L468.5,240.7 L469.3,238.6 L470.1,237.3 L470.9,236.9 L471.7,236.6 L472.5,237.7 L473.3,238.3 L474.1,241.5 L474.9,245.2 L475.7,250.0 L476.5,256.9 L477.3,263.7 L478.1,271.2 L478.9,277.3 L479.7,284.3 L480.5,291.6 L481.3,299.5 L482.1,306.3 L482.9,313.3 L483.7,319.5 L484.5,325.5 L485.3,331.9 L486.1,337.8 L486.9,342.9 L487.7,347.9 L488.5,351.6 L489.3,354.4 L490.1,357.6 L490.9,359.9 L491.7,362.0 L492.5,363.6 L493.3,365.1 L494.1,366.1 L494.9,367.5 L495.7,368.8 L496.5,369.7 L497.3,370.7 L498.1,371.6 L498.9,372.3 L499.7,372.0 L500.5,372.6 L501.3,372.1 L502.1,372.3 L502.9,373.0 L503.7,373.5 L504.5,373.4 L505.3,373.3 L506.1,373.6 L506.9,373.7 L507.7,374.4 L508.5,374.8 L509.3,374.7 L510.1,375.1 L510.9,374.9 L511.7,375.2 L512.5,374.8 L513.3,374.7 L514.1,375.1 L514.9,374.6 L515.7,375.2 L516.5,374.8 L517.3,375.3 L518.1,374.8 L518.9,375.3 L519.7,375.3 L520.5,375.2 L521.3,375.5 L522.1,375.5 L522.9,374.8 L523.7,375.4 L524.5,375.4 L525.3,375.5 L526.1,376.1 L526.9,375.4 L527.7,376.2 L528.5,376.7 L529.3,376.5 L530.1,376.0 L530.9,375.4 L531.7,375.5 L532.5,375.4 L533.3,375.6 L534.1,375.3 L534.9,375.6 L535.7,375.3 L536.5,375.8" fill="none" stroke="#222222" stroke-width="1.2" stroke-linejoin="round" />
<line x1="400.60" y1="330.40" x2="400.60" y2="377.60" stroke="#222" stroke-width="1.2" />
<line x1="447.60" y1="357.20" x2="447.60" y2="382.30" stroke="#222" stroke-width="1.0" />
<rect x="312.0" y="232.1" width="225.70000000000005" height="180.50000000000003" fill="none" stroke="#5a5a5a" stroke-width="1.1"/>
<line x1="309.50" y1="242.00" x2="312.00" y2="242.00" stroke="#5a5a5a" stroke-width="0.9" />
<line x1="309.50" y1="257.00" x2="312.00" y2="257.00" stroke="#5a5a5a" stroke-width="0.9" />
<line x1="309.50" y1="272.00" x2="312.00" y2="272.00" stroke="#5a5a5a" stroke-width="0.9" />
<line x1="309.50" y1="287.00" x2="312.00" y2="287.00" stroke="#5a5a5a" stroke-width="0.9" />
<line x1="309.50" y1="302.00" x2="312.00" y2="302.00" stroke="#5a5a5a" stroke-width="0.9" />
<line x1="309.50" y1="317.00" x2="312.00" y2="317.00" stroke="#5a5a5a" stroke-width="0.9" />
<line x1="309.50" y1="332.00" x2="312.00" y2="332.00" stroke="#5a5a5a" stroke-width="0.9" />
<line x1="309.50" y1="347.00" x2="312.00" y2="347.00" stroke="#5a5a5a" stroke-width="0.9" />
<line x1="309.50" y1="362.00" x2="312.00" y2="362.00" stroke="#5a5a5a" stroke-width="0.9" />
<line x1="309.50" y1="377.00" x2="312.00" y2="377.00" stroke="#5a5a5a" stroke-width="0.9" />
<line x1="309.50" y1="392.00" x2="312.00" y2="392.00" stroke="#5a5a5a" stroke-width="0.9" />
<line x1="309.50" y1="407.00" x2="312.00" y2="407.00" stroke="#5a5a5a" stroke-width="0.9" />
<line x1="338.70" y1="412.60" x2="338.70" y2="415.60" stroke="#5a5a5a" stroke-width="0.9" />
<line x1="405.50" y1="412.60" x2="405.50" y2="415.60" stroke="#5a5a5a" stroke-width="0.9" />
<line x1="471.20" y1="412.60" x2="471.20" y2="415.60" stroke="#5a5a5a" stroke-width="0.9" />
<line x1="537.70" y1="412.60" x2="537.70" y2="415.60" stroke="#5a5a5a" stroke-width="0.9" />
<line x1="371.50" y1="412.60" x2="371.50" y2="410.60" stroke="#5a5a5a" stroke-width="0.9" />
<line x1="437.80" y1="412.60" x2="437.80" y2="410.60" stroke="#5a5a5a" stroke-width="0.9" />
<line x1="504.50" y1="412.60" x2="504.50" y2="410.60" stroke="#5a5a5a" stroke-width="0.9" />
<text x="316.8" y="252.3" font-family="Liberation Serif" font-size="16.5" fill="#1e1e1e" textLength="110.2" lengthAdjust="spacingAndGlyphs"><tspan font-weight="bold">(e)</tspan> stoichiometric</text>
<text x="340.6" y="270.3" font-family="Liberation Serif" font-size="16.5" font-weight="normal" fill="#1e1e1e" textLength="66.1" lengthAdjust="spacingAndGlyphs"><tspan>SnO</tspan><tspan font-size="9.9" dy="4.6">2</tspan><tspan dy="-4.6">(101)</tspan></text>
<text x="480.0" y="246.4" font-family="Liberation Serif" font-size="15.5" font-weight="normal" text-anchor="start" fill="#1e1e1e" textLength="55.7" lengthAdjust="spacingAndGlyphs" >T= 160 K</text>
<line x1="312.50" y1="286.50" x2="337.40" y2="286.50" stroke="#222222" stroke-width="1.3" />
<line x1="312.50" y1="299.70" x2="337.40" y2="299.70" stroke="#e0563c" stroke-width="1.3" />
<text x="341.5" y="290.2" font-family="Liberation Sans" font-size="11" font-weight="normal" text-anchor="start" fill="#1e1e1e" textLength="26.2" lengthAdjust="spacingAndGlyphs" >clean</text>
<text x="341.5" y="303.4" font-family="Liberation Sans" font-size="11" fill="#1e1e1e" textLength="41.4" lengthAdjust="spacing">2 L&#160;&#160;H<tspan font-size="7" dy="3">2</tspan><tspan dy="-3">O</tspan></text>
<text x="381.4" y="323.8" font-family="Liberation Serif" font-size="14" font-weight="normal" text-anchor="start" fill="#1e1e1e" textLength="42.9" lengthAdjust="spacingAndGlyphs" >OH -3σ</text>
<text x="426.0" y="398.6" font-family="Liberation Serif" font-size="14" font-weight="normal" text-anchor="start" fill="#1e1e1e" textLength="40.7" lengthAdjust="spacingAndGlyphs" >OH-1π</text>
<text x="313.2" y="392.7" font-family="Liberation Serif" font-size="12" font-weight="normal" text-anchor="start" fill="#1e1e1e" textLength="88.2" lengthAdjust="spacingAndGlyphs" >difference spectrum</text>
<text x="338.7" y="427.6" font-family="Liberation Sans" font-size="11" font-weight="normal" text-anchor="middle" fill="#1e1e1e" textLength="11.2" lengthAdjust="spacingAndGlyphs" >15</text>
<text x="405.5" y="427.6" font-family="Liberation Sans" font-size="11" font-weight="normal" text-anchor="middle" fill="#1e1e1e" textLength="11.2" lengthAdjust="spacingAndGlyphs" >10</text>
<text x="471.2" y="427.6" font-family="Liberation Sans" font-size="11" font-weight="normal" text-anchor="middle" fill="#1e1e1e" textLength="5.8" lengthAdjust="spacingAndGlyphs" >5</text>
<text x="537.2" y="427.6" font-family="Liberation Sans" font-size="11" font-weight="normal" text-anchor="middle" fill="#1e1e1e" textLength="5.8" lengthAdjust="spacingAndGlyphs" >0</text>
<text x="375.8" y="439.7" font-family="Liberation Sans" font-size="11" font-weight="normal" text-anchor="start" fill="#1e1e1e" textLength="98.2" lengthAdjust="spacingAndGlyphs" >Binding Energy [eV]</text>
<text x="562.4" y="25.5" font-family="Liberation Serif" font-size="18" font-weight="bold" text-anchor="start" fill="#1e1e1e" >(f)</text>
<line x1="612.3" y1="33.5" x2="605.8" y2="34.2" stroke="#c990c6" stroke-width="2.2" stroke-linecap="round"/>
<line x1="605.8" y1="34.2" x2="599.3" y2="35.0" stroke="#eeeeea" stroke-width="2.2" stroke-linecap="round"/>
<line x1="612.3" y1="33.5" x2="611.8" y2="39.0" stroke="#c990c6" stroke-width="2.2" stroke-linecap="round"/>
<line x1="611.8" y1="39.0" x2="611.2" y2="44.6" stroke="#eeeeea" stroke-width="2.2" stroke-linecap="round"/>
<circle cx="612.3" cy="33.5" r="7.8" fill="url(#gP)"/>
<circle cx="599.3" cy="35.0" r="3.6" fill="url(#gH)"/>
<circle cx="611.2" cy="44.6" r="3.6" fill="url(#gH)"/>
<line x1="648.0" y1="39.4" x2="641.2" y2="38.2" stroke="#c990c6" stroke-width="2.2" stroke-linecap="round"/>
<line x1="641.2" y1="38.2" x2="634.5" y2="37.0" stroke="#eeeeea" stroke-width="2.2" stroke-linecap="round"/>
<line x1="648.0" y1="39.4" x2="647.8" y2="35.2" stroke="#c990c6" stroke-width="2.2" stroke-linecap="round"/>
<line x1="647.8" y1="35.2" x2="647.6" y2="31.0" stroke="#eeeeea" stroke-width="2.2" stroke-linecap="round"/>
<circle cx="648.0" cy="39.4" r="7.8" fill="url(#gP)"/>
<circle cx="634.5" cy="37.0" r="3.6" fill="url(#gH)"/>
<circle cx="647.6" cy="31.0" r="3.6" fill="url(#gH)"/>
<line x1="683.9" y1="33.5" x2="677.3" y2="34.4" stroke="#c990c6" stroke-width="2.2" stroke-linecap="round"/>
<line x1="677.3" y1="34.4" x2="670.8" y2="35.3" stroke="#eeeeea" stroke-width="2.2" stroke-linecap="round"/>
<line x1="683.9" y1="33.5" x2="683.0" y2="39.5" stroke="#c990c6" stroke-width="2.2" stroke-linecap="round"/>
<line x1="683.0" y1="39.5" x2="682.2" y2="45.4" stroke="#eeeeea" stroke-width="2.2" stroke-linecap="round"/>
<circle cx="683.9" cy="33.5" r="7.8" fill="url(#gP)"/>
<circle cx="670.8" cy="35.3" r="3.6" fill="url(#gH)"/>
<circle cx="682.2" cy="45.4" r="3.6" fill="url(#gH)"/>
<line x1="719.0" y1="38.9" x2="712.5" y2="38.2" stroke="#c990c6" stroke-width="2.2" stroke-linecap="round"/>
<line x1="712.5" y1="38.2" x2="706.1" y2="37.5" stroke="#eeeeea" stroke-width="2.2" stroke-linecap="round"/>
<line x1="719.0" y1="38.9" x2="719.1" y2="35.2" stroke="#c990c6" stroke-width="2.2" stroke-linecap="round"/>
<line x1="719.1" y1="35.2" x2="719.2" y2="31.5" stroke="#eeeeea" stroke-width="2.2" stroke-linecap="round"/>
<circle cx="719.0" cy="38.9" r="7.8" fill="url(#gP)"/>
<circle cx="706.1" cy="37.5" r="3.6" fill="url(#gH)"/>
<circle cx="719.2" cy="31.5" r="3.6" fill="url(#gH)"/>
<line x1="620.0" y1="80.6" x2="626.2" y2="86.2" stroke="#1b232c" stroke-width="3.7" stroke-linecap="round"/>
<line x1="626.2" y1="86.2" x2="632.4" y2="91.8" stroke="#e5431a" stroke-width="3.7" stroke-linecap="round"/>
<line x1="620.0" y1="80.6" x2="612.8" y2="94.0" stroke="#1b232c" stroke-width="3.7" stroke-linecap="round"/>
<line x1="612.8" y1="94.0" x2="605.6" y2="107.4" stroke="#e5431a" stroke-width="3.7" stroke-linecap="round"/>
<line x1="655.8" y1="80.6" x2="650.2" y2="86.8" stroke="#1b232c" stroke-width="3.7" stroke-linecap="round"/>
<line x1="650.2" y1="86.8" x2="644.7" y2="92.9" stroke="#e5431a" stroke-width="3.7" stroke-linecap="round"/>
<line x1="655.8" y1="80.6" x2="662.5" y2="94.5" stroke="#1b232c" stroke-width="3.7" stroke-linecap="round"/>
<line x1="662.5" y1="94.5" x2="669.2" y2="108.5" stroke="#e5431a" stroke-width="3.7" stroke-linecap="round"/>
<line x1="620.0" y1="119.7" x2="612.8" y2="113.6" stroke="#1b232c" stroke-width="3.7" stroke-linecap="round"/>
<line x1="612.8" y1="113.6" x2="605.6" y2="107.4" stroke="#e5431a" stroke-width="3.7" stroke-linecap="round"/>
<line x1="620.0" y1="119.7" x2="626.2" y2="105.8" stroke="#1b232c" stroke-width="3.7" stroke-linecap="round"/>
<line x1="626.2" y1="105.8" x2="632.4" y2="91.8" stroke="#e5431a" stroke-width="3.7" stroke-linecap="round"/>
<line x1="620.0" y1="119.7" x2="627.3" y2="125.2" stroke="#1b232c" stroke-width="3.7" stroke-linecap="round"/>
<line x1="627.3" y1="125.2" x2="634.6" y2="130.8" stroke="#e5431a" stroke-width="3.7" stroke-linecap="round"/>
<line x1="655.8" y1="119.7" x2="649.1" y2="125.2" stroke="#1b232c" stroke-width="3.7" stroke-linecap="round"/>
<line x1="649.1" y1="125.2" x2="642.4" y2="130.8" stroke="#e5431a" stroke-width="3.7" stroke-linecap="round"/>
<line x1="655.8" y1="119.7" x2="650.2" y2="106.3" stroke="#1b232c" stroke-width="3.7" stroke-linecap="round"/>
<line x1="650.2" y1="106.3" x2="644.7" y2="92.9" stroke="#e5431a" stroke-width="3.7" stroke-linecap="round"/>
<line x1="655.8" y1="119.7" x2="662.5" y2="114.1" stroke="#1b232c" stroke-width="3.7" stroke-linecap="round"/>
<line x1="662.5" y1="114.1" x2="669.2" y2="108.5" stroke="#e5431a" stroke-width="3.7" stroke-linecap="round"/>
<line x1="691.5" y1="80.6" x2="684.8" y2="94.5" stroke="#1b232c" stroke-width="3.7" stroke-linecap="round"/>
<line x1="684.8" y1="94.5" x2="678.1" y2="108.5" stroke="#e5431a" stroke-width="3.7" stroke-linecap="round"/>
<line x1="691.5" y1="80.6" x2="697.1" y2="86.3" stroke="#1b232c" stroke-width="3.7" stroke-linecap="round"/>
<line x1="697.1" y1="86.3" x2="702.7" y2="92.0" stroke="#e5431a" stroke-width="3.7" stroke-linecap="round"/>
<line x1="727.2" y1="80.6" x2="721.1" y2="86.8" stroke="#1b232c" stroke-width="3.7" stroke-linecap="round"/>
<line x1="721.1" y1="86.8" x2="715.0" y2="93.0" stroke="#e5431a" stroke-width="3.7" stroke-linecap="round"/>
<line x1="727.2" y1="80.6" x2="734.5" y2="94.5" stroke="#1b232c" stroke-width="3.7" stroke-linecap="round"/>
<line x1="734.5" y1="94.5" x2="741.7" y2="108.5" stroke="#e5431a" stroke-width="3.7" stroke-linecap="round"/>
<line x1="691.5" y1="119.7" x2="684.8" y2="114.1" stroke="#1b232c" stroke-width="3.7" stroke-linecap="round"/>
<line x1="684.8" y1="114.1" x2="678.1" y2="108.5" stroke="#e5431a" stroke-width="3.7" stroke-linecap="round"/>
<line x1="691.5" y1="119.7" x2="697.1" y2="105.8" stroke="#1b232c" stroke-width="3.7" stroke-linecap="round"/>
<line x1="697.1" y1="105.8" x2="702.7" y2="92.0" stroke="#e5431a" stroke-width="3.7" stroke-linecap="round"/>
<line x1="691.5" y1="119.7" x2="698.2" y2="125.2" stroke="#1b232c" stroke-width="3.7" stroke-linecap="round"/>
<line x1="698.2" y1="125.2" x2="704.9" y2="130.8" stroke="#e5431a" stroke-width="3.7" stroke-linecap="round"/>
<line x1="727.2" y1="119.7" x2="720.0" y2="125.2" stroke="#1b232c" stroke-width="3.7" stroke-linecap="round"/>
<line x1="720.0" y1="125.2" x2="712.7" y2="130.8" stroke="#e5431a" stroke-width="3.7" stroke-linecap="round"/>
<line x1="727.2" y1="119.7" x2="721.1" y2="106.3" stroke="#1b232c" stroke-width="3.7" stroke-linecap="round"/>
<line x1="721.1" y1="106.3" x2="715.0" y2="93.0" stroke="#e5431a" stroke-width="3.7" stroke-linecap="round"/>
<line x1="727.2" y1="119.7" x2="734.5" y2="114.1" stroke="#1b232c" stroke-width="3.7" stroke-linecap="round"/>
<line x1="734.5" y1="114.1" x2="741.7" y2="108.5" stroke="#e5431a" stroke-width="3.7" stroke-linecap="round"/>
<circle cx="620.0" cy="80.6" r="4.6" fill="url(#gD)"/>
<circle cx="655.8" cy="80.6" r="4.6" fill="url(#gD)"/>
<circle cx="691.5" cy="80.6" r="4.6" fill="url(#gD)"/>
<circle cx="727.2" cy="80.6" r="4.6" fill="url(#gD)"/>
<circle cx="605.6" cy="107.4" r="7.0" fill="url(#gR)"/>
<circle cx="741.7" cy="108.5" r="7.0" fill="url(#gR)"/>
<circle cx="669.2" cy="108.5" r="7.0" fill="url(#gR)"/>
<circle cx="678.1" cy="108.5" r="7.0" fill="url(#gR)"/>
<circle cx="632.4" cy="91.8" r="7.0" fill="url(#gR)"/>
<circle cx="644.7" cy="92.9" r="7.0" fill="url(#gR)"/>
<circle cx="702.7" cy="92.0" r="7.0" fill="url(#gR)"/>
<circle cx="715.0" cy="93.0" r="7.0" fill="url(#gR)"/>
<circle cx="620.0" cy="119.7" r="5.0" fill="url(#gD)"/>
<circle cx="655.8" cy="119.7" r="5.0" fill="url(#gD)"/>
<circle cx="691.5" cy="119.7" r="5.0" fill="url(#gD)"/>
<circle cx="727.2" cy="119.7" r="5.0" fill="url(#gD)"/>
<circle cx="634.6" cy="130.8" r="7.0" fill="url(#gR)"/>
<circle cx="642.4" cy="130.8" r="7.0" fill="url(#gR)"/>
<circle cx="704.9" cy="130.8" r="7.0" fill="url(#gR)"/>
<circle cx="712.7" cy="130.8" r="7.0" fill="url(#gR)"/>
<text x="599.0" y="164.9" font-family="Liberation Serif" font-size="19.3" font-weight="normal" text-anchor="start" fill="#222" textLength="153.1" lengthAdjust="spacingAndGlyphs" >-0.366 eV/molecule</text>
<text x="563.3" y="234.0" font-family="Liberation Serif" font-size="18" font-weight="bold" text-anchor="start" fill="#1e1e1e" >(g)</text>
<line x1="649.8" y1="234.8" x2="655.5" y2="232.4" stroke="#d8b4d6" stroke-width="2.4" stroke-linecap="round"/>
<line x1="655.5" y1="232.4" x2="661.2" y2="230.1" stroke="#efefe8" stroke-width="2.4" stroke-linecap="round"/>
<line x1="649.8" y1="234.8" x2="653.1" y2="240.5" stroke="#d8b4d6" stroke-width="2.4" stroke-linecap="round"/>
<line x1="653.1" y1="240.5" x2="656.5" y2="246.2" stroke="#efefe8" stroke-width="2.4" stroke-linecap="round"/>
<line x1="719.1" y1="234.8" x2="724.8" y2="232.4" stroke="#d8b4d6" stroke-width="2.4" stroke-linecap="round"/>
<line x1="724.8" y1="232.4" x2="730.5" y2="230.1" stroke="#efefe8" stroke-width="2.4" stroke-linecap="round"/>
<line x1="719.1" y1="234.8" x2="722.5" y2="240.5" stroke="#d8b4d6" stroke-width="2.4" stroke-linecap="round"/>
<line x1="722.5" y1="240.5" x2="725.8" y2="246.2" stroke="#efefe8" stroke-width="2.4" stroke-linecap="round"/>
<circle cx="661.2" cy="230.1" r="3.8" fill="url(#gH)"/>
<circle cx="656.5" cy="246.2" r="3.8" fill="url(#gH)"/>
<circle cx="730.5" cy="230.1" r="3.8" fill="url(#gH)"/>
<circle cx="725.8" cy="246.2" r="3.8" fill="url(#gH)"/>
<line x1="604.8" y1="251.8" x2="613.8" y2="258.2" stroke="#e5431a" stroke-width="3.7" stroke-linecap="round"/>
<line x1="613.8" y1="258.2" x2="622.8" y2="264.6" stroke="#1b232c" stroke-width="3.7" stroke-linecap="round"/>
<line x1="622.8" y1="264.6" x2="629.9" y2="270.8" stroke="#1b232c" stroke-width="3.7" stroke-linecap="round"/>
<line x1="629.9" y1="270.8" x2="637.0" y2="277.0" stroke="#e5431a" stroke-width="3.7" stroke-linecap="round"/>
<line x1="622.8" y1="264.6" x2="616.4" y2="278.3" stroke="#1b232c" stroke-width="3.7" stroke-linecap="round"/>
<line x1="616.4" y1="278.3" x2="610.0" y2="292.0" stroke="#e5431a" stroke-width="3.7" stroke-linecap="round"/>
<line x1="659.0" y1="266.6" x2="652.0" y2="271.3" stroke="#1b232c" stroke-width="3.7" stroke-linecap="round"/>
<line x1="652.0" y1="271.3" x2="645.0" y2="276.0" stroke="#e5431a" stroke-width="3.7" stroke-linecap="round"/>
<line x1="659.0" y1="266.6" x2="666.9" y2="259.6" stroke="#1b232c" stroke-width="3.7" stroke-linecap="round"/>
<line x1="666.9" y1="259.6" x2="674.7" y2="252.5" stroke="#e5431a" stroke-width="3.7" stroke-linecap="round"/>
<line x1="659.0" y1="266.6" x2="665.2" y2="279.3" stroke="#1b232c" stroke-width="3.7" stroke-linecap="round"/>
<line x1="665.2" y1="279.3" x2="671.5" y2="292.0" stroke="#e5431a" stroke-width="3.7" stroke-linecap="round"/>
<line x1="674.7" y1="252.5" x2="683.1" y2="258.6" stroke="#e5431a" stroke-width="3.7" stroke-linecap="round"/>
<line x1="683.1" y1="258.6" x2="691.5" y2="264.6" stroke="#1b232c" stroke-width="3.7" stroke-linecap="round"/>
<line x1="691.5" y1="264.6" x2="699.0" y2="270.8" stroke="#1b232c" stroke-width="3.7" stroke-linecap="round"/>
<line x1="699.0" y1="270.8" x2="706.5" y2="277.0" stroke="#e5431a" stroke-width="3.7" stroke-linecap="round"/>
<line x1="691.5" y1="264.6" x2="685.8" y2="278.3" stroke="#1b232c" stroke-width="3.7" stroke-linecap="round"/>
<line x1="685.8" y1="278.3" x2="680.0" y2="292.0" stroke="#e5431a" stroke-width="3.7" stroke-linecap="round"/>
<line x1="729.8" y1="265.6" x2="722.1" y2="270.8" stroke="#1b232c" stroke-width="3.7" stroke-linecap="round"/>
<line x1="722.1" y1="270.8" x2="714.5" y2="276.0" stroke="#e5431a" stroke-width="3.7" stroke-linecap="round"/>
<line x1="610.0" y1="292.0" x2="617.2" y2="298.0" stroke="#e5431a" stroke-width="3.7" stroke-linecap="round"/>
<line x1="617.2" y1="298.0" x2="624.5" y2="304.0" stroke="#1b232c" stroke-width="3.7" stroke-linecap="round"/>
<line x1="637.0" y1="277.0" x2="630.8" y2="290.5" stroke="#e5431a" stroke-width="3.7" stroke-linecap="round"/>
<line x1="630.8" y1="290.5" x2="624.5" y2="304.0" stroke="#1b232c" stroke-width="3.7" stroke-linecap="round"/>
<line x1="624.5" y1="304.0" x2="631.0" y2="310.0" stroke="#1b232c" stroke-width="3.7" stroke-linecap="round"/>
<line x1="631.0" y1="310.0" x2="637.5" y2="316.0" stroke="#e5431a" stroke-width="3.7" stroke-linecap="round"/>
<line x1="658.0" y1="303.0" x2="651.9" y2="309.5" stroke="#1b232c" stroke-width="3.7" stroke-linecap="round"/>
<line x1="651.9" y1="309.5" x2="645.8" y2="316.0" stroke="#e5431a" stroke-width="3.7" stroke-linecap="round"/>
<line x1="645.0" y1="276.0" x2="651.5" y2="289.5" stroke="#e5431a" stroke-width="3.7" stroke-linecap="round"/>
<line x1="651.5" y1="289.5" x2="658.0" y2="303.0" stroke="#1b232c" stroke-width="3.7" stroke-linecap="round"/>
<line x1="658.0" y1="303.0" x2="664.8" y2="297.5" stroke="#1b232c" stroke-width="3.7" stroke-linecap="round"/>
<line x1="664.8" y1="297.5" x2="671.5" y2="292.0" stroke="#e5431a" stroke-width="3.7" stroke-linecap="round"/>
<line x1="680.0" y1="292.0" x2="686.2" y2="298.0" stroke="#e5431a" stroke-width="3.7" stroke-linecap="round"/>
<line x1="686.2" y1="298.0" x2="692.4" y2="304.0" stroke="#1b232c" stroke-width="3.7" stroke-linecap="round"/>
<line x1="706.5" y1="277.0" x2="699.5" y2="290.5" stroke="#e5431a" stroke-width="3.7" stroke-linecap="round"/>
<line x1="699.5" y1="290.5" x2="692.4" y2="304.0" stroke="#1b232c" stroke-width="3.7" stroke-linecap="round"/>
<line x1="692.4" y1="304.0" x2="699.5" y2="310.0" stroke="#1b232c" stroke-width="3.7" stroke-linecap="round"/>
<line x1="699.5" y1="310.0" x2="706.5" y2="316.0" stroke="#e5431a" stroke-width="3.7" stroke-linecap="round"/>
<line x1="727.9" y1="303.0" x2="721.3" y2="309.5" stroke="#1b232c" stroke-width="3.7" stroke-linecap="round"/>
<line x1="721.3" y1="309.5" x2="714.8" y2="316.0" stroke="#e5431a" stroke-width="3.7" stroke-linecap="round"/>
<line x1="714.5" y1="276.0" x2="721.2" y2="289.5" stroke="#e5431a" stroke-width="3.7" stroke-linecap="round"/>
<line x1="721.2" y1="289.5" x2="727.9" y2="303.0" stroke="#1b232c" stroke-width="3.7" stroke-linecap="round"/>
<line x1="642.4" y1="242.1" x2="632.6" y2="253.4" stroke="#c990c6" stroke-width="3.7" stroke-linecap="round"/>
<line x1="632.6" y1="253.4" x2="622.8" y2="264.6" stroke="#1b232c" stroke-width="3.7" stroke-linecap="round"/>
<line x1="711.7" y1="242.1" x2="701.6" y2="253.4" stroke="#c990c6" stroke-width="3.7" stroke-linecap="round"/>
<line x1="701.6" y1="253.4" x2="691.5" y2="264.6" stroke="#1b232c" stroke-width="3.7" stroke-linecap="round"/>
<circle cx="649.8" cy="234.8" r="6.9" fill="url(#gP)"/>
<circle cx="642.4" cy="242.1" r="6.9" fill="url(#gP)"/>
<circle cx="719.1" cy="234.8" r="6.9" fill="url(#gP)"/>
<circle cx="711.7" cy="242.1" r="6.9" fill="url(#gP)"/>
<circle cx="604.8" cy="251.8" r="7.5" fill="url(#gR)"/>
<circle cx="674.7" cy="252.5" r="7.5" fill="url(#gR)"/>
<circle cx="622.8" cy="264.6" r="5.0" fill="url(#gD)"/>
<circle cx="659.0" cy="266.6" r="5.0" fill="url(#gD)"/>
<circle cx="691.5" cy="264.6" r="5.0" fill="url(#gD)"/>
<circle cx="729.8" cy="265.6" r="5.0" fill="url(#gD)"/>
<circle cx="602.5" cy="292.0" r="7.3" fill="url(#gR)"/>
<circle cx="610.0" cy="292.0" r="7.3" fill="url(#gR)"/>
<circle cx="671.5" cy="292.0" r="7.5" fill="url(#gR)"/>
<circle cx="680.0" cy="292.0" r="7.5" fill="url(#gR)"/>
<circle cx="637.0" cy="277.0" r="7.6" fill="url(#gR)"/>
<circle cx="645.0" cy="276.0" r="7.6" fill="url(#gR)"/>
<circle cx="706.5" cy="277.0" r="7.6" fill="url(#gR)"/>
<circle cx="714.5" cy="276.0" r="7.6" fill="url(#gR)"/>
<circle cx="624.5" cy="304.0" r="5.4" fill="url(#gD)"/>
<circle cx="658.0" cy="303.0" r="5.4" fill="url(#gD)"/>
<circle cx="692.4" cy="304.0" r="5.4" fill="url(#gD)"/>
<circle cx="727.9" cy="303.0" r="5.4" fill="url(#gD)"/>
<circle cx="637.5" cy="316.0" r="7.3" fill="url(#gR)"/>
<circle cx="645.8" cy="316.0" r="7.3" fill="url(#gR)"/>
<circle cx="706.5" cy="316.0" r="7.3" fill="url(#gR)"/>
<circle cx="714.8" cy="316.0" r="7.3" fill="url(#gR)"/>
<circle cx="643.1" cy="233.7" r="3.6" fill="url(#gH)"/>
<circle cx="712.4" cy="233.7" r="3.6" fill="url(#gH)"/>
<text x="597.9" y="343.3" font-family="Liberation Serif" font-size="19.3" font-weight="normal" text-anchor="start" fill="#222" textLength="153.5" lengthAdjust="spacingAndGlyphs" >-0.989 eV/molecule</text>
<text x="561.8" y="375.3" font-family="Liberation Serif" font-size="18" font-weight="bold" text-anchor="start" fill="#1e1e1e" >(h)</text>
<line x1="607.0" y1="391.0" x2="602.2" y2="388.6" stroke="#e5431a" stroke-width="2.2" stroke-linecap="round"/>
<line x1="602.2" y1="388.6" x2="597.4" y2="386.2" stroke="#eeeeea" stroke-width="2.2" stroke-linecap="round"/>
<line x1="613.5" y1="388.5" x2="618.8" y2="387.4" stroke="#e5431a" stroke-width="2.2" stroke-linecap="round"/>
<line x1="618.8" y1="387.4" x2="624.0" y2="386.2" stroke="#eeeeea" stroke-width="2.2" stroke-linecap="round"/>
<line x1="677.0" y1="391.0" x2="672.5" y2="388.6" stroke="#e5431a" stroke-width="2.2" stroke-linecap="round"/>
<line x1="672.5" y1="388.6" x2="667.9" y2="386.2" stroke="#eeeeea" stroke-width="2.2" stroke-linecap="round"/>
<line x1="684.0" y1="388.5" x2="689.2" y2="387.4" stroke="#e5431a" stroke-width="2.2" stroke-linecap="round"/>
<line x1="689.2" y1="387.4" x2="694.5" y2="386.2" stroke="#eeeeea" stroke-width="2.2" stroke-linecap="round"/>
<circle cx="597.4" cy="386.2" r="3.6" fill="url(#gH)"/>
<circle cx="667.9" cy="386.2" r="3.6" fill="url(#gH)"/>
<line x1="613.5" y1="388.5" x2="621.5" y2="396.1" stroke="#e5431a" stroke-width="3.7" stroke-linecap="round"/>
<line x1="621.5" y1="396.1" x2="629.4" y2="403.8" stroke="#1b232c" stroke-width="3.7" stroke-linecap="round"/>
<line x1="641.5" y1="380.5" x2="635.5" y2="392.1" stroke="#c990c6" stroke-width="3.7" stroke-linecap="round"/>
<line x1="635.5" y1="392.1" x2="629.4" y2="403.8" stroke="#1b232c" stroke-width="3.7" stroke-linecap="round"/>
<line x1="648.5" y1="378.5" x2="655.7" y2="390.6" stroke="#c990c6" stroke-width="3.7" stroke-linecap="round"/>
<line x1="655.7" y1="390.6" x2="662.9" y2="402.8" stroke="#1b232c" stroke-width="3.7" stroke-linecap="round"/>
<line x1="662.9" y1="402.8" x2="669.5" y2="397.6" stroke="#1b232c" stroke-width="3.7" stroke-linecap="round"/>
<line x1="669.5" y1="397.6" x2="676.0" y2="392.5" stroke="#e5431a" stroke-width="3.7" stroke-linecap="round"/>
<line x1="684.0" y1="388.5" x2="692.1" y2="396.1" stroke="#e5431a" stroke-width="3.7" stroke-linecap="round"/>
<line x1="692.1" y1="396.1" x2="700.3" y2="403.8" stroke="#1b232c" stroke-width="3.7" stroke-linecap="round"/>
<line x1="712.5" y1="380.5" x2="706.4" y2="392.1" stroke="#c990c6" stroke-width="3.7" stroke-linecap="round"/>
<line x1="706.4" y1="392.1" x2="700.3" y2="403.8" stroke="#1b232c" stroke-width="3.7" stroke-linecap="round"/>
<line x1="719.5" y1="378.5" x2="726.1" y2="390.4" stroke="#c990c6" stroke-width="3.7" stroke-linecap="round"/>
<line x1="726.1" y1="390.4" x2="732.8" y2="402.2" stroke="#1b232c" stroke-width="3.7" stroke-linecap="round"/>
<line x1="629.4" y1="403.8" x2="635.2" y2="410.9" stroke="#1b232c" stroke-width="3.7" stroke-linecap="round"/>
<line x1="635.2" y1="410.9" x2="641.0" y2="418.0" stroke="#e5431a" stroke-width="3.7" stroke-linecap="round"/>
<line x1="662.9" y1="402.8" x2="669.2" y2="416.4" stroke="#1b232c" stroke-width="3.7" stroke-linecap="round"/>
<line x1="669.2" y1="416.4" x2="675.5" y2="430.0" stroke="#e5431a" stroke-width="3.7" stroke-linecap="round"/>
<line x1="700.3" y1="403.8" x2="706.1" y2="410.9" stroke="#1b232c" stroke-width="3.7" stroke-linecap="round"/>
<line x1="706.1" y1="410.9" x2="712.0" y2="418.0" stroke="#e5431a" stroke-width="3.7" stroke-linecap="round"/>
<line x1="732.8" y1="402.2" x2="726.4" y2="408.6" stroke="#1b232c" stroke-width="3.7" stroke-linecap="round"/>
<line x1="726.4" y1="408.6" x2="720.0" y2="415.0" stroke="#e5431a" stroke-width="3.7" stroke-linecap="round"/>
<line x1="629.4" y1="403.8" x2="622.0" y2="417.6" stroke="#1b232c" stroke-width="3.7" stroke-linecap="round"/>
<line x1="622.0" y1="417.6" x2="614.5" y2="431.5" stroke="#e5431a" stroke-width="3.7" stroke-linecap="round"/>
<line x1="604.5" y1="430.0" x2="616.5" y2="436.1" stroke="#e5431a" stroke-width="3.7" stroke-linecap="round"/>
<line x1="616.5" y1="436.1" x2="628.5" y2="442.2" stroke="#1b232c" stroke-width="3.7" stroke-linecap="round"/>
<line x1="641.0" y1="418.0" x2="634.8" y2="430.1" stroke="#e5431a" stroke-width="3.7" stroke-linecap="round"/>
<line x1="634.8" y1="430.1" x2="628.5" y2="442.2" stroke="#1b232c" stroke-width="3.7" stroke-linecap="round"/>
<line x1="649.0" y1="415.0" x2="656.0" y2="428.6" stroke="#e5431a" stroke-width="3.7" stroke-linecap="round"/>
<line x1="656.0" y1="428.6" x2="662.9" y2="442.2" stroke="#1b232c" stroke-width="3.7" stroke-linecap="round"/>
<line x1="628.5" y1="442.2" x2="634.8" y2="448.6" stroke="#1b232c" stroke-width="3.7" stroke-linecap="round"/>
<line x1="634.8" y1="448.6" x2="641.0" y2="455.0" stroke="#e5431a" stroke-width="3.7" stroke-linecap="round"/>
<line x1="662.9" y1="442.2" x2="657.0" y2="449.1" stroke="#1b232c" stroke-width="3.7" stroke-linecap="round"/>
<line x1="657.0" y1="449.1" x2="651.0" y2="456.0" stroke="#e5431a" stroke-width="3.7" stroke-linecap="round"/>
<line x1="662.9" y1="442.2" x2="669.2" y2="436.1" stroke="#1b232c" stroke-width="3.7" stroke-linecap="round"/>
<line x1="669.2" y1="436.1" x2="675.5" y2="430.0" stroke="#e5431a" stroke-width="3.7" stroke-linecap="round"/>
<line x1="685.5" y1="430.5" x2="691.5" y2="436.4" stroke="#e5431a" stroke-width="3.7" stroke-linecap="round"/>
<line x1="691.5" y1="436.4" x2="697.4" y2="442.2" stroke="#1b232c" stroke-width="3.7" stroke-linecap="round"/>
<line x1="700.3" y1="403.8" x2="692.9" y2="417.1" stroke="#1b232c" stroke-width="3.7" stroke-linecap="round"/>
<line x1="692.9" y1="417.1" x2="685.5" y2="430.5" stroke="#e5431a" stroke-width="3.7" stroke-linecap="round"/>
<line x1="712.0" y1="418.0" x2="704.7" y2="430.1" stroke="#e5431a" stroke-width="3.7" stroke-linecap="round"/>
<line x1="704.7" y1="430.1" x2="697.4" y2="442.2" stroke="#1b232c" stroke-width="3.7" stroke-linecap="round"/>
<line x1="720.0" y1="415.0" x2="726.9" y2="428.3" stroke="#e5431a" stroke-width="3.7" stroke-linecap="round"/>
<line x1="726.9" y1="428.3" x2="733.8" y2="441.6" stroke="#1b232c" stroke-width="3.7" stroke-linecap="round"/>
<line x1="697.4" y1="442.2" x2="704.5" y2="448.6" stroke="#1b232c" stroke-width="3.7" stroke-linecap="round"/>
<line x1="704.5" y1="448.6" x2="711.5" y2="455.0" stroke="#e5431a" stroke-width="3.7" stroke-linecap="round"/>
<line x1="733.8" y1="441.6" x2="727.6" y2="448.8" stroke="#1b232c" stroke-width="3.7" stroke-linecap="round"/>
<line x1="727.6" y1="448.8" x2="721.5" y2="456.0" stroke="#e5431a" stroke-width="3.7" stroke-linecap="round"/>
<line x1="662.9" y1="402.8" x2="656.0" y2="408.9" stroke="#1b232c" stroke-width="3.7" stroke-linecap="round"/>
<line x1="656.0" y1="408.9" x2="649.0" y2="415.0" stroke="#e5431a" stroke-width="3.7" stroke-linecap="round"/>
<circle cx="641.5" cy="380.5" r="7.0" fill="url(#gP)"/>
<circle cx="648.5" cy="378.5" r="7.0" fill="url(#gP)"/>
<circle cx="712.5" cy="380.5" r="7.0" fill="url(#gP)"/>
<circle cx="719.5" cy="378.5" r="7.0" fill="url(#gP)"/>
<circle cx="629.4" cy="403.8" r="5.0" fill="url(#gD)"/>
<circle cx="662.9" cy="402.8" r="5.0" fill="url(#gD)"/>
<circle cx="700.3" cy="403.8" r="5.0" fill="url(#gD)"/>
<circle cx="732.8" cy="402.2" r="5.0" fill="url(#gD)"/>
<circle cx="605.5" cy="392.5" r="7.6" fill="url(#gR)"/>
<circle cx="613.5" cy="388.5" r="7.6" fill="url(#gR)"/>
<circle cx="676.0" cy="392.5" r="7.6" fill="url(#gR)"/>
<circle cx="684.0" cy="388.5" r="7.6" fill="url(#gR)"/>
<circle cx="604.5" cy="430.0" r="7.6" fill="url(#gR)"/>
<circle cx="614.5" cy="431.5" r="7.6" fill="url(#gR)"/>
<circle cx="675.5" cy="430.0" r="7.8" fill="url(#gR)"/>
<circle cx="685.5" cy="430.5" r="7.8" fill="url(#gR)"/>
<circle cx="641.0" cy="418.0" r="7.8" fill="url(#gR)"/>
<circle cx="649.0" cy="415.0" r="7.8" fill="url(#gR)"/>
<circle cx="712.0" cy="418.0" r="7.8" fill="url(#gR)"/>
<circle cx="720.0" cy="415.0" r="7.8" fill="url(#gR)"/>
<circle cx="628.5" cy="442.2" r="5.5" fill="url(#gD)"/>
<circle cx="662.9" cy="442.2" r="5.5" fill="url(#gD)"/>
<circle cx="697.4" cy="442.2" r="5.5" fill="url(#gD)"/>
<circle cx="733.8" cy="441.6" r="5.5" fill="url(#gD)"/>
<circle cx="641.0" cy="455.0" r="7.5" fill="url(#gR)"/>
<circle cx="651.0" cy="456.0" r="7.5" fill="url(#gR)"/>
<circle cx="711.5" cy="455.0" r="7.5" fill="url(#gR)"/>
<circle cx="721.5" cy="456.0" r="7.5" fill="url(#gR)"/>
<circle cx="624.0" cy="386.2" r="3.6" fill="url(#gH)"/>
<circle cx="694.5" cy="386.2" r="3.6" fill="url(#gH)"/>
<circle cx="645.1" cy="372.4" r="3.6" fill="url(#gH)"/>
<circle cx="649.5" cy="374.0" r="3.6" fill="url(#gH)"/>
<circle cx="716.1" cy="372.4" r="3.6" fill="url(#gH)"/>
<circle cx="720.5" cy="374.0" r="3.6" fill="url(#gH)"/>
<text x="599.0" y="490.9" font-family="Liberation Serif" font-size="19.3" font-weight="normal" text-anchor="start" fill="#222" textLength="153.1" lengthAdjust="spacingAndGlyphs" >-1.518 eV/molecule</text>
</g>
</svg>
</body></html>
